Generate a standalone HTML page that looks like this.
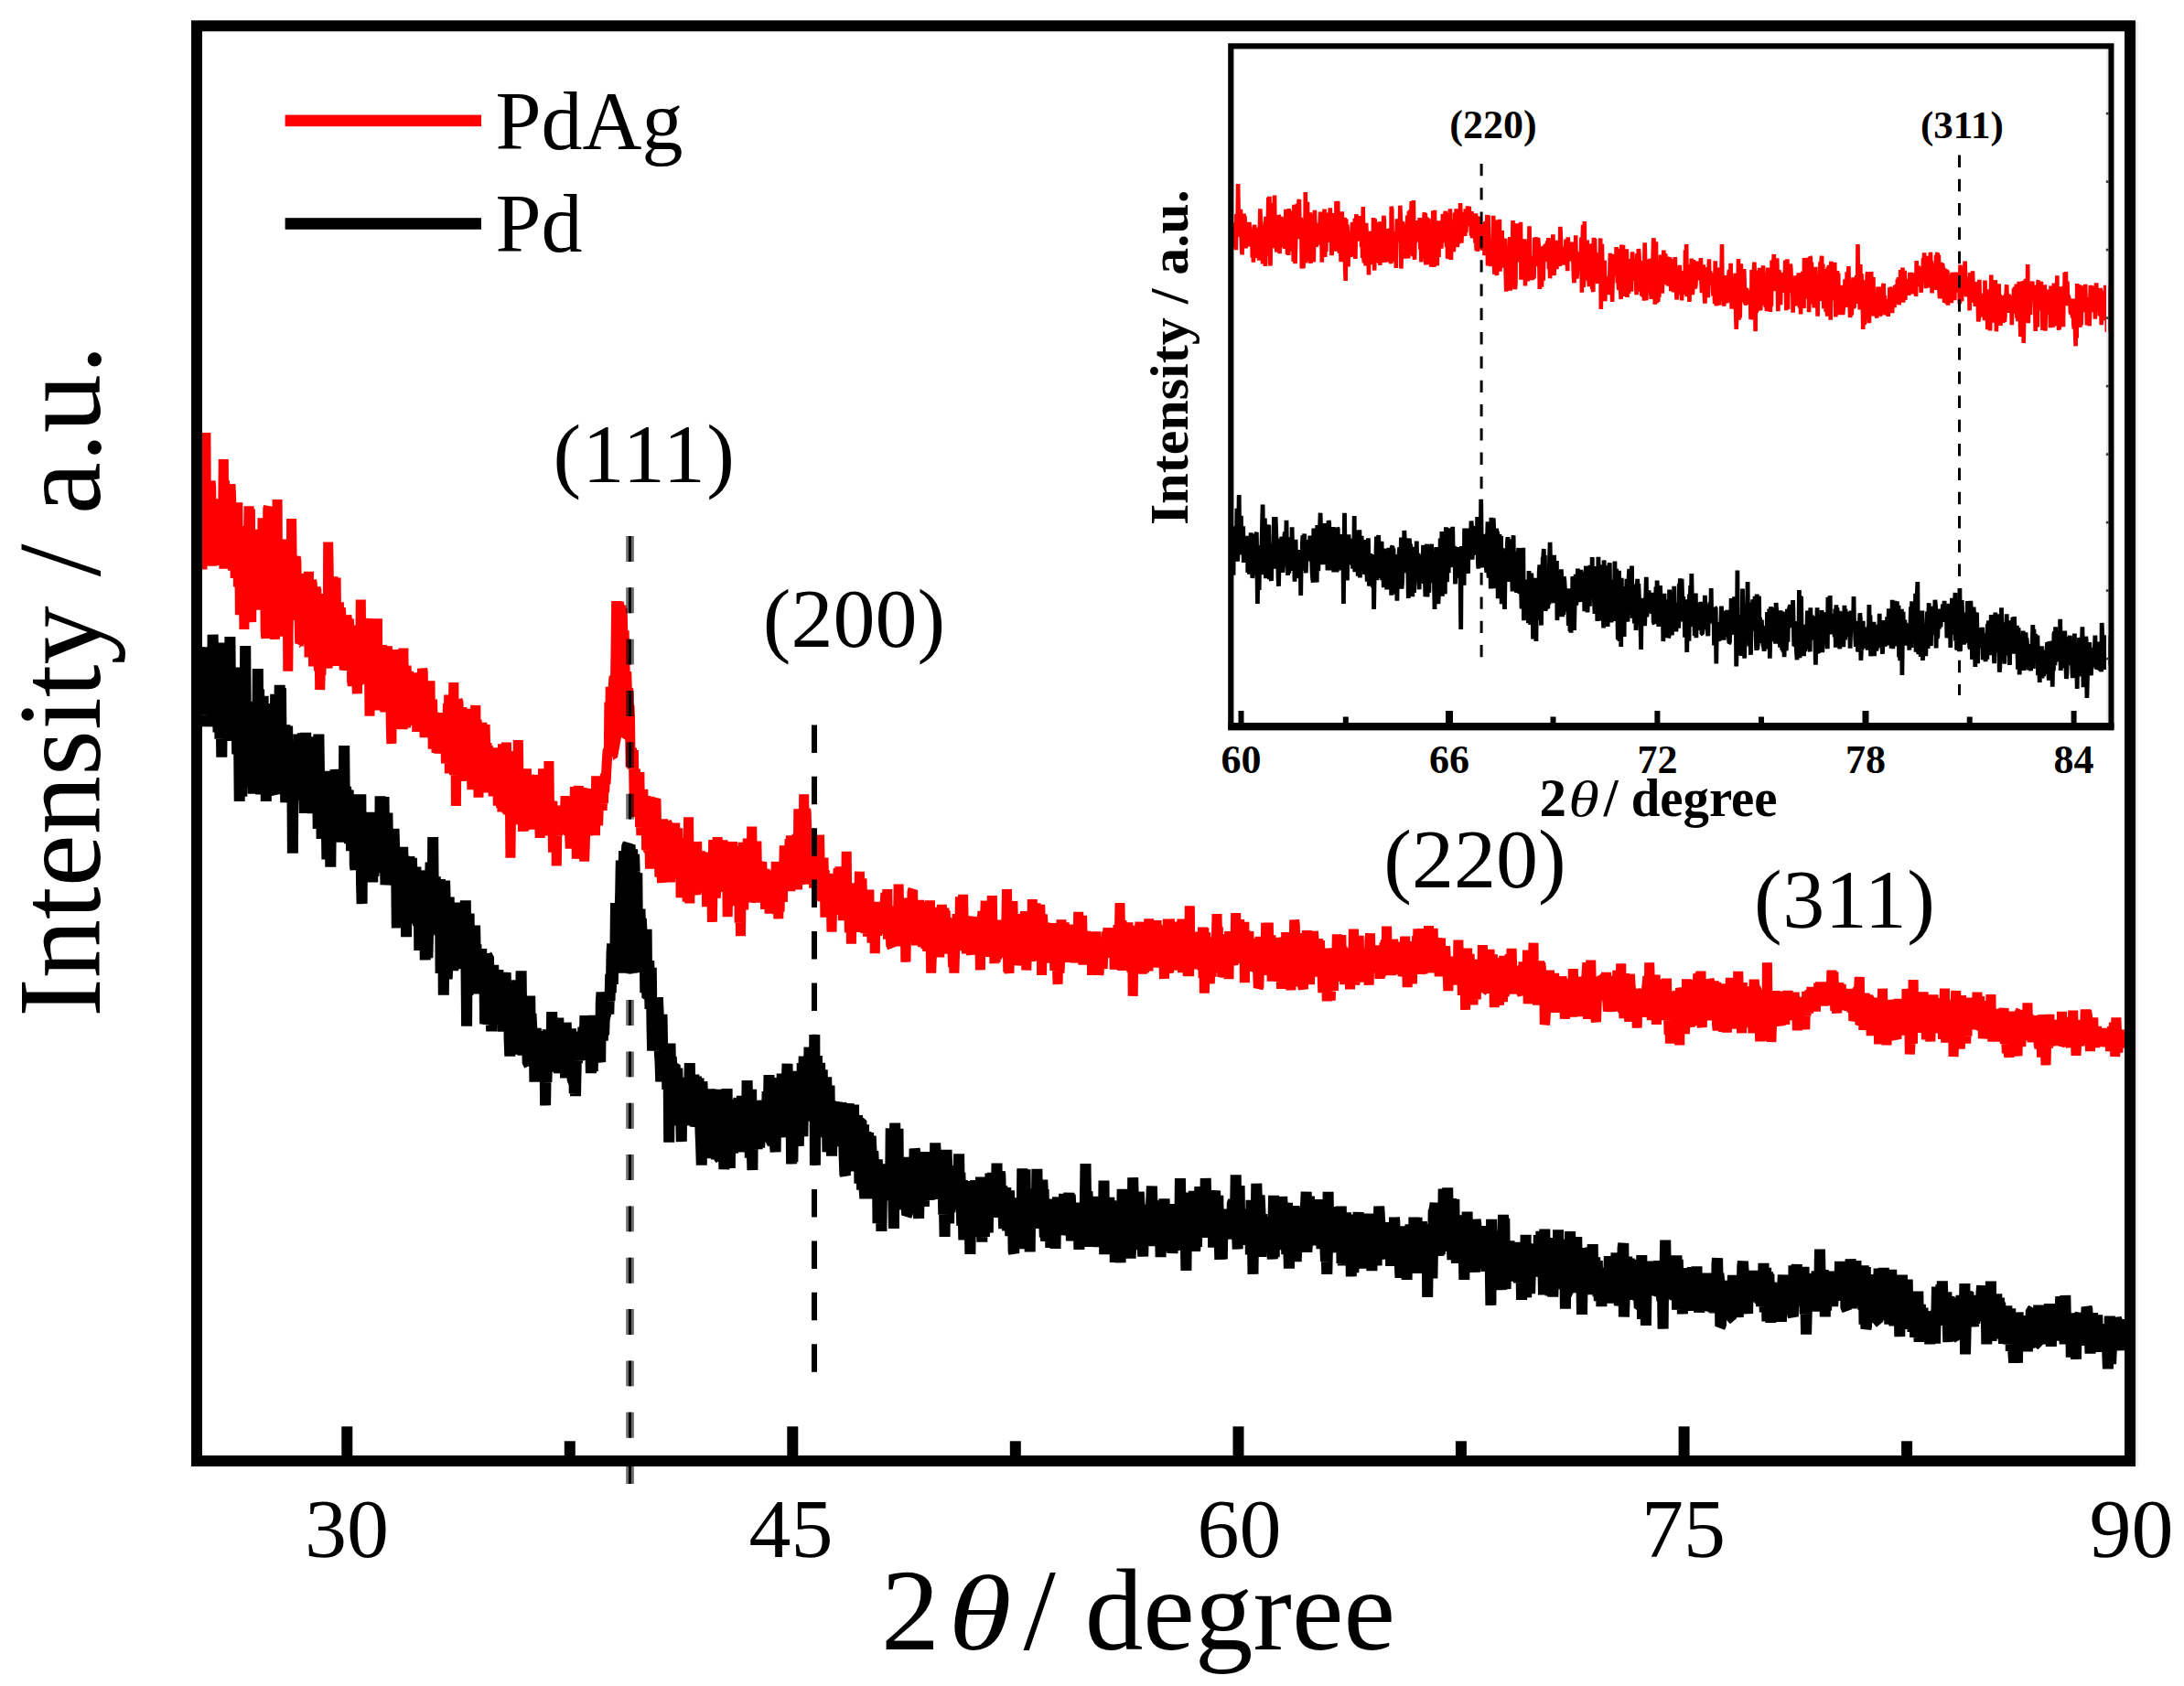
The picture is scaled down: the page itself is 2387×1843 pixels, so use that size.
<!DOCTYPE html>
<html lang="en"><head><meta charset="utf-8"><title>XRD patterns of PdAg and Pd</title>
<style>html,body{margin:0;padding:0;background:#fff}body{width:2387px;height:1843px;overflow:hidden}</style></head>
<body>
<svg width="2387" height="1843" viewBox="0 0 2387 1843" style="display:block">
<rect x="0" y="0" width="2387" height="1843" fill="#fff"/>
<path d="M221.0,622.5 L221.6,557.2 L222.3,551.2 L222.9,490.0 L223.6,566.9 L224.2,557.2 L224.9,473.0 L225.5,577.8 L226.2,581.3 L226.8,533.8 L227.5,539.5 L228.1,552.8 L228.8,590.2 L229.4,586.1 L230.1,525.9 L230.7,531.8 L231.3,591.6 L232.0,618.6 L232.6,566.5 L233.3,545.2 L233.9,602.8 L234.6,557.1 L235.2,590.9 L235.9,617.9 L236.5,588.2 L237.2,570.3 L237.8,592.3 L238.5,547.6 L239.1,563.3 L239.8,550.8 L240.4,563.6 L241.0,554.9 L241.7,565.6 L242.3,560.0 L243.0,576.3 L243.6,576.2 L244.3,502.0 L244.9,621.8 L245.6,525.2 L246.2,619.3 L246.9,569.5 L247.5,537.5 L248.2,573.0 L248.8,582.4 L249.5,615.2 L250.1,546.4 L250.7,589.1 L251.4,586.8 L252.0,529.2 L252.7,546.5 L253.3,605.5 L254.0,609.6 L254.6,623.4 L255.3,606.7 L255.9,603.5 L256.6,596.1 L257.2,631.9 L257.9,568.2 L258.5,591.7 L259.2,609.7 L259.8,549.4 L260.4,641.4 L261.1,576.8 L261.7,600.8 L262.4,672.2 L263.0,579.7 L263.7,590.4 L264.3,657.8 L265.0,575.1 L265.6,596.6 L266.3,627.8 L266.9,688.0 L267.6,631.9 L268.2,625.4 L268.9,657.7 L269.5,647.6 L270.1,634.5 L270.8,593.1 L271.4,592.5 L272.1,553.3 L272.7,639.7 L273.4,556.5 L274.0,647.2 L274.7,680.2 L275.3,582.8 L276.0,595.9 L276.6,603.3 L277.3,648.2 L277.9,590.7 L278.6,616.2 L279.2,603.0 L279.8,612.8 L280.5,666.8 L281.1,588.5 L281.8,625.1 L282.4,632.5 L283.1,653.6 L283.7,578.8 L284.4,663.4 L285.0,639.6 L285.7,655.6 L286.3,627.3 L287.0,566.4 L287.6,602.1 L288.3,654.8 L288.9,627.0 L289.5,624.1 L290.2,690.5 L290.8,697.8 L291.5,625.3 L292.1,696.4 L292.8,555.6 L293.4,554.0 L294.1,659.1 L294.7,619.1 L295.4,649.8 L296.0,648.1 L296.7,627.0 L297.3,655.2 L298.0,636.9 L298.6,577.9 L299.2,640.7 L299.9,640.2 L300.5,698.9 L301.2,595.4 L301.8,636.4 L302.5,621.6 L303.1,546.0 L303.8,695.8 L304.4,651.7 L305.1,622.8 L305.7,644.9 L306.4,666.8 L307.0,605.9 L307.7,631.8 L308.3,695.0 L308.9,671.5 L309.6,640.6 L310.2,626.0 L310.9,637.5 L311.5,589.5 L312.2,676.1 L312.8,655.6 L313.5,648.9 L314.1,599.8 L314.8,733.7 L315.4,662.6 L316.1,654.1 L316.7,628.5 L317.4,662.9 L318.0,677.7 L318.6,567.0 L319.3,628.1 L319.9,616.9 L320.6,607.5 L321.2,673.5 L321.9,664.0 L322.5,658.6 L323.2,608.5 L323.8,613.1 L324.5,646.1 L325.1,635.1 L325.8,653.3 L326.4,626.9 L327.1,672.1 L327.7,703.1 L328.3,702.4 L329.0,702.6 L329.6,656.5 L330.3,685.4 L330.9,644.1 L331.6,687.6 L332.2,646.5 L332.9,644.3 L333.5,640.6 L334.2,685.4 L334.8,673.1 L335.5,671.7 L336.1,630.9 L336.8,673.3 L337.4,624.9 L338.0,718.4 L338.7,669.6 L339.3,681.4 L340.0,673.8 L340.6,634.2 L341.3,638.0 L341.9,680.8 L342.6,728.5 L343.2,650.3 L343.9,663.9 L344.5,684.7 L345.2,643.5 L345.8,644.6 L346.5,675.8 L347.1,687.1 L347.7,677.1 L348.4,733.4 L349.0,684.1 L349.7,754.0 L350.3,734.8 L351.0,737.7 L351.6,649.0 L352.3,678.4 L352.9,721.8 L353.6,650.5 L354.2,663.3 L354.9,653.1 L355.5,651.5 L356.2,657.8 L356.8,693.8 L357.4,723.5 L358.1,730.4 L358.7,592.5 L359.4,634.8 L360.0,686.6 L360.7,678.7 L361.3,697.1 L362.0,683.7 L362.6,638.4 L363.3,697.6 L363.9,630.4 L364.6,667.2 L365.2,694.0 L365.9,694.9 L366.5,727.9 L367.1,631.5 L367.8,695.1 L368.4,704.9 L369.1,678.0 L369.7,704.7 L370.4,658.4 L371.0,706.8 L371.7,704.7 L372.3,664.3 L373.0,673.9 L373.6,687.8 L374.3,675.9 L374.9,723.4 L375.6,700.4 L376.2,732.5 L376.8,729.5 L377.5,699.4 L378.1,693.0 L378.8,672.7 L379.4,677.1 L380.1,677.8 L380.7,710.3 L381.4,676.5 L382.0,703.9 L382.7,707.6 L383.3,689.0 L384.0,698.2 L384.6,744.3 L385.3,749.5 L385.9,683.6 L386.5,700.6 L387.2,696.4 L387.8,699.8 L388.5,750.2 L389.1,727.6 L389.8,743.8 L390.4,758.3 L391.1,699.2 L391.7,706.7 L392.4,713.4 L393.0,740.2 L393.7,711.1 L394.3,655.5 L395.0,745.4 L395.6,745.7 L396.2,727.3 L396.9,695.3 L397.5,675.7 L398.2,746.1 L398.8,729.3 L399.5,693.5 L400.1,705.3 L400.8,707.4 L401.4,676.2 L402.1,726.8 L402.7,700.7 L403.4,714.1 L404.0,782.7 L404.7,720.8 L405.3,738.1 L405.9,735.8 L406.6,726.6 L407.2,727.9 L407.9,775.4 L408.5,724.1 L409.2,771.2 L409.8,707.0 L410.5,750.1 L411.1,736.8 L411.8,714.7 L412.4,676.3 L413.1,776.4 L413.7,706.9 L414.4,713.0 L415.0,742.1 L415.6,741.4 L416.3,748.2 L416.9,735.7 L417.6,705.0 L418.2,766.5 L418.9,722.4 L419.5,752.1 L420.2,762.0 L420.8,778.3 L421.5,744.0 L422.1,742.7 L422.8,745.4 L423.4,706.3 L424.1,734.3 L424.7,729.0 L425.3,726.3 L426.0,759.0 L426.6,748.1 L427.3,794.3 L427.9,813.0 L428.6,714.4 L429.2,760.5 L429.9,734.6 L430.5,771.3 L431.2,762.4 L431.8,780.4 L432.5,766.5 L433.1,777.0 L433.8,753.3 L434.4,710.2 L435.0,734.2 L435.7,741.8 L436.3,750.1 L437.0,738.9 L437.6,796.8 L438.3,757.7 L438.9,789.4 L439.6,754.2 L440.2,797.1 L440.9,708.5 L441.5,774.5 L442.2,733.6 L442.8,771.3 L443.5,795.7 L444.1,727.7 L444.7,743.9 L445.4,767.6 L446.0,758.6 L446.7,733.9 L447.3,787.1 L448.0,764.0 L448.6,790.3 L449.3,769.9 L449.9,739.2 L450.6,753.6 L451.2,792.8 L451.9,735.6 L452.5,754.7 L453.2,777.3 L453.8,786.2 L454.4,782.7 L455.1,735.4 L455.7,800.0 L456.4,763.3 L457.0,767.3 L457.7,767.4 L458.3,763.2 L459.0,748.5 L459.6,762.1 L460.3,796.5 L460.9,741.8 L461.6,731.2 L462.2,734.0 L462.9,778.2 L463.5,786.8 L464.1,806.1 L464.8,757.7 L465.4,777.0 L466.1,784.5 L466.7,800.6 L467.4,797.1 L468.0,758.3 L468.7,747.7 L469.3,772.2 L470.0,744.3 L470.6,804.2 L471.3,772.8 L471.9,774.8 L472.6,764.5 L473.2,818.6 L473.8,793.0 L474.5,779.0 L475.1,802.9 L475.8,788.8 L476.4,805.2 L477.1,822.7 L477.7,788.6 L478.4,807.2 L479.0,807.7 L479.7,823.6 L480.3,812.5 L481.0,800.9 L481.6,786.6 L482.3,808.8 L482.9,779.2 L483.5,818.8 L484.2,806.1 L484.8,818.1 L485.5,794.4 L486.1,788.7 L486.8,786.9 L487.4,834.5 L488.1,804.5 L488.7,805.0 L489.4,769.2 L490.0,810.5 L490.7,759.5 L491.3,845.4 L492.0,807.9 L492.6,814.7 L493.2,780.4 L493.9,788.7 L494.5,830.0 L495.2,810.7 L495.8,746.0 L496.5,847.2 L497.1,832.6 L497.8,770.1 L498.4,881.0 L499.1,789.0 L499.7,794.8 L500.4,766.1 L501.0,767.0 L501.7,799.6 L502.3,803.4 L502.9,831.3 L503.6,810.5 L504.2,854.0 L504.9,773.3 L505.5,784.2 L506.2,825.3 L506.8,812.4 L507.5,794.7 L508.1,838.7 L508.8,846.9 L509.4,852.7 L510.1,810.0 L510.7,820.0 L511.4,826.0 L512.0,821.8 L512.6,846.3 L513.3,808.2 L513.9,830.2 L514.6,774.9 L515.2,840.3 L515.9,863.1 L516.5,820.6 L517.2,848.1 L517.8,778.9 L518.5,813.2 L519.1,782.3 L519.8,771.0 L520.4,835.7 L521.1,787.1 L521.7,800.7 L522.3,807.6 L523.0,871.8 L523.6,821.0 L524.3,826.1 L524.9,832.4 L525.6,831.0 L526.2,817.5 L526.9,789.9 L527.5,807.0 L528.2,866.5 L528.8,831.8 L529.5,816.4 L530.1,792.0 L530.8,825.7 L531.4,828.6 L532.0,812.0 L532.7,852.1 L533.3,815.3 L534.0,826.9 L534.6,853.6 L535.3,838.9 L535.9,862.9 L536.6,829.6 L537.2,825.6 L537.9,849.7 L538.5,844.4 L539.2,870.4 L539.8,851.7 L540.5,841.8 L541.1,855.2 L541.7,861.7 L542.4,817.4 L543.0,843.7 L543.7,840.0 L544.3,880.7 L545.0,838.5 L545.6,879.6 L546.3,820.9 L546.9,853.2 L547.6,883.2 L548.2,850.3 L548.9,887.5 L549.5,813.3 L550.2,860.7 L550.8,865.1 L551.4,858.7 L552.1,824.7 L552.7,880.3 L553.4,811.6 L554.0,888.6 L554.7,872.8 L555.3,890.3 L556.0,860.3 L556.6,839.8 L557.3,854.7 L557.9,937.7 L558.6,881.9 L559.2,860.2 L559.9,877.5 L560.5,879.1 L561.1,901.0 L561.8,821.0 L562.4,858.1 L563.1,883.5 L563.7,883.4 L564.4,854.4 L565.0,861.1 L565.7,865.0 L566.3,809.0 L567.0,854.0 L567.6,852.1 L568.3,841.3 L568.9,858.0 L569.6,898.1 L570.2,845.1 L570.8,888.3 L571.5,908.8 L572.1,871.3 L572.8,908.3 L573.4,863.8 L574.1,904.6 L574.7,866.3 L575.4,840.4 L576.0,875.7 L576.7,906.7 L577.3,855.6 L578.0,879.9 L578.6,847.5 L579.2,850.5 L579.9,880.8 L580.5,867.2 L581.2,884.3 L581.8,900.5 L582.5,847.0 L583.1,858.5 L583.8,875.1 L584.4,903.5 L585.1,868.3 L585.7,865.5 L586.4,885.8 L587.0,906.7 L587.7,865.2 L588.3,871.7 L588.9,879.5 L589.6,894.8 L590.2,915.9 L590.9,854.9 L591.5,847.3 L592.2,884.8 L592.8,893.0 L593.5,840.4 L594.1,871.5 L594.8,903.3 L595.4,874.8 L596.1,895.2 L596.7,890.0 L597.4,899.9 L598.0,896.4 L598.6,893.8 L599.3,913.3 L599.9,832.0 L600.6,893.1 L601.2,912.7 L601.9,881.3 L602.5,885.4 L603.2,878.7 L603.8,875.7 L604.5,931.6 L605.1,902.9 L605.8,929.6 L606.4,908.5 L607.1,896.6 L607.7,890.2 L608.3,946.5 L609.0,895.3 L609.6,913.5 L610.3,880.5 L610.9,900.3 L611.6,906.2 L612.2,893.6 L612.9,893.9 L613.5,908.9 L614.2,909.4 L614.8,897.1 L615.5,899.0 L616.1,889.0 L616.8,910.0 L617.4,897.3 L618.0,870.1 L618.7,893.7 L619.3,911.1 L620.0,904.7 L620.6,882.6 L621.3,912.9 L621.9,910.4 L622.6,910.4 L623.2,927.6 L623.9,892.7 L624.5,910.2 L625.2,894.1 L625.8,917.4 L626.5,920.6 L627.1,908.0 L627.7,912.7 L628.4,860.0 L629.0,910.3 L629.7,876.1 L630.3,938.8 L631.0,920.0 L631.6,869.3 L632.3,859.1 L632.9,922.3 L633.6,881.5 L634.2,907.6 L634.9,872.7 L635.5,898.3 L636.2,884.6 L636.8,907.8 L637.4,890.0 L638.1,924.1 L638.7,941.5 L639.4,919.6 L640.0,894.8 L640.7,904.6 L641.3,864.3 L642.0,862.5 L642.6,913.5 L643.3,869.9 L643.9,886.2 L644.6,886.1 L645.2,874.5 L645.9,894.8 L646.5,863.6 L647.1,867.1 L647.8,906.3 L648.4,872.8 L649.1,901.2 L649.7,898.8 L650.4,913.0 L651.0,892.8 L651.7,848.3 L652.3,869.4 L653.0,872.6 L653.6,902.2 L654.3,883.9 L654.9,866.4 L655.6,882.1 L656.2,865.1 L656.8,880.1 L657.5,870.3 L658.1,885.9 L658.8,868.5 L659.4,878.1 L660.1,855.8 L660.7,866.0 L661.4,845.8 L662.0,856.9 L662.7,844.3 L663.3,832.8 L664.0,822.0 L664.6,818.9 L665.3,826.9 L665.9,767.6 L666.5,827.4 L667.2,750.9 L667.8,783.9 L668.5,772.1 L669.1,783.0 L669.8,763.2 L670.4,747.3 L671.1,738.9 L671.7,744.4 L672.4,760.2 L673.0,712.0 L673.7,657.1 L674.3,678.4 L675.0,686.7 L675.6,719.4 L676.2,658.8 L676.9,661.1 L677.5,680.0 L678.2,677.8 L678.8,661.7 L679.5,699.8 L680.1,664.8 L680.8,691.4 L681.4,730.7 L682.1,689.4 L682.7,717.9 L683.4,766.5 L684.0,739.5 L684.7,734.2 L685.3,752.7 L685.9,789.3 L686.6,752.0 L687.2,778.4 L687.9,770.7 L688.5,784.0 L689.2,838.2 L689.8,818.6 L690.5,818.0 L691.1,840.7 L691.8,824.3 L692.4,820.0 L693.1,870.2 L693.7,869.5 L694.4,840.6 L695.0,874.5 L695.6,892.7 L696.3,877.6 L696.9,881.1 L697.6,850.6 L698.2,874.9 L698.9,844.1 L699.5,904.3 L700.2,881.9 L700.8,913.1 L701.5,874.7 L702.1,908.7 L702.8,863.0 L703.4,887.7 L704.1,907.9 L704.7,905.8 L705.3,899.4 L706.0,870.1 L706.6,929.1 L707.3,917.7 L707.9,928.3 L708.6,929.3 L709.2,901.3 L709.9,917.4 L710.5,949.7 L711.2,895.6 L711.8,920.9 L712.5,903.0 L713.1,949.0 L713.8,919.1 L714.4,896.3 L715.0,905.7 L715.7,890.8 L716.3,874.5 L717.0,873.4 L717.6,906.3 L718.3,899.2 L718.9,924.9 L719.6,906.5 L720.2,927.7 L720.9,958.7 L721.5,901.5 L722.2,901.4 L722.8,945.1 L723.5,965.0 L724.1,909.8 L724.7,895.4 L725.4,922.3 L726.0,920.6 L726.7,943.0 L727.3,908.6 L728.0,924.8 L728.6,924.4 L729.3,899.9 L729.9,900.5 L730.6,940.7 L731.2,943.1 L731.9,917.1 L732.5,964.2 L733.2,952.5 L733.8,943.9 L734.4,947.3 L735.1,942.8 L735.7,950.4 L736.4,953.4 L737.0,938.6 L737.7,899.7 L738.3,934.8 L739.0,922.4 L739.6,916.0 L740.3,949.8 L740.9,905.4 L741.6,954.5 L742.2,927.2 L742.9,916.4 L743.5,923.3 L744.1,981.3 L744.8,967.3 L745.4,934.9 L746.1,960.3 L746.7,973.9 L747.4,925.0 L748.0,936.2 L748.7,958.9 L749.3,949.7 L750.0,935.8 L750.6,973.3 L751.3,985.4 L751.9,958.8 L752.6,893.4 L753.2,954.3 L753.8,987.3 L754.5,951.9 L755.1,943.7 L755.8,949.6 L756.4,964.0 L757.1,960.5 L757.7,955.6 L758.4,921.3 L759.0,929.2 L759.7,945.1 L760.3,964.3 L761.0,978.3 L761.6,920.0 L762.3,949.5 L762.9,944.2 L763.5,951.3 L764.2,958.0 L764.8,938.6 L765.5,930.3 L766.1,975.0 L766.8,970.7 L767.4,949.2 L768.1,955.3 L768.7,944.9 L769.4,931.7 L770.0,971.2 L770.7,946.4 L771.3,937.9 L772.0,948.0 L772.6,991.2 L773.2,968.3 L773.9,964.4 L774.5,961.6 L775.2,976.7 L775.8,974.1 L776.5,933.6 L777.1,954.4 L777.8,946.0 L778.4,1007.9 L779.1,957.4 L779.7,918.0 L780.4,981.9 L781.0,963.7 L781.7,922.7 L782.3,981.9 L782.9,960.9 L783.6,968.1 L784.2,915.0 L784.9,961.9 L785.5,948.1 L786.2,923.9 L786.8,945.9 L787.5,962.7 L788.1,959.9 L788.8,972.9 L789.4,957.2 L790.1,918.4 L790.7,974.9 L791.4,942.0 L792.0,930.5 L792.6,952.5 L793.3,929.9 L793.9,967.3 L794.6,939.5 L795.2,1002.1 L795.9,954.5 L796.5,948.1 L797.2,946.2 L797.8,926.8 L798.5,942.2 L799.1,944.9 L799.8,954.6 L800.4,920.2 L801.1,963.2 L801.7,990.2 L802.3,953.6 L803.0,961.7 L803.6,972.0 L804.3,945.9 L804.9,953.6 L805.6,982.7 L806.2,966.5 L806.9,936.7 L807.5,924.9 L808.2,1008.8 L808.8,970.3 L809.5,1023.3 L810.1,963.3 L810.8,973.3 L811.4,961.4 L812.0,920.8 L812.7,994.3 L813.3,969.5 L814.0,953.2 L814.6,970.3 L815.3,951.9 L815.9,949.4 L816.6,973.3 L817.2,916.6 L817.9,975.1 L818.5,963.2 L819.2,970.2 L819.8,973.2 L820.5,985.8 L821.1,983.5 L821.7,903.5 L822.4,947.8 L823.0,968.9 L823.7,946.1 L824.3,936.9 L825.0,964.7 L825.6,963.0 L826.3,979.5 L826.9,919.5 L827.6,968.5 L828.2,970.2 L828.9,959.8 L829.5,986.7 L830.2,941.6 L830.8,965.5 L831.4,952.3 L832.1,959.8 L832.7,942.2 L833.4,958.7 L834.0,974.7 L834.7,964.9 L835.3,969.8 L836.0,949.8 L836.6,994.0 L837.3,952.6 L837.9,966.3 L838.6,977.2 L839.2,963.8 L839.9,981.2 L840.5,971.3 L841.1,998.6 L841.8,978.2 L842.4,975.5 L843.1,954.2 L843.7,976.6 L844.4,986.1 L845.0,975.5 L845.7,951.4 L846.3,957.9 L847.0,963.2 L847.6,967.2 L848.3,942.0 L848.9,999.1 L849.6,963.7 L850.2,966.9 L850.8,1004.4 L851.5,963.0 L852.1,996.9 L852.8,945.7 L853.4,952.5 L854.1,942.7 L854.7,950.4 L855.4,986.0 L856.0,947.2 L856.7,949.2 L857.3,924.4 L858.0,948.7 L858.6,957.9 L859.3,944.0 L859.9,944.3 L860.5,964.3 L861.2,958.1 L861.8,945.5 L862.5,931.8 L863.1,917.2 L863.8,974.1 L864.4,913.4 L865.1,952.7 L865.7,935.7 L866.4,924.4 L867.0,953.8 L867.7,921.7 L868.3,959.2 L869.0,913.8 L869.6,942.5 L870.2,957.1 L870.9,911.9 L871.5,972.3 L872.2,946.8 L872.8,884.2 L873.5,956.6 L874.1,966.8 L874.8,921.9 L875.4,922.8 L876.1,934.2 L876.7,886.5 L877.4,929.3 L878.0,945.5 L878.7,868.2 L879.3,949.6 L879.9,966.6 L880.6,884.5 L881.2,888.1 L881.9,912.2 L882.5,941.6 L883.2,936.9 L883.8,909.7 L884.5,906.0 L885.1,915.7 L885.8,962.8 L886.4,913.2 L887.1,922.5 L887.7,956.7 L888.4,931.6 L889.0,917.3 L889.6,970.8 L890.3,948.5 L890.9,927.9 L891.6,935.9 L892.2,965.6 L892.9,939.1 L893.5,953.9 L894.2,969.0 L894.8,972.7 L895.5,912.7 L896.1,943.3 L896.8,948.0 L897.4,958.9 L898.1,974.8 L898.7,984.8 L899.3,950.7 L900.0,937.7 L900.6,967.2 L901.3,951.2 L901.9,1002.8 L902.6,974.1 L903.2,968.6 L903.9,989.8 L904.5,955.3 L905.2,963.0 L905.8,967.4 L906.5,985.8 L907.1,1000.2 L907.8,989.9 L908.4,989.7 L909.0,1018.6 L909.7,982.4 L910.3,970.1 L911.0,999.3 L911.6,962.3 L912.3,974.1 L912.9,980.8 L913.6,992.2 L914.2,961.2 L914.9,971.7 L915.5,959.7 L916.2,949.3 L916.8,999.8 L917.5,987.2 L918.1,947.4 L918.7,958.7 L919.4,990.6 L920.0,967.3 L920.7,958.8 L921.3,1006.1 L922.0,971.4 L922.6,974.2 L923.3,993.5 L923.9,968.4 L924.6,983.4 L925.2,930.7 L925.9,998.4 L926.5,969.6 L927.2,1005.5 L927.8,991.3 L928.4,1019.4 L929.1,989.5 L929.7,975.5 L930.4,1031.6 L931.0,965.2 L931.7,986.7 L932.3,986.1 L933.0,1004.3 L933.6,990.0 L934.3,973.7 L934.9,1008.4 L935.6,982.8 L936.2,996.1 L936.9,1018.2 L937.5,1015.5 L938.1,980.8 L938.8,992.5 L939.4,952.7 L940.1,1013.1 L940.7,1006.0 L941.4,1012.5 L942.0,960.4 L942.7,993.0 L943.3,973.9 L944.0,988.0 L944.6,992.8 L945.3,1007.7 L945.9,1020.0 L946.6,1013.8 L947.2,1005.5 L947.8,995.3 L948.5,1023.5 L949.1,1006.7 L949.8,972.5 L950.4,1002.0 L951.1,1012.0 L951.7,987.6 L952.4,1008.1 L953.0,1030.6 L953.7,1000.8 L954.3,1004.5 L955.0,1005.0 L955.6,989.5 L956.3,1042.3 L956.9,989.4 L957.5,1001.6 L958.2,993.1 L958.8,1022.7 L959.5,1004.8 L960.1,1020.8 L960.8,985.8 L961.4,1006.2 L962.1,1016.0 L962.7,1017.8 L963.4,996.2 L964.0,1004.5 L964.7,1007.9 L965.3,1000.4 L966.0,999.1 L966.6,1014.3 L967.2,986.4 L967.9,976.1 L968.5,997.4 L969.2,1009.8 L969.8,972.0 L970.5,1026.6 L971.1,1006.3 L971.8,1014.0 L972.4,991.3 L973.1,1004.0 L973.7,1033.7 L974.4,1034.4 L975.0,1014.9 L975.7,1000.8 L976.3,1003.7 L976.9,1026.6 L977.6,994.8 L978.2,991.7 L978.9,1004.5 L979.5,1021.3 L980.2,990.3 L980.8,1013.1 L981.5,1013.6 L982.1,966.5 L982.8,1005.7 L983.4,1023.0 L984.1,1017.6 L984.7,985.3 L985.4,1034.3 L986.0,1016.0 L986.6,1013.8 L987.3,1003.1 L987.9,1004.2 L988.6,987.3 L989.2,1005.2 L989.9,1051.7 L990.5,1018.9 L991.2,998.0 L991.8,981.8 L992.5,990.6 L993.1,1003.9 L993.8,1029.8 L994.4,982.9 L995.1,1009.5 L995.7,1018.8 L996.3,1019.4 L997.0,974.0 L997.6,973.1 L998.3,1019.1 L998.9,1011.5 L999.6,1018.1 L1000.2,994.3 L1000.9,1001.7 L1001.5,1033.3 L1002.2,1007.9 L1002.8,1009.3 L1003.5,998.2 L1004.1,1029.7 L1004.8,983.9 L1005.4,1002.0 L1006.0,1017.4 L1006.7,1010.3 L1007.3,1025.3 L1008.0,1018.4 L1008.6,1035.0 L1009.3,1009.1 L1009.9,1011.1 L1010.6,1018.1 L1011.2,986.1 L1011.9,1037.1 L1012.5,1000.9 L1013.2,1033.8 L1013.8,1039.3 L1014.5,1033.1 L1015.1,1020.7 L1015.7,1007.9 L1016.4,984.3 L1017.0,1027.9 L1017.7,1063.6 L1018.3,1047.1 L1019.0,1014.9 L1019.6,1030.0 L1020.3,1013.3 L1020.9,1027.0 L1021.6,1014.2 L1022.2,1017.1 L1022.9,992.0 L1023.5,1008.0 L1024.2,1017.3 L1024.8,1041.1 L1025.4,1024.3 L1026.1,999.2 L1026.7,1046.2 L1027.4,1025.5 L1028.0,1038.3 L1028.7,1004.1 L1029.3,989.0 L1030.0,1006.2 L1030.6,1001.8 L1031.3,1023.5 L1031.9,992.8 L1032.6,1003.8 L1033.2,995.6 L1033.9,1021.2 L1034.5,1003.0 L1035.1,1042.3 L1035.8,1032.2 L1036.4,1033.1 L1037.1,1014.9 L1037.7,1022.6 L1038.4,1033.3 L1039.0,1003.8 L1039.7,1039.7 L1040.3,1017.0 L1041.0,1040.0 L1041.6,1057.0 L1042.3,1045.3 L1042.9,1063.6 L1043.6,1039.5 L1044.2,1013.4 L1044.8,1011.8 L1045.5,1015.2 L1046.1,999.3 L1046.8,1023.8 L1047.4,1007.7 L1048.1,1039.1 L1048.7,1025.7 L1049.4,980.3 L1050.0,1004.1 L1050.7,1003.4 L1051.3,1009.0 L1052.0,1009.6 L1052.6,977.9 L1053.3,1018.5 L1053.9,1002.6 L1054.5,1028.9 L1055.2,1037.2 L1055.8,1021.8 L1056.5,1042.2 L1057.1,1029.4 L1057.8,1012.3 L1058.4,1015.3 L1059.1,1022.4 L1059.7,1031.8 L1060.4,1025.6 L1061.0,1040.0 L1061.7,1043.3 L1062.3,1005.0 L1063.0,1002.4 L1063.6,1021.3 L1064.2,1031.5 L1064.9,1039.9 L1065.5,1035.3 L1066.2,1034.9 L1066.8,1006.8 L1067.5,1030.6 L1068.1,1012.0 L1068.8,1031.4 L1069.4,1040.4 L1070.1,1011.4 L1070.7,1019.2 L1071.4,1060.3 L1072.0,1009.5 L1072.7,1014.0 L1073.3,1002.9 L1073.9,996.3 L1074.6,1041.4 L1075.2,1010.0 L1075.9,1010.8 L1076.5,1007.2 L1077.2,984.7 L1077.8,1035.4 L1078.5,1010.9 L1079.1,1019.9 L1079.8,1045.8 L1080.4,1017.5 L1081.1,1022.2 L1081.7,1022.8 L1082.4,1042.6 L1083.0,994.4 L1083.6,1008.5 L1084.3,979.1 L1084.9,1018.7 L1085.6,1029.5 L1086.2,1010.2 L1086.9,1053.1 L1087.5,1034.9 L1088.2,1051.9 L1088.8,1020.2 L1089.5,1048.9 L1090.1,1008.2 L1090.8,1024.4 L1091.4,1019.4 L1092.1,1009.9 L1092.7,1046.2 L1093.3,1040.5 L1094.0,1005.7 L1094.6,1029.9 L1095.3,1019.8 L1095.9,1021.1 L1096.6,1029.2 L1097.2,1010.2 L1097.9,1022.6 L1098.5,1024.9 L1099.2,1009.3 L1099.8,1011.3 L1100.5,972.0 L1101.1,1021.6 L1101.8,1062.6 L1102.4,1060.0 L1103.0,1063.6 L1103.7,1028.1 L1104.3,986.6 L1105.0,1011.4 L1105.6,1007.3 L1106.3,1009.8 L1106.9,985.2 L1107.6,1029.2 L1108.2,1027.3 L1108.9,1010.3 L1109.5,1023.8 L1110.2,1042.4 L1110.8,1055.1 L1111.5,1001.9 L1112.1,1055.3 L1112.7,999.1 L1113.4,1011.8 L1114.0,1019.8 L1114.7,1055.2 L1115.3,1038.2 L1116.0,1037.9 L1116.6,1055.5 L1117.3,1031.4 L1117.9,1019.2 L1118.6,1053.7 L1119.2,1023.4 L1119.9,1004.5 L1120.5,996.3 L1121.2,1030.0 L1121.8,1060.5 L1122.4,1040.3 L1123.1,1027.8 L1123.7,1048.5 L1124.4,1000.3 L1125.0,1034.3 L1125.7,1017.0 L1126.3,1050.8 L1127.0,1011.5 L1127.6,1040.3 L1128.3,983.0 L1128.9,1026.1 L1129.6,1037.7 L1130.2,1023.1 L1130.9,1050.1 L1131.5,1021.3 L1132.1,987.2 L1132.8,1049.3 L1133.4,1047.0 L1134.1,1032.6 L1134.7,1047.4 L1135.4,1035.2 L1136.0,1009.4 L1136.7,988.9 L1137.3,1005.8 L1138.0,1018.4 L1138.6,1066.0 L1139.3,999.7 L1139.9,1008.5 L1140.6,1048.8 L1141.2,1012.3 L1141.8,1012.1 L1142.5,1008.7 L1143.1,1051.6 L1143.8,1038.2 L1144.4,1040.3 L1145.1,1052.3 L1145.7,1042.3 L1146.4,1049.0 L1147.0,1033.3 L1147.7,1042.1 L1148.3,1038.4 L1149.0,1040.0 L1149.6,1009.2 L1150.3,1025.5 L1150.9,1023.3 L1151.5,1018.9 L1152.2,1029.5 L1152.8,1060.9 L1153.5,1046.8 L1154.1,1033.0 L1154.8,1037.4 L1155.4,1055.6 L1156.1,1076.0 L1156.7,1039.4 L1157.4,1060.8 L1158.0,1063.4 L1158.7,1048.9 L1159.3,1043.6 L1160.0,1005.4 L1160.6,1023.6 L1161.2,1034.6 L1161.9,1041.6 L1162.5,1042.2 L1163.2,1008.3 L1163.8,1027.2 L1164.5,1040.0 L1165.1,1023.5 L1165.8,1032.0 L1166.4,1043.3 L1167.1,1039.9 L1167.7,1037.6 L1168.4,1046.0 L1169.0,1051.6 L1169.7,1029.7 L1170.3,1018.0 L1170.9,1023.2 L1171.6,1026.0 L1172.2,1032.5 L1172.9,1010.6 L1173.5,1021.5 L1174.2,1028.8 L1174.8,1052.4 L1175.5,1039.9 L1176.1,1029.8 L1176.8,1044.9 L1177.4,1034.4 L1178.1,1035.1 L1178.7,996.8 L1179.4,1036.5 L1180.0,1033.7 L1180.6,1042.1 L1181.3,1023.5 L1181.9,1032.3 L1182.6,1000.9 L1183.2,1025.7 L1183.9,1054.5 L1184.5,1026.9 L1185.2,1032.3 L1185.8,1026.4 L1186.5,1017.8 L1187.1,1040.2 L1187.8,1033.0 L1188.4,1049.5 L1189.1,1021.0 L1189.7,1034.7 L1190.3,1029.5 L1191.0,1026.1 L1191.6,1050.8 L1192.3,1024.4 L1192.9,1024.8 L1193.6,1066.0 L1194.2,1034.7 L1194.9,1032.9 L1195.5,1043.1 L1196.2,1021.1 L1196.8,1041.7 L1197.5,1018.5 L1198.1,1029.3 L1198.8,1027.8 L1199.4,1057.3 L1200.0,1046.4 L1200.7,1065.2 L1201.3,1062.7 L1202.0,1025.8 L1202.6,1044.7 L1203.3,1029.5 L1203.9,1026.2 L1204.6,1055.2 L1205.2,1058.9 L1205.9,1037.9 L1206.5,1041.0 L1207.2,1040.1 L1207.8,1040.4 L1208.5,1040.7 L1209.1,1018.3 L1209.7,1044.4 L1210.4,1023.0 L1211.0,1014.4 L1211.7,1031.2 L1212.3,1037.6 L1213.0,1046.6 L1213.6,1038.9 L1214.3,1037.2 L1214.9,1021.4 L1215.6,1038.6 L1216.2,1035.5 L1216.9,1036.7 L1217.5,1019.7 L1218.2,1059.7 L1218.8,1044.3 L1219.4,1043.1 L1220.1,1033.7 L1220.7,1027.6 L1221.4,1047.7 L1222.0,1011.1 L1222.7,1025.4 L1223.3,1028.5 L1224.0,987.2 L1224.6,1028.9 L1225.3,1057.6 L1225.9,1006.0 L1226.6,1060.9 L1227.2,1041.0 L1227.9,1051.7 L1228.5,1028.3 L1229.1,1054.3 L1229.8,1032.3 L1230.4,1042.3 L1231.1,1014.0 L1231.7,1047.9 L1232.4,1041.3 L1233.0,1008.3 L1233.7,1038.3 L1234.3,1035.0 L1235.0,1054.2 L1235.6,1029.6 L1236.3,1044.3 L1236.9,1062.7 L1237.6,1026.9 L1238.2,1088.8 L1238.8,1045.7 L1239.5,1037.8 L1240.1,1018.8 L1240.8,1012.0 L1241.4,1057.4 L1242.1,1033.7 L1242.7,1030.9 L1243.4,1058.8 L1244.0,1052.2 L1244.7,1042.8 L1245.3,1016.2 L1246.0,1007.9 L1246.6,1055.6 L1247.3,1038.9 L1247.9,1035.0 L1248.5,1064.7 L1249.2,1031.7 L1249.8,1044.2 L1250.5,1063.1 L1251.1,1047.4 L1251.8,1028.0 L1252.4,1022.9 L1253.1,1056.0 L1253.7,1015.9 L1254.4,1049.1 L1255.0,1061.5 L1255.7,1004.4 L1256.3,1048.2 L1257.0,1036.0 L1257.6,1057.3 L1258.2,1039.0 L1258.9,1023.4 L1259.5,1040.2 L1260.2,1036.9 L1260.8,1024.8 L1261.5,1030.9 L1262.1,1015.7 L1262.8,1021.6 L1263.4,1045.0 L1264.1,1006.0 L1264.7,1039.5 L1265.4,1035.4 L1266.0,1026.1 L1266.7,1057.6 L1267.3,1046.5 L1267.9,1026.5 L1268.6,1039.2 L1269.2,1050.6 L1269.9,1011.4 L1270.5,1039.8 L1271.2,1032.6 L1271.8,1043.0 L1272.5,1070.0 L1273.1,1026.5 L1273.8,1031.6 L1274.4,1017.9 L1275.1,1040.8 L1275.7,1047.4 L1276.3,1004.5 L1277.0,1061.4 L1277.6,1063.5 L1278.3,1004.7 L1278.9,1012.7 L1279.6,1045.4 L1280.2,1039.2 L1280.9,1057.0 L1281.5,1032.9 L1282.2,1059.1 L1282.8,1014.9 L1283.5,1044.5 L1284.1,1030.3 L1284.8,1029.6 L1285.4,1007.6 L1286.0,1030.5 L1286.7,1060.5 L1287.3,1026.2 L1288.0,1033.1 L1288.6,1039.2 L1289.3,1020.3 L1289.9,1041.3 L1290.6,1046.4 L1291.2,1032.6 L1291.9,1004.6 L1292.5,1063.2 L1293.2,1037.6 L1293.8,1036.4 L1294.5,1033.2 L1295.1,1026.7 L1295.7,1008.1 L1296.4,1036.5 L1297.0,1040.2 L1297.7,1055.1 L1298.3,1066.8 L1299.0,1025.5 L1299.6,1067.1 L1300.3,990.4 L1300.9,1049.7 L1301.6,1021.6 L1302.2,1046.1 L1302.9,1023.6 L1303.5,1052.7 L1304.2,1018.7 L1304.8,1042.1 L1305.4,1034.3 L1306.1,1048.5 L1306.7,1047.1 L1307.4,1045.8 L1308.0,1034.2 L1308.7,1059.1 L1309.3,1054.2 L1310.0,1030.2 L1310.6,1058.0 L1311.3,1033.3 L1311.9,1046.7 L1312.6,1043.7 L1313.2,1044.0 L1313.9,1060.2 L1314.5,1013.5 L1315.1,1069.1 L1315.8,1014.2 L1316.4,1085.7 L1317.1,1056.5 L1317.7,1019.3 L1318.4,1052.7 L1319.0,1040.3 L1319.7,1024.5 L1320.3,1067.7 L1321.0,1065.8 L1321.6,1052.1 L1322.3,1075.4 L1322.9,1047.3 L1323.6,1039.1 L1324.2,1067.6 L1324.8,1029.9 L1325.5,1057.4 L1326.1,1062.7 L1326.8,1046.2 L1327.4,1043.7 L1328.1,1050.1 L1328.7,1045.4 L1329.4,1028.1 L1330.0,999.1 L1330.7,1030.7 L1331.3,1013.4 L1332.0,1056.3 L1332.6,1030.7 L1333.3,1042.6 L1333.9,1051.3 L1334.5,1055.7 L1335.2,1021.4 L1335.8,1068.0 L1336.5,1053.0 L1337.1,1048.0 L1337.8,1021.0 L1338.4,1068.8 L1339.1,1047.7 L1339.7,1055.4 L1340.4,1031.1 L1341.0,1068.6 L1341.7,1061.3 L1342.3,1034.3 L1343.0,1070.1 L1343.6,1018.1 L1344.2,1051.0 L1344.9,1047.2 L1345.5,1048.0 L1346.2,1024.4 L1346.8,1030.3 L1347.5,1052.8 L1348.1,1054.7 L1348.8,1036.0 L1349.4,1032.7 L1350.1,1028.6 L1350.7,998.0 L1351.4,1035.3 L1352.0,1028.9 L1352.7,1006.5 L1353.3,1008.7 L1353.9,1020.0 L1354.6,1005.0 L1355.2,1032.4 L1355.9,1034.5 L1356.5,1023.1 L1357.2,1033.0 L1357.8,1038.9 L1358.5,1011.3 L1359.1,1052.9 L1359.8,1007.8 L1360.4,1074.2 L1361.1,1017.5 L1361.7,1042.9 L1362.4,1036.8 L1363.0,1049.3 L1363.6,1030.9 L1364.3,1052.6 L1364.9,1018.0 L1365.6,1056.8 L1366.2,1039.8 L1366.9,1050.9 L1367.5,1061.7 L1368.2,1025.5 L1368.8,1035.5 L1369.5,1033.0 L1370.1,1043.9 L1370.8,1048.3 L1371.4,1057.5 L1372.1,1049.3 L1372.7,1043.2 L1373.3,1054.6 L1374.0,1062.5 L1374.6,1061.4 L1375.3,1079.7 L1375.9,1078.6 L1376.6,1049.4 L1377.2,1023.9 L1377.9,1034.4 L1378.5,1055.4 L1379.2,1065.6 L1379.8,1037.3 L1380.5,1052.7 L1381.1,1046.4 L1381.8,1053.3 L1382.4,1048.6 L1383.0,1037.4 L1383.7,1008.8 L1384.3,1020.8 L1385.0,1051.2 L1385.6,1043.6 L1386.3,1008.6 L1386.9,1045.8 L1387.6,1059.9 L1388.2,1025.9 L1388.9,1022.5 L1389.5,1048.6 L1390.2,1072.7 L1390.8,1052.1 L1391.5,1040.4 L1392.1,1052.3 L1392.7,1055.9 L1393.4,1053.3 L1394.0,1046.4 L1394.7,1028.7 L1395.3,1027.4 L1396.0,1037.7 L1396.6,1044.2 L1397.3,1024.7 L1397.9,1072.9 L1398.6,1056.5 L1399.2,1038.0 L1399.9,1059.4 L1400.5,1080.9 L1401.2,1051.0 L1401.8,1050.6 L1402.4,1064.0 L1403.1,1024.5 L1403.7,1037.6 L1404.4,1034.2 L1405.0,1059.5 L1405.7,1019.1 L1406.3,1052.1 L1407.0,1038.8 L1407.6,1042.0 L1408.3,1037.6 L1408.9,1070.7 L1409.6,1032.5 L1410.2,1027.1 L1410.9,1082.4 L1411.5,1037.0 L1412.1,1054.7 L1412.8,1045.3 L1413.4,1046.8 L1414.1,1047.0 L1414.7,1005.5 L1415.4,1013.3 L1416.0,1078.5 L1416.7,1026.9 L1417.3,1054.3 L1418.0,1027.7 L1418.6,1044.4 L1419.3,1041.6 L1419.9,1069.4 L1420.6,1042.6 L1421.2,1021.0 L1421.8,1022.9 L1422.5,1051.0 L1423.1,1060.3 L1423.8,1079.0 L1424.4,1081.1 L1425.1,1023.3 L1425.7,1044.7 L1426.4,1026.8 L1427.0,1051.5 L1427.7,1060.3 L1428.3,1017.2 L1429.0,1061.6 L1429.6,1059.7 L1430.3,1043.8 L1430.9,1038.3 L1431.5,1076.0 L1432.2,1046.3 L1432.8,1030.9 L1433.5,1051.1 L1434.1,1066.8 L1434.8,1061.3 L1435.4,1018.0 L1436.1,1027.7 L1436.7,1043.8 L1437.4,1053.5 L1438.0,1053.8 L1438.7,1030.6 L1439.3,1067.3 L1440.0,1060.2 L1440.6,1026.3 L1441.2,1036.8 L1441.9,1051.3 L1442.5,1028.1 L1443.2,1054.3 L1443.8,1056.9 L1444.5,1047.1 L1445.1,1064.3 L1445.8,1085.1 L1446.4,1044.3 L1447.1,1063.4 L1447.7,1048.3 L1448.4,1081.5 L1449.0,1077.0 L1449.7,1056.5 L1450.3,1094.3 L1450.9,1069.9 L1451.6,1056.1 L1452.2,1037.0 L1452.9,1040.8 L1453.5,1054.8 L1454.2,1093.5 L1454.8,1075.7 L1455.5,1080.6 L1456.1,1073.4 L1456.8,1080.7 L1457.4,1082.7 L1458.1,1039.5 L1458.7,1067.9 L1459.4,1068.1 L1460.0,1065.8 L1460.6,1064.5 L1461.3,1021.4 L1461.9,1060.3 L1462.6,1034.5 L1463.2,1072.9 L1463.9,1048.2 L1464.5,1052.0 L1465.2,1055.5 L1465.8,1022.0 L1466.5,1053.2 L1467.1,1034.7 L1467.8,1071.9 L1468.4,1046.7 L1469.1,1036.3 L1469.7,1076.2 L1470.3,1050.1 L1471.0,1038.5 L1471.6,1052.9 L1472.3,1051.2 L1472.9,1058.4 L1473.6,1037.2 L1474.2,1072.2 L1474.9,1059.4 L1475.5,1081.4 L1476.2,1063.2 L1476.8,1036.9 L1477.5,1071.5 L1478.1,1049.0 L1478.8,1055.0 L1479.4,1015.6 L1480.0,1031.8 L1480.7,1076.2 L1481.3,1071.6 L1482.0,1023.0 L1482.6,1058.3 L1483.3,1058.5 L1483.9,1073.7 L1484.6,1034.0 L1485.2,1022.9 L1485.9,1057.6 L1486.5,1041.0 L1487.2,1042.2 L1487.8,1036.9 L1488.5,1073.0 L1489.1,1037.3 L1489.7,1068.1 L1490.4,1062.2 L1491.0,1040.5 L1491.7,1068.1 L1492.3,1072.9 L1493.0,1057.4 L1493.6,1047.4 L1494.3,1064.0 L1494.9,1038.5 L1495.6,1059.3 L1496.2,1076.7 L1496.9,1028.1 L1497.5,1020.3 L1498.2,1062.7 L1498.8,1035.6 L1499.4,1042.6 L1500.1,1052.6 L1500.7,1039.7 L1501.4,1051.9 L1502.0,1033.4 L1502.7,1040.8 L1503.3,1048.0 L1504.0,1058.4 L1504.6,1042.3 L1505.3,1054.6 L1505.9,1058.8 L1506.6,1057.1 L1507.2,1046.9 L1507.9,1069.8 L1508.5,1036.1 L1509.1,1065.5 L1509.8,1064.5 L1510.4,1062.8 L1511.1,1040.2 L1511.7,1063.8 L1512.4,1056.0 L1513.0,1030.5 L1513.7,1043.4 L1514.3,1027.5 L1515.0,1054.3 L1515.6,1012.6 L1516.3,1063.0 L1516.9,1032.8 L1517.6,1032.7 L1518.2,1045.6 L1518.8,1046.2 L1519.5,1060.2 L1520.1,1043.7 L1520.8,1066.2 L1521.4,1040.7 L1522.1,1065.0 L1522.7,1026.8 L1523.4,1040.7 L1524.0,1049.8 L1524.7,1061.9 L1525.3,1057.3 L1526.0,1036.3 L1526.6,1029.8 L1527.3,1049.1 L1527.9,1048.2 L1528.5,1043.6 L1529.2,1049.2 L1529.8,1029.8 L1530.5,1057.0 L1531.1,1064.0 L1531.8,1036.3 L1532.4,1036.8 L1533.1,1067.0 L1533.7,1064.5 L1534.4,1037.5 L1535.0,1039.0 L1535.7,1023.7 L1536.3,1055.5 L1537.0,1051.1 L1537.6,1048.5 L1538.2,1079.1 L1538.9,1045.1 L1539.5,1045.8 L1540.2,1050.8 L1540.8,1044.4 L1541.5,1062.0 L1542.1,1044.2 L1542.8,1047.9 L1543.4,1075.3 L1544.1,1037.8 L1544.7,1029.2 L1545.4,1047.2 L1546.0,1036.5 L1546.7,1035.9 L1547.3,1047.0 L1547.9,1055.0 L1548.6,1023.2 L1549.2,1040.5 L1549.9,1015.4 L1550.5,1054.3 L1551.2,1028.7 L1551.8,1050.1 L1552.5,1064.6 L1553.1,1058.4 L1553.8,1046.3 L1554.4,1015.1 L1555.1,1064.7 L1555.7,1035.0 L1556.4,1050.4 L1557.0,1033.6 L1557.6,1036.9 L1558.3,1060.7 L1558.9,1018.6 L1559.6,1024.1 L1560.2,1036.3 L1560.9,1053.8 L1561.5,1012.2 L1562.2,1056.8 L1562.8,1035.3 L1563.5,1050.0 L1564.1,1063.3 L1564.8,1048.3 L1565.4,1056.4 L1566.1,1015.0 L1566.7,1038.8 L1567.3,1045.2 L1568.0,1041.5 L1568.6,1047.2 L1569.3,1040.8 L1569.9,1038.4 L1570.6,1037.9 L1571.2,1057.0 L1571.9,1029.1 L1572.5,1049.3 L1573.2,1067.4 L1573.8,1030.1 L1574.5,1025.6 L1575.1,1060.0 L1575.8,1040.2 L1576.4,1041.8 L1577.0,1061.6 L1577.7,1057.6 L1578.3,1044.4 L1579.0,1049.9 L1579.6,1034.3 L1580.3,1047.5 L1580.9,1055.3 L1581.6,1064.9 L1582.2,1066.0 L1582.9,1083.1 L1583.5,1057.6 L1584.2,1073.5 L1584.8,1063.5 L1585.5,1045.7 L1586.1,1065.1 L1586.7,1066.0 L1587.4,1071.2 L1588.0,1069.0 L1588.7,1064.0 L1589.3,1049.1 L1590.0,1058.2 L1590.6,1067.3 L1591.3,1073.0 L1591.9,1075.7 L1592.6,1069.1 L1593.2,1073.5 L1593.9,1027.7 L1594.5,1067.3 L1595.2,1056.2 L1595.8,1042.7 L1596.4,1065.1 L1597.1,1074.3 L1597.7,1059.0 L1598.4,1087.8 L1599.0,1051.5 L1599.7,1059.2 L1600.3,1064.5 L1601.0,1045.8 L1601.6,1103.9 L1602.3,1053.5 L1602.9,1046.7 L1603.6,1036.6 L1604.2,1079.9 L1604.9,1085.5 L1605.5,1049.5 L1606.1,1043.0 L1606.8,1058.4 L1607.4,1065.4 L1608.1,1057.1 L1608.7,1073.3 L1609.4,1048.9 L1610.0,1098.4 L1610.7,1071.6 L1611.3,1082.0 L1612.0,1059.6 L1612.6,1081.3 L1613.3,1092.4 L1613.9,1054.9 L1614.6,1068.4 L1615.2,1082.1 L1615.8,1073.0 L1616.5,1053.3 L1617.1,1059.3 L1617.8,1075.8 L1618.4,1072.0 L1619.1,1056.8 L1619.7,1072.3 L1620.4,1033.2 L1621.0,1068.7 L1621.7,1082.5 L1622.3,1082.3 L1623.0,1061.8 L1623.6,1072.4 L1624.3,1072.2 L1624.9,1067.2 L1625.5,1056.9 L1626.2,1047.8 L1626.8,1060.0 L1627.5,1050.8 L1628.1,1037.8 L1628.8,1085.9 L1629.4,1047.0 L1630.1,1058.5 L1630.7,1058.4 L1631.4,1043.4 L1632.0,1071.8 L1632.7,1047.0 L1633.3,1101.3 L1634.0,1047.3 L1634.6,1055.4 L1635.2,1064.0 L1635.9,1064.3 L1636.5,1066.1 L1637.2,1081.3 L1637.8,1084.8 L1638.5,1098.9 L1639.1,1052.8 L1639.8,1083.4 L1640.4,1078.4 L1641.1,1065.3 L1641.7,1051.6 L1642.4,1095.0 L1643.0,1085.1 L1643.7,1044.9 L1644.3,1088.9 L1644.9,1074.6 L1645.6,1071.3 L1646.2,1078.6 L1646.9,1059.4 L1647.5,1065.6 L1648.2,1080.3 L1648.8,1051.4 L1649.5,1048.3 L1650.1,1043.8 L1650.8,1077.3 L1651.4,1052.3 L1652.1,1037.0 L1652.7,1059.9 L1653.4,1075.1 L1654.0,1071.9 L1654.6,1055.7 L1655.3,1086.6 L1655.9,1073.2 L1656.6,1072.2 L1657.2,1061.4 L1657.9,1062.8 L1658.5,1064.1 L1659.2,1068.1 L1659.8,1074.0 L1660.5,1074.2 L1661.1,1064.7 L1661.8,1066.7 L1662.4,1078.7 L1663.1,1085.9 L1663.7,1087.0 L1664.3,1069.0 L1665.0,1051.4 L1665.6,1072.1 L1666.3,1072.4 L1666.9,1071.4 L1667.6,1077.9 L1668.2,1063.4 L1668.9,1072.6 L1669.5,1038.6 L1670.2,1097.3 L1670.8,1072.0 L1671.5,1067.1 L1672.1,1079.7 L1672.8,1068.6 L1673.4,1061.8 L1674.0,1085.1 L1674.7,1073.9 L1675.3,1063.2 L1676.0,1030.7 L1676.6,1080.4 L1677.3,1079.8 L1677.9,1070.0 L1678.6,1090.8 L1679.2,1061.7 L1679.9,1088.0 L1680.5,1098.5 L1681.2,1062.6 L1681.8,1080.0 L1682.5,1050.3 L1683.1,1077.9 L1683.7,1052.3 L1684.4,1058.2 L1685.0,1081.5 L1685.7,1095.1 L1686.3,1086.9 L1687.0,1076.6 L1687.6,1068.6 L1688.3,1120.0 L1688.9,1116.9 L1689.6,1102.9 L1690.2,1062.1 L1690.9,1071.8 L1691.5,1061.3 L1692.2,1091.6 L1692.8,1079.1 L1693.4,1060.6 L1694.1,1081.5 L1694.7,1077.0 L1695.4,1068.6 L1696.0,1079.5 L1696.7,1098.3 L1697.3,1071.2 L1698.0,1080.0 L1698.6,1064.0 L1699.3,1079.5 L1699.9,1106.7 L1700.6,1094.3 L1701.2,1075.3 L1701.9,1077.0 L1702.5,1105.2 L1703.1,1084.3 L1703.8,1078.6 L1704.4,1103.6 L1705.1,1080.4 L1705.7,1075.8 L1706.4,1092.8 L1707.0,1067.4 L1707.7,1080.3 L1708.3,1075.2 L1709.0,1088.9 L1709.6,1085.1 L1710.3,1113.7 L1710.9,1096.9 L1711.6,1087.1 L1712.2,1095.1 L1712.8,1083.5 L1713.5,1090.4 L1714.1,1095.1 L1714.8,1093.2 L1715.4,1106.7 L1716.1,1094.4 L1716.7,1076.1 L1717.4,1089.9 L1718.0,1069.9 L1718.7,1111.6 L1719.3,1059.1 L1720.0,1083.7 L1720.6,1092.5 L1721.3,1072.1 L1721.9,1079.0 L1722.5,1099.1 L1723.2,1067.6 L1723.8,1097.2 L1724.5,1081.0 L1725.1,1079.1 L1725.8,1111.1 L1726.4,1094.5 L1727.1,1089.0 L1727.7,1080.1 L1728.4,1085.9 L1729.0,1081.0 L1729.7,1108.0 L1730.3,1085.9 L1731.0,1073.3 L1731.6,1076.4 L1732.2,1088.7 L1732.9,1068.4 L1733.5,1073.1 L1734.2,1061.7 L1734.8,1052.3 L1735.5,1113.9 L1736.1,1080.7 L1736.8,1107.5 L1737.4,1091.4 L1738.1,1087.9 L1738.7,1049.7 L1739.4,1083.7 L1740.0,1086.7 L1740.7,1072.3 L1741.3,1094.4 L1741.9,1101.6 L1742.6,1091.5 L1743.2,1088.2 L1743.9,1114.0 L1744.5,1117.0 L1745.2,1096.3 L1745.8,1069.9 L1746.5,1070.4 L1747.1,1077.2 L1747.8,1072.9 L1748.4,1087.4 L1749.1,1075.1 L1749.7,1089.0 L1750.4,1081.1 L1751.0,1083.8 L1751.6,1071.1 L1752.3,1090.3 L1752.9,1091.6 L1753.6,1076.6 L1754.2,1064.9 L1754.9,1088.9 L1755.5,1063.0 L1756.2,1077.0 L1756.8,1094.5 L1757.5,1105.5 L1758.1,1084.0 L1758.8,1092.6 L1759.4,1105.8 L1760.1,1073.1 L1760.7,1081.7 L1761.3,1091.6 L1762.0,1105.9 L1762.6,1071.1 L1763.3,1070.7 L1763.9,1100.7 L1764.6,1103.9 L1765.2,1078.6 L1765.9,1088.1 L1766.5,1100.5 L1767.2,1084.1 L1767.8,1060.8 L1768.5,1090.0 L1769.1,1100.2 L1769.8,1069.5 L1770.4,1105.2 L1771.0,1082.7 L1771.7,1053.4 L1772.3,1090.2 L1773.0,1066.0 L1773.6,1106.8 L1774.3,1094.5 L1774.9,1113.1 L1775.6,1064.2 L1776.2,1090.2 L1776.9,1109.4 L1777.5,1106.1 L1778.2,1098.4 L1778.8,1094.9 L1779.5,1099.2 L1780.1,1104.9 L1780.7,1116.8 L1781.4,1064.8 L1782.0,1076.0 L1782.7,1082.7 L1783.3,1094.6 L1784.0,1097.7 L1784.6,1086.8 L1785.3,1091.3 L1785.9,1104.2 L1786.6,1111.0 L1787.2,1080.9 L1787.9,1089.2 L1788.5,1094.2 L1789.2,1123.7 L1789.8,1083.3 L1790.4,1098.4 L1791.1,1094.5 L1791.7,1087.1 L1792.4,1108.4 L1793.0,1092.6 L1793.7,1086.2 L1794.3,1095.0 L1795.0,1098.2 L1795.6,1084.0 L1796.3,1082.4 L1796.9,1111.9 L1797.6,1084.8 L1798.2,1108.9 L1798.9,1091.7 L1799.5,1080.8 L1800.1,1076.2 L1800.8,1067.1 L1801.4,1105.3 L1802.1,1104.7 L1802.7,1052.4 L1803.4,1077.1 L1804.0,1085.7 L1804.7,1097.0 L1805.3,1115.1 L1806.0,1084.4 L1806.6,1067.9 L1807.3,1099.0 L1807.9,1089.7 L1808.6,1082.1 L1809.2,1065.5 L1809.8,1105.7 L1810.5,1119.8 L1811.1,1080.1 L1811.8,1072.5 L1812.4,1088.4 L1813.1,1092.8 L1813.7,1106.9 L1814.4,1100.1 L1815.0,1070.5 L1815.7,1103.8 L1816.3,1104.6 L1817.0,1091.1 L1817.6,1105.4 L1818.3,1077.8 L1818.9,1095.2 L1819.5,1078.3 L1820.2,1101.6 L1820.8,1115.0 L1821.5,1069.5 L1822.1,1103.1 L1822.8,1115.3 L1823.4,1107.3 L1824.1,1130.9 L1824.7,1102.6 L1825.4,1140.7 L1826.0,1105.7 L1826.7,1083.6 L1827.3,1101.9 L1828.0,1092.9 L1828.6,1124.8 L1829.2,1132.0 L1829.9,1133.3 L1830.5,1117.6 L1831.2,1102.4 L1831.8,1094.8 L1832.5,1085.5 L1833.1,1115.5 L1833.8,1083.2 L1834.4,1099.5 L1835.1,1107.3 L1835.7,1142.4 L1836.4,1080.1 L1837.0,1082.2 L1837.7,1083.1 L1838.3,1115.8 L1838.9,1083.0 L1839.6,1086.3 L1840.2,1110.4 L1840.9,1115.3 L1841.5,1130.2 L1842.2,1099.3 L1842.8,1114.1 L1843.5,1070.3 L1844.1,1108.4 L1844.8,1111.8 L1845.4,1113.1 L1846.1,1089.8 L1846.7,1119.6 L1847.4,1122.4 L1848.0,1096.5 L1848.6,1096.9 L1849.3,1090.3 L1849.9,1090.5 L1850.6,1094.8 L1851.2,1074.4 L1851.9,1072.6 L1852.5,1089.4 L1853.2,1085.2 L1853.8,1108.1 L1854.5,1089.5 L1855.1,1077.5 L1855.8,1064.5 L1856.4,1086.9 L1857.1,1075.2 L1857.7,1063.8 L1858.3,1121.3 L1859.0,1061.6 L1859.6,1117.3 L1860.3,1123.0 L1860.9,1093.3 L1861.6,1084.7 L1862.2,1102.0 L1862.9,1077.8 L1863.5,1094.6 L1864.2,1103.4 L1864.8,1072.4 L1865.5,1115.3 L1866.1,1093.0 L1866.8,1096.3 L1867.4,1112.0 L1868.0,1070.7 L1868.7,1073.0 L1869.3,1096.5 L1870.0,1097.9 L1870.6,1088.6 L1871.3,1090.6 L1871.9,1088.6 L1872.6,1077.8 L1873.2,1072.6 L1873.9,1081.3 L1874.5,1094.5 L1875.2,1099.4 L1875.8,1073.8 L1876.5,1119.2 L1877.1,1126.3 L1877.7,1096.4 L1878.4,1081.3 L1879.0,1090.9 L1879.7,1105.8 L1880.3,1092.5 L1881.0,1122.7 L1881.6,1089.9 L1882.3,1108.8 L1882.9,1101.7 L1883.6,1127.8 L1884.2,1101.2 L1884.9,1102.3 L1885.5,1082.2 L1886.2,1091.4 L1886.8,1075.2 L1887.4,1128.6 L1888.1,1096.5 L1888.7,1092.6 L1889.4,1096.3 L1890.0,1102.0 L1890.7,1104.6 L1891.3,1068.9 L1892.0,1115.9 L1892.6,1097.5 L1893.3,1095.7 L1893.9,1124.5 L1894.6,1101.0 L1895.2,1084.7 L1895.9,1083.7 L1896.5,1109.4 L1897.1,1098.3 L1897.8,1099.7 L1898.4,1077.3 L1899.1,1100.4 L1899.7,1061.8 L1900.4,1085.2 L1901.0,1118.8 L1901.7,1102.9 L1902.3,1093.8 L1903.0,1114.6 L1903.6,1129.3 L1904.3,1074.1 L1904.9,1114.5 L1905.6,1103.4 L1906.2,1098.1 L1906.8,1122.7 L1907.5,1113.7 L1908.1,1092.3 L1908.8,1121.0 L1909.4,1097.0 L1910.1,1100.1 L1910.7,1078.4 L1911.4,1101.2 L1912.0,1110.6 L1912.7,1095.2 L1913.3,1101.3 L1914.0,1122.2 L1914.6,1098.5 L1915.3,1090.4 L1915.9,1129.4 L1916.5,1089.1 L1917.2,1070.8 L1917.8,1079.4 L1918.5,1096.4 L1919.1,1080.4 L1919.8,1081.4 L1920.4,1092.1 L1921.1,1097.3 L1921.7,1096.0 L1922.4,1099.9 L1923.0,1118.2 L1923.7,1138.2 L1924.3,1119.7 L1925.0,1111.1 L1925.6,1088.8 L1926.2,1101.5 L1926.9,1082.6 L1927.5,1099.5 L1928.2,1082.0 L1928.8,1117.4 L1929.5,1133.8 L1930.1,1115.3 L1930.8,1137.5 L1931.4,1052.4 L1932.1,1113.8 L1932.7,1098.1 L1933.4,1102.7 L1934.0,1083.2 L1934.7,1099.2 L1935.3,1098.5 L1935.9,1139.0 L1936.6,1117.7 L1937.2,1111.8 L1937.9,1118.5 L1938.5,1092.5 L1939.2,1090.6 L1939.8,1083.1 L1940.5,1113.2 L1941.1,1115.3 L1941.8,1100.6 L1942.4,1090.6 L1943.1,1102.6 L1943.7,1108.6 L1944.4,1109.3 L1945.0,1098.0 L1945.6,1118.3 L1946.3,1120.9 L1946.9,1089.2 L1947.6,1106.8 L1948.2,1103.5 L1948.9,1083.7 L1949.5,1094.4 L1950.2,1106.4 L1950.8,1119.9 L1951.5,1092.6 L1952.1,1097.4 L1952.8,1100.0 L1953.4,1097.1 L1954.1,1082.9 L1954.7,1115.1 L1955.3,1100.2 L1956.0,1109.8 L1956.6,1113.1 L1957.3,1097.7 L1957.9,1090.3 L1958.6,1094.2 L1959.2,1096.8 L1959.9,1092.6 L1960.5,1099.6 L1961.2,1084.7 L1961.8,1097.6 L1962.5,1095.6 L1963.1,1106.6 L1963.8,1109.6 L1964.4,1126.2 L1965.0,1118.1 L1965.7,1111.5 L1966.3,1102.8 L1967.0,1103.4 L1967.6,1106.9 L1968.3,1099.4 L1968.9,1102.3 L1969.6,1091.3 L1970.2,1105.8 L1970.9,1090.1 L1971.5,1095.0 L1972.2,1093.8 L1972.8,1125.4 L1973.4,1100.8 L1974.1,1110.3 L1974.7,1084.0 L1975.4,1104.6 L1976.0,1094.1 L1976.7,1107.6 L1977.3,1091.9 L1978.0,1082.6 L1978.6,1103.9 L1979.3,1095.1 L1979.9,1079.0 L1980.6,1092.3 L1981.2,1082.1 L1981.9,1100.2 L1982.5,1092.8 L1983.1,1095.4 L1983.8,1080.2 L1984.4,1105.6 L1985.1,1083.5 L1985.7,1093.0 L1986.4,1086.5 L1987.0,1089.8 L1987.7,1074.8 L1988.3,1089.1 L1989.0,1092.4 L1989.6,1073.4 L1990.3,1099.0 L1990.9,1076.0 L1991.6,1080.7 L1992.2,1079.6 L1992.8,1099.6 L1993.5,1080.6 L1994.1,1081.4 L1994.8,1089.8 L1995.4,1087.7 L1996.1,1098.9 L1996.7,1081.0 L1997.4,1078.9 L1998.0,1076.7 L1998.7,1076.7 L1999.3,1094.2 L2000.0,1091.9 L2000.6,1082.2 L2001.3,1084.7 L2001.9,1060.7 L2002.5,1096.3 L2003.2,1092.1 L2003.8,1062.4 L2004.5,1080.8 L2005.1,1086.5 L2005.8,1104.7 L2006.4,1091.3 L2007.1,1103.0 L2007.7,1107.2 L2008.4,1097.6 L2009.0,1078.5 L2009.7,1074.4 L2010.3,1086.7 L2011.0,1099.3 L2011.6,1095.7 L2012.2,1076.0 L2012.9,1099.7 L2013.5,1081.3 L2014.2,1087.5 L2014.8,1103.9 L2015.5,1094.0 L2016.1,1086.7 L2016.8,1084.2 L2017.4,1094.1 L2018.1,1096.7 L2018.7,1092.0 L2019.4,1085.0 L2020.0,1099.6 L2020.7,1104.2 L2021.3,1081.4 L2021.9,1102.2 L2022.6,1087.7 L2023.2,1092.0 L2023.9,1106.5 L2024.5,1080.9 L2025.2,1094.1 L2025.8,1115.9 L2026.5,1113.4 L2027.1,1089.7 L2027.8,1083.8 L2028.4,1112.2 L2029.1,1100.3 L2029.7,1101.0 L2030.4,1079.4 L2031.0,1099.7 L2031.6,1080.2 L2032.3,1068.0 L2032.9,1120.2 L2033.6,1115.6 L2034.2,1120.2 L2034.9,1101.8 L2035.5,1106.3 L2036.2,1097.2 L2036.8,1126.0 L2037.5,1096.5 L2038.1,1085.7 L2038.8,1098.0 L2039.4,1117.4 L2040.1,1098.1 L2040.7,1107.5 L2041.3,1087.7 L2042.0,1097.8 L2042.6,1090.0 L2043.3,1092.7 L2043.9,1104.0 L2044.6,1114.8 L2045.2,1132.0 L2045.9,1115.6 L2046.5,1095.4 L2047.2,1095.6 L2047.8,1090.7 L2048.5,1108.6 L2049.1,1098.2 L2049.8,1107.8 L2050.4,1096.7 L2051.0,1131.1 L2051.7,1107.7 L2052.3,1121.3 L2053.0,1108.3 L2053.6,1141.4 L2054.3,1093.8 L2054.9,1119.6 L2055.6,1131.0 L2056.2,1112.7 L2056.9,1126.1 L2057.5,1080.7 L2058.2,1128.9 L2058.8,1113.5 L2059.5,1137.8 L2060.1,1092.9 L2060.7,1125.0 L2061.4,1107.5 L2062.0,1142.4 L2062.7,1122.4 L2063.3,1105.5 L2064.0,1104.8 L2064.6,1122.5 L2065.3,1098.2 L2065.9,1110.5 L2066.6,1129.0 L2067.2,1102.1 L2067.9,1131.7 L2068.5,1098.2 L2069.2,1117.5 L2069.8,1115.1 L2070.4,1093.2 L2071.1,1125.2 L2071.7,1092.6 L2072.4,1134.2 L2073.0,1135.6 L2073.7,1104.0 L2074.3,1114.5 L2075.0,1110.6 L2075.6,1091.9 L2076.3,1100.7 L2076.9,1112.2 L2077.6,1113.0 L2078.2,1131.6 L2078.9,1106.0 L2079.5,1104.7 L2080.1,1122.9 L2080.8,1124.3 L2081.4,1109.2 L2082.1,1115.9 L2082.7,1104.1 L2083.4,1110.3 L2084.0,1081.2 L2084.7,1086.5 L2085.3,1125.4 L2086.0,1103.2 L2086.6,1096.5 L2087.3,1152.5 L2087.9,1143.6 L2088.6,1128.5 L2089.2,1119.7 L2089.8,1113.7 L2090.5,1141.0 L2091.1,1071.0 L2091.8,1118.0 L2092.4,1109.6 L2093.1,1116.4 L2093.7,1122.9 L2094.4,1112.7 L2095.0,1107.3 L2095.7,1105.8 L2096.3,1092.7 L2097.0,1110.6 L2097.6,1118.8 L2098.3,1094.2 L2098.9,1100.9 L2099.5,1128.9 L2100.2,1101.3 L2100.8,1119.6 L2101.5,1096.4 L2102.1,1084.4 L2102.8,1119.1 L2103.4,1123.0 L2104.1,1116.9 L2104.7,1112.5 L2105.4,1136.4 L2106.0,1108.5 L2106.7,1100.5 L2107.3,1117.3 L2108.0,1130.3 L2108.6,1118.8 L2109.2,1130.1 L2109.9,1138.4 L2110.5,1100.7 L2111.2,1111.3 L2111.8,1109.2 L2112.5,1123.0 L2113.1,1087.3 L2113.8,1129.0 L2114.4,1091.0 L2115.1,1119.5 L2115.7,1108.1 L2116.4,1106.1 L2117.0,1122.3 L2117.7,1093.7 L2118.3,1122.9 L2118.9,1108.4 L2119.6,1092.2 L2120.2,1129.5 L2120.9,1094.9 L2121.5,1123.7 L2122.2,1108.1 L2122.8,1108.8 L2123.5,1135.8 L2124.1,1119.5 L2124.8,1111.7 L2125.4,1080.7 L2126.1,1108.5 L2126.7,1139.6 L2127.4,1106.6 L2128.0,1124.0 L2128.6,1107.7 L2129.3,1126.8 L2129.9,1103.4 L2130.6,1115.2 L2131.2,1127.2 L2131.9,1097.5 L2132.5,1113.9 L2133.2,1122.8 L2133.8,1109.6 L2134.5,1111.7 L2135.1,1155.0 L2135.8,1129.7 L2136.4,1093.7 L2137.1,1103.8 L2137.7,1083.0 L2138.3,1115.9 L2139.0,1125.6 L2139.6,1103.5 L2140.3,1098.4 L2140.9,1122.7 L2141.6,1108.3 L2142.2,1146.4 L2142.9,1137.7 L2143.5,1088.2 L2144.2,1125.7 L2144.8,1125.2 L2145.5,1125.9 L2146.1,1114.7 L2146.8,1093.4 L2147.4,1116.4 L2148.0,1106.7 L2148.7,1140.6 L2149.3,1122.8 L2150.0,1132.6 L2150.6,1098.6 L2151.3,1113.7 L2151.9,1110.2 L2152.6,1100.5 L2153.2,1106.4 L2153.9,1090.7 L2154.5,1114.2 L2155.2,1099.5 L2155.8,1113.8 L2156.5,1117.2 L2157.1,1108.0 L2157.7,1101.6 L2158.4,1122.7 L2159.0,1122.2 L2159.7,1104.5 L2160.3,1125.4 L2161.0,1084.5 L2161.6,1113.3 L2162.3,1117.6 L2162.9,1110.9 L2163.6,1089.2 L2164.2,1111.3 L2164.9,1124.0 L2165.5,1115.6 L2166.2,1094.7 L2166.8,1113.0 L2167.4,1135.1 L2168.1,1129.3 L2168.7,1132.6 L2169.4,1113.0 L2170.0,1123.9 L2170.7,1114.4 L2171.3,1114.0 L2172.0,1102.0 L2172.6,1116.2 L2173.3,1129.3 L2173.9,1118.4 L2174.6,1094.1 L2175.2,1124.9 L2175.9,1087.0 L2176.5,1124.9 L2177.1,1108.8 L2177.8,1138.5 L2178.4,1117.1 L2179.1,1132.9 L2179.7,1102.9 L2180.4,1118.5 L2181.0,1122.8 L2181.7,1104.3 L2182.3,1114.9 L2183.0,1115.7 L2183.6,1123.9 L2184.3,1123.9 L2184.9,1103.3 L2185.6,1138.3 L2186.2,1132.0 L2186.8,1117.4 L2187.5,1137.0 L2188.1,1122.7 L2188.8,1118.9 L2189.4,1110.0 L2190.1,1102.1 L2190.7,1130.5 L2191.4,1140.9 L2192.0,1135.0 L2192.7,1135.1 L2193.3,1151.4 L2194.0,1109.9 L2194.6,1136.6 L2195.3,1152.4 L2195.9,1155.0 L2196.5,1151.8 L2197.2,1124.7 L2197.8,1121.7 L2198.5,1105.5 L2199.1,1135.6 L2199.8,1138.7 L2200.4,1135.7 L2201.1,1131.3 L2201.7,1137.5 L2202.4,1126.3 L2203.0,1107.9 L2203.7,1131.7 L2204.3,1134.7 L2205.0,1154.5 L2205.6,1122.4 L2206.2,1129.1 L2206.9,1106.4 L2207.5,1105.9 L2208.2,1113.1 L2208.8,1144.0 L2209.5,1128.0 L2210.1,1127.1 L2210.8,1119.9 L2211.4,1128.8 L2212.1,1136.3 L2212.7,1132.9 L2213.4,1124.9 L2214.0,1128.0 L2214.7,1130.5 L2215.3,1134.2 L2215.9,1096.3 L2216.6,1122.6 L2217.2,1109.3 L2217.9,1127.6 L2218.5,1126.4 L2219.2,1125.1 L2219.8,1121.4 L2220.5,1112.9 L2221.1,1139.4 L2221.8,1119.1 L2222.4,1126.4 L2223.1,1121.9 L2223.7,1112.6 L2224.4,1136.2 L2225.0,1110.2 L2225.6,1128.6 L2226.3,1124.2 L2226.9,1129.7 L2227.6,1118.1 L2228.2,1142.1 L2228.9,1145.8 L2229.5,1139.2 L2230.2,1125.6 L2230.8,1116.0 L2231.5,1155.6 L2232.1,1109.2 L2232.8,1118.2 L2233.4,1136.5 L2234.1,1138.6 L2234.7,1119.0 L2235.3,1138.3 L2236.0,1164.4 L2236.6,1141.2 L2237.3,1137.6 L2237.9,1132.7 L2238.6,1145.4 L2239.2,1136.6 L2239.9,1108.9 L2240.5,1141.7 L2241.2,1135.4 L2241.8,1143.3 L2242.5,1129.0 L2243.1,1140.4 L2243.8,1127.1 L2244.4,1135.9 L2245.0,1141.1 L2245.7,1123.6 L2246.3,1122.2 L2247.0,1129.9 L2247.6,1138.3 L2248.3,1132.9 L2248.9,1130.0 L2249.6,1135.7 L2250.2,1131.7 L2250.9,1114.9 L2251.5,1142.3 L2252.2,1141.2 L2252.8,1138.4 L2253.5,1105.9 L2254.1,1139.8 L2254.7,1112.6 L2255.4,1125.0 L2256.0,1122.7 L2256.7,1143.5 L2257.3,1135.7 L2258.0,1124.4 L2258.6,1129.8 L2259.3,1117.5 L2259.9,1112.2 L2260.6,1131.6 L2261.2,1132.9 L2261.9,1124.8 L2262.5,1141.8 L2263.2,1144.4 L2263.8,1119.9 L2264.4,1127.8 L2265.1,1130.6 L2265.7,1104.7 L2266.4,1138.0 L2267.0,1136.4 L2267.7,1130.2 L2268.3,1126.0 L2269.0,1153.8 L2269.6,1141.3 L2270.3,1120.4 L2270.9,1131.4 L2271.6,1126.5 L2272.2,1141.1 L2272.9,1143.1 L2273.5,1129.3 L2274.1,1128.2 L2274.8,1115.6 L2275.4,1117.5 L2276.1,1132.1 L2276.7,1133.1 L2277.4,1129.0 L2278.0,1116.4 L2278.7,1119.1 L2279.3,1103.5 L2280.0,1127.2 L2280.6,1104.7 L2281.3,1108.7 L2281.9,1118.4 L2282.6,1138.7 L2283.2,1116.3 L2283.8,1135.2 L2284.5,1148.9 L2285.1,1136.4 L2285.8,1135.2 L2286.4,1116.9 L2287.1,1126.0 L2287.7,1112.3 L2288.4,1136.3 L2289.0,1135.8 L2289.7,1145.0 L2290.3,1131.1 L2291.0,1134.2 L2291.6,1122.1 L2292.3,1135.5 L2292.9,1143.8 L2293.5,1136.7 L2294.2,1140.1 L2294.8,1133.1 L2295.5,1137.2 L2296.1,1133.8 L2296.8,1124.1 L2297.4,1132.1 L2298.1,1140.5 L2298.7,1136.6 L2299.4,1132.1 L2300.0,1124.8 L2300.7,1138.5 L2301.3,1128.3 L2302.0,1131.5 L2302.6,1139.6 L2303.2,1143.7 L2303.9,1128.0 L2304.5,1129.5 L2305.2,1140.3 L2305.8,1130.4 L2306.5,1149.0 L2307.1,1141.9 L2307.8,1133.4 L2308.4,1122.2 L2309.1,1139.9 L2309.7,1133.8 L2310.4,1117.8 L2311.0,1123.2 L2311.7,1155.0 L2312.3,1137.2 L2312.9,1112.4 L2313.6,1129.3 L2314.2,1131.4 L2314.9,1150.5 L2315.5,1132.1 L2316.2,1131.4 L2316.8,1128.9 L2317.5,1132.1 L2318.1,1134.4 L2318.8,1126.6 L2319.4,1132.9 L2320.1,1145.7 L2320.7,1125.8 L2321.4,1133.7 L2322.0,1145.6" fill="none" stroke="#fe0000" stroke-width="11" stroke-linejoin="bevel"/>
<path d="M221.0,772.5 L221.6,751.5 L222.3,725.2 L222.9,781.6 L223.6,773.6 L224.2,716.3 L224.9,738.8 L225.5,713.7 L226.2,707.8 L226.8,794.3 L227.5,740.2 L228.1,773.8 L228.8,762.7 L229.4,754.4 L230.1,718.6 L230.7,720.0 L231.3,767.9 L232.0,790.7 L232.6,693.7 L233.3,723.5 L233.9,748.1 L234.6,789.5 L235.2,773.3 L235.9,782.8 L236.5,764.5 L237.2,725.6 L237.8,753.2 L238.5,800.4 L239.1,764.9 L239.8,719.4 L240.4,807.8 L241.0,776.9 L241.7,786.7 L242.3,827.6 L243.0,746.0 L243.6,742.6 L244.3,702.5 L244.9,771.7 L245.6,787.7 L246.2,768.0 L246.9,770.2 L247.5,801.4 L248.2,785.6 L248.8,786.4 L249.5,771.7 L250.1,773.7 L250.7,810.0 L251.4,696.0 L252.0,764.4 L252.7,760.9 L253.3,775.6 L254.0,786.5 L254.6,797.6 L255.3,785.9 L255.9,771.4 L256.6,729.5 L257.2,803.5 L257.9,751.4 L258.5,779.2 L259.2,824.3 L259.8,794.2 L260.4,760.0 L261.1,810.6 L261.7,876.0 L262.4,773.5 L263.0,831.1 L263.7,813.4 L264.3,870.6 L265.0,757.8 L265.6,794.1 L266.3,808.7 L266.9,838.3 L267.6,787.6 L268.2,706.0 L268.9,802.2 L269.5,774.1 L270.1,793.0 L270.8,797.0 L271.4,794.5 L272.1,779.8 L272.7,792.3 L273.4,830.7 L274.0,828.0 L274.7,860.7 L275.3,773.6 L276.0,767.1 L276.6,867.7 L277.3,814.3 L277.9,815.4 L278.6,776.0 L279.2,816.9 L279.8,807.1 L280.5,806.9 L281.1,844.8 L281.8,731.0 L282.4,813.7 L283.1,753.5 L283.7,823.8 L284.4,775.3 L285.0,868.5 L285.7,768.5 L286.3,863.6 L287.0,785.5 L287.6,760.9 L288.3,819.6 L288.9,820.1 L289.5,782.4 L290.2,772.5 L290.8,876.0 L291.5,802.9 L292.1,824.9 L292.8,769.1 L293.4,818.6 L294.1,865.9 L294.7,771.9 L295.4,833.2 L296.0,832.8 L296.7,796.2 L297.3,826.0 L298.0,781.3 L298.6,830.3 L299.2,866.1 L299.9,806.0 L300.5,797.5 L301.2,758.9 L301.8,866.0 L302.5,867.4 L303.1,802.3 L303.8,820.7 L304.4,815.3 L305.1,859.8 L305.7,748.8 L306.4,839.8 L307.0,752.3 L307.7,840.3 L308.3,799.4 L308.9,861.3 L309.6,839.9 L310.2,806.7 L310.9,804.3 L311.5,792.2 L312.2,877.3 L312.8,860.4 L313.5,813.3 L314.1,793.6 L314.8,847.6 L315.4,834.9 L316.1,821.9 L316.7,840.3 L317.4,857.3 L318.0,838.7 L318.6,858.5 L319.3,841.8 L319.9,932.7 L320.6,828.5 L321.2,867.7 L321.9,850.2 L322.5,837.6 L323.2,852.4 L323.8,840.9 L324.5,842.7 L325.1,863.9 L325.8,874.5 L326.4,802.6 L327.1,844.9 L327.7,853.3 L328.3,818.8 L329.0,864.6 L329.6,845.3 L330.3,837.0 L330.9,801.3 L331.6,810.9 L332.2,855.9 L332.9,888.9 L333.5,840.9 L334.2,800.8 L334.8,883.8 L335.5,858.0 L336.1,887.2 L336.8,834.7 L337.4,878.3 L338.0,863.5 L338.7,817.2 L339.3,843.5 L340.0,857.6 L340.6,829.1 L341.3,889.2 L341.9,843.8 L342.6,881.2 L343.2,849.6 L343.9,875.6 L344.5,874.0 L345.2,805.3 L345.8,853.1 L346.5,881.7 L347.1,853.1 L347.7,905.9 L348.4,802.5 L349.0,845.1 L349.7,872.7 L350.3,884.4 L351.0,852.3 L351.6,916.9 L352.3,894.2 L352.9,875.9 L353.6,853.3 L354.2,852.1 L354.9,855.9 L355.5,897.3 L356.2,854.0 L356.8,901.1 L357.4,939.4 L358.1,842.9 L358.7,861.7 L359.4,908.2 L360.0,886.6 L360.7,856.6 L361.3,947.8 L362.0,878.8 L362.6,899.4 L363.3,857.2 L363.9,873.2 L364.6,876.8 L365.2,890.1 L365.9,874.8 L366.5,841.4 L367.1,845.8 L367.8,914.4 L368.4,868.7 L369.1,885.1 L369.7,883.4 L370.4,893.3 L371.0,920.6 L371.7,885.2 L372.3,906.3 L373.0,899.2 L373.6,893.0 L374.3,856.7 L374.9,875.2 L375.6,913.1 L376.2,815.0 L376.8,880.6 L377.5,883.6 L378.1,860.1 L378.8,871.4 L379.4,899.7 L380.1,872.4 L380.7,863.5 L381.4,917.3 L382.0,921.3 L382.7,899.5 L383.3,876.4 L384.0,930.1 L384.6,916.8 L385.3,868.8 L385.9,883.5 L386.5,871.6 L387.2,869.3 L387.8,945.5 L388.5,950.8 L389.1,868.2 L389.8,929.1 L390.4,910.9 L391.1,922.8 L391.7,938.0 L392.4,939.2 L393.0,916.9 L393.7,901.9 L394.3,868.4 L395.0,965.3 L395.6,988.0 L396.2,897.2 L396.9,912.7 L397.5,894.2 L398.2,906.8 L398.8,942.6 L399.5,928.5 L400.1,913.4 L400.8,917.6 L401.4,897.5 L402.1,939.6 L402.7,904.2 L403.4,887.9 L404.0,903.5 L404.7,918.7 L405.3,954.8 L405.9,918.1 L406.6,907.4 L407.2,964.3 L407.9,919.2 L408.5,957.7 L409.2,934.2 L409.8,939.9 L410.5,889.2 L411.1,932.2 L411.8,908.3 L412.4,890.3 L413.1,933.9 L413.7,918.6 L414.4,927.4 L415.0,954.0 L415.6,870.3 L416.3,934.8 L416.9,881.3 L417.6,878.1 L418.2,927.8 L418.9,914.9 L419.5,871.2 L420.2,927.0 L420.8,935.7 L421.5,967.1 L422.1,961.6 L422.8,931.2 L423.4,888.7 L424.1,928.1 L424.7,946.9 L425.3,954.5 L426.0,962.8 L426.6,941.1 L427.3,948.8 L427.9,923.1 L428.6,928.8 L429.2,954.6 L429.9,965.8 L430.5,906.0 L431.2,927.6 L431.8,935.0 L432.5,960.6 L433.1,943.4 L433.8,1014.5 L434.4,950.2 L435.0,926.2 L435.7,942.2 L436.3,934.0 L437.0,946.3 L437.6,960.5 L438.3,995.6 L438.9,994.6 L439.6,971.8 L440.2,925.8 L440.9,971.7 L441.5,935.6 L442.2,957.0 L442.8,975.1 L443.5,961.5 L444.1,1024.2 L444.7,966.0 L445.4,956.4 L446.0,960.6 L446.7,996.8 L447.3,936.2 L448.0,957.4 L448.6,939.3 L449.3,964.8 L449.9,938.0 L450.6,966.4 L451.2,1002.5 L451.9,955.0 L452.5,1009.7 L453.2,959.0 L453.8,975.3 L454.4,947.6 L455.1,998.5 L455.7,997.8 L456.4,989.0 L457.0,1012.1 L457.7,972.2 L458.3,1039.0 L459.0,991.6 L459.6,963.4 L460.3,978.3 L460.9,985.0 L461.6,952.0 L462.2,955.6 L462.9,1032.4 L463.5,1000.3 L464.1,1014.1 L464.8,1049.4 L465.4,1006.1 L466.1,965.0 L466.7,1010.9 L467.4,1047.4 L468.0,1020.3 L468.7,1006.4 L469.3,1020.8 L470.0,966.8 L470.6,942.6 L471.3,999.7 L471.9,1011.9 L472.6,993.8 L473.2,915.0 L473.8,984.0 L474.5,983.0 L475.1,1010.4 L475.8,958.3 L476.4,988.8 L477.1,1013.5 L477.7,997.5 L478.4,985.1 L479.0,988.0 L479.7,1011.8 L480.3,1022.2 L481.0,961.1 L481.6,1063.9 L482.3,1015.9 L482.9,1006.1 L483.5,978.1 L484.2,989.1 L484.8,1087.7 L485.5,1024.3 L486.1,962.6 L486.8,990.0 L487.4,1011.7 L488.1,991.0 L488.7,1070.2 L489.4,1052.3 L490.0,1009.8 L490.7,980.5 L491.3,1027.8 L492.0,1015.0 L492.6,1014.0 L493.2,995.6 L493.9,1046.6 L494.5,1028.1 L495.2,1060.8 L495.8,1052.8 L496.5,1020.5 L497.1,1036.2 L497.8,1015.7 L498.4,1037.4 L499.1,1009.1 L499.7,1053.7 L500.4,986.5 L501.0,1047.0 L501.7,1038.2 L502.3,1059.2 L502.9,1016.4 L503.6,1046.1 L504.2,1058.8 L504.9,1041.0 L505.5,1047.6 L506.2,1043.5 L506.8,1034.1 L507.5,1032.9 L508.1,1008.7 L508.8,984.4 L509.4,1047.4 L510.1,1121.7 L510.7,1027.9 L511.4,1087.7 L512.0,1077.1 L512.6,998.5 L513.3,1049.4 L513.9,1084.0 L514.6,1051.6 L515.2,1070.5 L515.9,1077.1 L516.5,1036.6 L517.2,1065.5 L517.8,1052.9 L518.5,1086.3 L519.1,1011.5 L519.8,1049.4 L520.4,1032.5 L521.1,1055.7 L521.7,1069.3 L522.3,1066.5 L523.0,1059.5 L523.6,1082.1 L524.3,1045.0 L524.9,1084.2 L525.6,1066.6 L526.2,1037.1 L526.9,1072.0 L527.5,1075.8 L528.2,1071.2 L528.8,1042.1 L529.5,1070.8 L530.1,1119.3 L530.8,1116.8 L531.4,1054.0 L532.0,1071.5 L532.7,1065.1 L533.3,1045.6 L534.0,1046.1 L534.6,1077.4 L535.3,1108.7 L535.9,1102.9 L536.6,1111.1 L537.2,1127.3 L537.9,1071.4 L538.5,1081.9 L539.2,1055.0 L539.8,1081.4 L540.5,1097.5 L541.1,1114.8 L541.7,1066.9 L542.4,1077.8 L543.0,1088.3 L543.7,1088.2 L544.3,1060.1 L545.0,1107.0 L545.6,1087.6 L546.3,1088.4 L546.9,1082.7 L547.6,1094.8 L548.2,1085.9 L548.9,1096.6 L549.5,1127.6 L550.2,1100.0 L550.8,1111.2 L551.4,1103.3 L552.1,1071.7 L552.7,1063.0 L553.4,1116.0 L554.0,1088.2 L554.7,1100.2 L555.3,1089.9 L556.0,1077.2 L556.6,1136.2 L557.3,1154.6 L557.9,1137.6 L558.6,1080.3 L559.2,1098.2 L559.9,1116.2 L560.5,1084.2 L561.1,1105.7 L561.8,1117.6 L562.4,1152.6 L563.1,1077.7 L563.7,1115.6 L564.4,1089.1 L565.0,1071.4 L565.7,1130.4 L566.3,1075.2 L567.0,1110.5 L567.6,1135.9 L568.3,1123.7 L568.9,1114.3 L569.6,1061.3 L570.2,1112.5 L570.8,1108.7 L571.5,1153.7 L572.1,1127.9 L572.8,1108.7 L573.4,1100.4 L574.1,1115.7 L574.7,1151.7 L575.4,1116.9 L576.0,1132.5 L576.7,1162.4 L577.3,1162.9 L578.0,1102.5 L578.6,1160.7 L579.2,1088.5 L579.9,1149.1 L580.5,1108.0 L581.2,1123.3 L581.8,1128.0 L582.5,1126.5 L583.1,1141.6 L583.8,1133.6 L584.4,1182.7 L585.1,1139.5 L585.7,1123.9 L586.4,1149.9 L587.0,1132.2 L587.7,1147.5 L588.3,1138.0 L588.9,1149.4 L589.6,1156.4 L590.2,1167.8 L590.9,1177.8 L591.5,1164.6 L592.2,1147.8 L592.8,1138.3 L593.5,1127.2 L594.1,1180.6 L594.8,1141.2 L595.4,1143.0 L596.1,1208.4 L596.7,1167.2 L597.4,1182.9 L598.0,1162.0 L598.6,1125.3 L599.3,1161.9 L599.9,1146.3 L600.6,1138.5 L601.2,1171.6 L601.9,1147.2 L602.5,1149.8 L603.2,1106.0 L603.8,1159.9 L604.5,1161.6 L605.1,1155.3 L605.8,1138.5 L606.4,1138.8 L607.1,1146.9 L607.7,1149.5 L608.3,1168.2 L609.0,1121.6 L609.6,1151.2 L610.3,1112.5 L610.9,1173.1 L611.6,1164.1 L612.2,1135.9 L612.9,1138.6 L613.5,1146.0 L614.2,1130.6 L614.8,1152.0 L615.5,1165.7 L616.1,1126.4 L616.8,1149.6 L617.4,1130.9 L618.0,1178.3 L618.7,1117.7 L619.3,1139.8 L620.0,1155.3 L620.6,1152.8 L621.3,1138.2 L621.9,1159.6 L622.6,1142.8 L623.2,1164.3 L623.9,1124.4 L624.5,1140.4 L625.2,1174.3 L625.8,1181.3 L626.5,1182.2 L627.1,1131.8 L627.7,1195.3 L628.4,1154.2 L629.0,1198.2 L629.7,1164.1 L630.3,1127.7 L631.0,1162.1 L631.6,1146.4 L632.3,1159.3 L632.9,1139.0 L633.6,1155.1 L634.2,1154.3 L634.9,1132.1 L635.5,1158.8 L636.2,1134.7 L636.8,1134.6 L637.4,1122.9 L638.1,1157.5 L638.7,1141.3 L639.4,1110.2 L640.0,1124.9 L640.7,1150.6 L641.3,1145.0 L642.0,1145.9 L642.6,1129.8 L643.3,1144.0 L643.9,1142.8 L644.6,1158.7 L645.2,1138.9 L645.9,1173.1 L646.5,1134.6 L647.1,1150.8 L647.8,1171.1 L648.4,1109.8 L649.1,1128.9 L649.7,1160.0 L650.4,1129.1 L651.0,1124.1 L651.7,1157.3 L652.3,1158.2 L653.0,1136.4 L653.6,1117.9 L654.3,1142.0 L654.9,1113.5 L655.6,1157.9 L656.2,1161.0 L656.8,1095.9 L657.5,1084.7 L658.1,1111.3 L658.8,1137.6 L659.4,1108.5 L660.1,1131.3 L660.7,1114.2 L661.4,1111.1 L662.0,1109.3 L662.7,1098.8 L663.3,1084.4 L664.0,1107.3 L664.6,1103.0 L665.3,1108.5 L665.9,1086.8 L666.5,1094.1 L667.2,1064.9 L667.8,1085.1 L668.5,1042.9 L669.1,1031.6 L669.8,1075.8 L670.4,1047.7 L671.1,1053.4 L671.7,1043.9 L672.4,1041.7 L673.0,987.1 L673.7,1017.8 L674.3,1022.3 L675.0,1000.9 L675.6,1010.9 L676.2,990.0 L676.9,997.6 L677.5,999.2 L678.2,976.1 L678.8,940.6 L679.5,983.4 L680.1,974.5 L680.8,958.1 L681.4,955.6 L682.1,930.2 L682.7,956.1 L683.4,950.5 L684.0,955.2 L684.7,935.4 L685.3,924.1 L685.9,923.4 L686.6,928.7 L687.2,971.5 L687.9,925.5 L688.5,923.7 L689.2,933.7 L689.8,945.9 L690.5,944.9 L691.1,928.4 L691.8,948.5 L692.4,979.1 L693.1,934.0 L693.7,952.7 L694.4,967.2 L695.0,968.4 L695.6,980.3 L696.3,954.4 L696.9,1026.1 L697.6,1003.8 L698.2,1012.1 L698.9,1024.4 L699.5,993.6 L700.2,1025.1 L700.8,1004.1 L701.5,1018.3 L702.1,1040.9 L702.8,1055.3 L703.4,1037.9 L704.1,1032.5 L704.7,1042.4 L705.3,1085.1 L706.0,1059.7 L706.6,1015.9 L707.3,1090.8 L707.9,1090.5 L708.6,1053.4 L709.2,1050.1 L709.9,1072.3 L710.5,1102.9 L711.2,1079.2 L711.8,1057.8 L712.5,1122.6 L713.1,1148.5 L713.8,1091.5 L714.4,1116.1 L715.0,1110.1 L715.7,1115.1 L716.3,1105.6 L717.0,1125.0 L717.6,1148.5 L718.3,1138.9 L718.9,1090.2 L719.6,1106.4 L720.2,1126.7 L720.9,1151.3 L721.5,1160.4 L722.2,1182.2 L722.8,1174.7 L723.5,1108.8 L724.1,1140.6 L724.7,1174.1 L725.4,1173.8 L726.0,1142.0 L726.7,1176.1 L727.3,1177.9 L728.0,1158.5 L728.6,1150.0 L729.3,1191.0 L729.9,1147.4 L730.6,1168.3 L731.2,1248.7 L731.9,1170.8 L732.5,1140.5 L733.2,1177.0 L733.8,1155.3 L734.4,1169.9 L735.1,1173.7 L735.7,1197.2 L736.4,1211.9 L737.0,1164.5 L737.7,1164.1 L738.3,1182.5 L739.0,1230.2 L739.6,1211.5 L740.3,1167.6 L740.9,1190.5 L741.6,1184.9 L742.2,1198.7 L742.9,1201.3 L743.5,1204.1 L744.1,1214.8 L744.8,1248.0 L745.4,1182.6 L746.1,1178.0 L746.7,1217.2 L747.4,1192.8 L748.0,1222.2 L748.7,1178.8 L749.3,1180.6 L750.0,1190.5 L750.6,1183.4 L751.3,1195.9 L751.9,1228.5 L752.6,1184.4 L753.2,1194.2 L753.8,1162.0 L754.5,1203.3 L755.1,1213.3 L755.8,1226.6 L756.4,1229.2 L757.1,1212.3 L757.7,1202.6 L758.4,1174.5 L759.0,1218.4 L759.7,1231.1 L760.3,1229.3 L761.0,1176.5 L761.6,1217.9 L762.3,1224.6 L762.9,1214.9 L763.5,1178.7 L764.2,1193.6 L764.8,1182.3 L765.5,1236.6 L766.1,1251.0 L766.8,1273.6 L767.4,1182.3 L768.1,1201.4 L768.7,1236.6 L769.4,1219.7 L770.0,1242.8 L770.7,1190.3 L771.3,1233.5 L772.0,1209.8 L772.6,1226.0 L773.2,1242.5 L773.9,1228.2 L774.5,1266.2 L775.2,1224.7 L775.8,1225.3 L776.5,1190.3 L777.1,1229.8 L777.8,1193.1 L778.4,1238.9 L779.1,1212.6 L779.7,1237.9 L780.4,1223.9 L781.0,1215.7 L781.7,1207.1 L782.3,1220.4 L782.9,1267.4 L783.6,1229.5 L784.2,1241.3 L784.9,1265.4 L785.5,1265.7 L786.2,1230.1 L786.8,1204.2 L787.5,1190.9 L788.1,1257.0 L788.8,1213.1 L789.4,1250.9 L790.1,1259.5 L790.7,1246.8 L791.4,1278.2 L792.0,1257.8 L792.6,1217.5 L793.3,1224.8 L793.9,1222.0 L794.6,1190.1 L795.2,1250.0 L795.9,1234.2 L796.5,1247.4 L797.2,1219.7 L797.8,1277.0 L798.5,1211.7 L799.1,1236.1 L799.8,1209.5 L800.4,1242.6 L801.1,1260.5 L801.7,1243.5 L802.3,1220.3 L803.0,1233.1 L803.6,1221.8 L804.3,1229.1 L804.9,1257.5 L805.6,1225.1 L806.2,1204.2 L806.9,1203.3 L807.5,1250.7 L808.2,1226.9 L808.8,1234.4 L809.5,1206.9 L810.1,1216.8 L810.8,1197.9 L811.4,1247.8 L812.0,1212.4 L812.7,1259.3 L813.3,1221.2 L814.0,1246.4 L814.6,1223.3 L815.3,1211.8 L815.9,1240.1 L816.6,1181.0 L817.2,1214.8 L817.9,1242.6 L818.5,1241.7 L819.2,1211.3 L819.8,1265.7 L820.5,1235.1 L821.1,1190.9 L821.7,1251.9 L822.4,1279.0 L823.0,1211.1 L823.7,1212.8 L824.3,1244.7 L825.0,1250.0 L825.6,1203.3 L826.3,1225.9 L826.9,1207.6 L827.6,1256.3 L828.2,1203.4 L828.9,1206.9 L829.5,1232.3 L830.2,1254.5 L830.8,1232.9 L831.4,1242.8 L832.1,1225.5 L832.7,1222.0 L833.4,1238.4 L834.0,1224.1 L834.7,1234.0 L835.3,1206.1 L836.0,1234.4 L836.6,1235.4 L837.3,1236.0 L837.9,1226.1 L838.6,1193.2 L839.2,1221.6 L839.9,1209.5 L840.5,1175.0 L841.1,1227.0 L841.8,1218.8 L842.4,1247.9 L843.1,1248.4 L843.7,1217.3 L844.4,1222.3 L845.0,1178.1 L845.7,1230.2 L846.3,1209.2 L847.0,1252.1 L847.6,1259.2 L848.3,1201.5 L848.9,1214.2 L849.6,1199.4 L850.2,1199.6 L850.8,1243.3 L851.5,1215.0 L852.1,1207.9 L852.8,1220.2 L853.4,1241.7 L854.1,1239.5 L854.7,1173.5 L855.4,1225.6 L856.0,1208.0 L856.7,1236.9 L857.3,1214.1 L858.0,1225.8 L858.6,1203.6 L859.3,1236.8 L859.9,1180.9 L860.5,1162.8 L861.2,1191.3 L861.8,1196.2 L862.5,1232.5 L863.1,1181.1 L863.8,1195.2 L864.4,1196.8 L865.1,1272.4 L865.7,1236.1 L866.4,1270.4 L867.0,1214.1 L867.7,1249.0 L868.3,1176.2 L869.0,1205.8 L869.6,1179.1 L870.2,1170.9 L870.9,1193.4 L871.5,1184.1 L872.2,1232.9 L872.8,1252.9 L873.5,1210.1 L874.1,1231.7 L874.8,1200.9 L875.4,1205.2 L876.1,1232.3 L876.7,1162.0 L877.4,1242.4 L878.0,1201.9 L878.7,1154.7 L879.3,1204.4 L879.9,1185.2 L880.6,1183.2 L881.2,1178.6 L881.9,1190.4 L882.5,1180.9 L883.2,1186.6 L883.8,1180.3 L884.5,1144.7 L885.1,1207.7 L885.8,1209.1 L886.4,1184.0 L887.1,1171.3 L887.7,1164.3 L888.4,1221.4 L889.0,1185.1 L889.6,1225.7 L890.3,1131.0 L890.9,1273.6 L891.6,1189.2 L892.2,1179.9 L892.9,1154.1 L893.5,1201.8 L894.2,1178.6 L894.8,1199.0 L895.5,1204.1 L896.1,1161.9 L896.8,1243.1 L897.4,1200.7 L898.1,1213.2 L898.7,1169.4 L899.3,1212.6 L900.0,1202.2 L900.6,1192.9 L901.3,1206.0 L901.9,1224.4 L902.6,1242.4 L903.2,1177.4 L903.9,1224.3 L904.5,1259.1 L905.2,1251.4 L905.8,1227.0 L906.5,1186.6 L907.1,1234.7 L907.8,1218.4 L908.4,1203.5 L909.0,1263.6 L909.7,1232.2 L910.3,1227.7 L911.0,1253.1 L911.6,1204.4 L912.3,1212.5 L912.9,1227.3 L913.6,1247.8 L914.2,1242.3 L914.9,1204.6 L915.5,1228.6 L916.2,1240.7 L916.8,1205.5 L917.5,1226.3 L918.1,1241.1 L918.7,1243.6 L919.4,1205.7 L920.0,1209.1 L920.7,1240.7 L921.3,1225.0 L922.0,1234.4 L922.6,1262.5 L923.3,1283.1 L923.9,1285.0 L924.6,1229.7 L925.2,1225.6 L925.9,1235.4 L926.5,1275.4 L927.2,1212.4 L927.8,1206.3 L928.4,1233.1 L929.1,1239.7 L929.7,1230.5 L930.4,1242.0 L931.0,1275.1 L931.7,1264.1 L932.3,1237.4 L933.0,1207.5 L933.6,1260.2 L934.3,1244.7 L934.9,1280.2 L935.6,1269.9 L936.2,1249.8 L936.9,1219.1 L937.5,1260.8 L938.1,1269.3 L938.8,1233.2 L939.4,1293.6 L940.1,1250.1 L940.7,1225.2 L941.4,1225.1 L942.0,1300.8 L942.7,1238.4 L943.3,1283.5 L944.0,1229.2 L944.6,1300.2 L945.3,1310.1 L945.9,1239.7 L946.6,1237.3 L947.2,1287.4 L947.8,1261.7 L948.5,1269.4 L949.1,1238.2 L949.8,1272.5 L950.4,1248.0 L951.1,1299.5 L951.7,1241.7 L952.4,1256.8 L953.0,1310.3 L953.7,1273.1 L954.3,1258.1 L955.0,1276.9 L955.6,1275.7 L956.3,1275.7 L956.9,1304.4 L957.5,1298.4 L958.2,1281.5 L958.8,1267.4 L959.5,1337.3 L960.1,1304.0 L960.8,1292.4 L961.4,1286.7 L962.1,1295.6 L962.7,1295.1 L963.4,1346.0 L964.0,1297.3 L964.7,1293.0 L965.3,1302.2 L966.0,1284.7 L966.6,1286.6 L967.2,1303.6 L967.9,1293.0 L968.5,1272.4 L969.2,1312.0 L969.8,1303.8 L970.5,1273.9 L971.1,1295.0 L971.8,1299.1 L972.4,1282.3 L973.1,1304.5 L973.7,1233.3 L974.4,1278.8 L975.0,1255.5 L975.7,1251.1 L976.3,1305.8 L976.9,1343.0 L977.6,1257.5 L978.2,1227.5 L978.9,1309.3 L979.5,1240.6 L980.2,1294.8 L980.8,1310.2 L981.5,1233.9 L982.1,1307.1 L982.8,1310.0 L983.4,1292.7 L984.1,1322.3 L984.7,1280.2 L985.4,1292.0 L986.0,1303.8 L986.6,1296.3 L987.3,1307.5 L987.9,1275.6 L988.6,1274.5 L989.2,1266.2 L989.9,1298.6 L990.5,1314.2 L991.2,1328.1 L991.8,1327.3 L992.5,1264.8 L993.1,1300.3 L993.8,1324.9 L994.4,1268.0 L995.1,1313.3 L995.7,1266.2 L996.3,1297.5 L997.0,1309.4 L997.6,1326.3 L998.3,1298.9 L998.9,1282.8 L999.6,1255.6 L1000.2,1260.0 L1000.9,1319.4 L1001.5,1297.9 L1002.2,1293.0 L1002.8,1308.0 L1003.5,1314.3 L1004.1,1332.0 L1004.8,1296.6 L1005.4,1317.1 L1006.0,1303.3 L1006.7,1296.6 L1007.3,1269.7 L1008.0,1301.0 L1008.6,1270.3 L1009.3,1266.9 L1009.9,1318.8 L1010.6,1270.9 L1011.2,1259.3 L1011.9,1275.2 L1012.5,1286.1 L1013.2,1267.7 L1013.8,1309.9 L1014.5,1303.7 L1015.1,1305.2 L1015.7,1311.7 L1016.4,1277.9 L1017.0,1311.1 L1017.7,1286.1 L1018.3,1278.3 L1019.0,1266.5 L1019.6,1288.9 L1020.3,1272.6 L1020.9,1310.0 L1021.6,1306.7 L1022.2,1249.4 L1022.9,1268.2 L1023.5,1305.3 L1024.2,1282.9 L1024.8,1302.2 L1025.4,1303.5 L1026.1,1305.4 L1026.7,1298.6 L1027.4,1296.3 L1028.0,1294.4 L1028.7,1289.3 L1029.3,1291.9 L1030.0,1284.7 L1030.6,1298.0 L1031.3,1327.6 L1031.9,1315.4 L1032.6,1352.0 L1033.2,1293.3 L1033.9,1298.7 L1034.5,1256.9 L1035.1,1274.1 L1035.8,1316.6 L1036.4,1298.8 L1037.1,1337.5 L1037.7,1286.8 L1038.4,1325.1 L1039.0,1296.8 L1039.7,1274.0 L1040.3,1303.7 L1041.0,1322.3 L1041.6,1306.3 L1042.3,1299.9 L1042.9,1316.1 L1043.6,1278.6 L1044.2,1294.4 L1044.8,1289.1 L1045.5,1319.7 L1046.1,1275.7 L1046.8,1310.8 L1047.4,1287.6 L1048.1,1261.3 L1048.7,1306.3 L1049.4,1281.9 L1050.0,1306.9 L1050.7,1320.6 L1051.3,1339.7 L1052.0,1290.2 L1052.6,1311.2 L1053.3,1355.3 L1053.9,1332.3 L1054.5,1307.7 L1055.2,1337.2 L1055.8,1348.4 L1056.5,1334.8 L1057.1,1301.6 L1057.8,1333.7 L1058.4,1318.7 L1059.1,1315.6 L1059.7,1330.3 L1060.4,1371.0 L1061.0,1320.3 L1061.7,1331.0 L1062.3,1338.7 L1063.0,1291.2 L1063.6,1298.0 L1064.2,1347.5 L1064.9,1347.5 L1065.5,1328.3 L1066.2,1290.1 L1066.8,1340.7 L1067.5,1322.6 L1068.1,1335.4 L1068.8,1323.9 L1069.4,1311.3 L1070.1,1352.2 L1070.7,1320.0 L1071.4,1336.3 L1072.0,1286.6 L1072.7,1322.8 L1073.3,1357.6 L1073.9,1325.9 L1074.6,1336.0 L1075.2,1342.6 L1075.9,1351.8 L1076.5,1319.4 L1077.2,1298.9 L1077.8,1336.6 L1078.5,1293.8 L1079.1,1296.8 L1079.8,1347.7 L1080.4,1295.8 L1081.1,1301.9 L1081.7,1321.5 L1082.4,1282.5 L1083.0,1296.3 L1083.6,1321.4 L1084.3,1289.0 L1084.9,1282.2 L1085.6,1290.5 L1086.2,1330.8 L1086.9,1308.3 L1087.5,1320.2 L1088.2,1318.5 L1088.8,1313.8 L1089.5,1271.6 L1090.1,1312.5 L1090.8,1291.5 L1091.4,1329.1 L1092.1,1324.9 L1092.7,1281.2 L1093.3,1284.0 L1094.0,1312.0 L1094.6,1319.6 L1095.3,1296.4 L1095.9,1310.3 L1096.6,1328.4 L1097.2,1343.1 L1097.9,1300.6 L1098.5,1317.8 L1099.2,1298.3 L1099.8,1314.9 L1100.5,1306.7 L1101.1,1345.4 L1101.8,1305.5 L1102.4,1308.6 L1103.0,1301.3 L1103.7,1326.5 L1104.3,1351.0 L1105.0,1317.4 L1105.6,1309.3 L1106.3,1344.8 L1106.9,1318.5 L1107.6,1368.1 L1108.2,1370.0 L1108.9,1327.6 L1109.5,1323.2 L1110.2,1312.2 L1110.8,1320.4 L1111.5,1317.8 L1112.1,1318.6 L1112.7,1329.3 L1113.4,1329.4 L1114.0,1312.4 L1114.7,1327.1 L1115.3,1336.8 L1116.0,1365.2 L1116.6,1342.5 L1117.3,1277.3 L1117.9,1345.3 L1118.6,1323.5 L1119.2,1319.2 L1119.9,1298.9 L1120.5,1278.4 L1121.2,1340.3 L1121.8,1330.9 L1122.4,1342.7 L1123.1,1311.4 L1123.7,1323.8 L1124.4,1313.5 L1125.0,1311.1 L1125.7,1368.5 L1126.3,1310.5 L1127.0,1333.1 L1127.6,1328.4 L1128.3,1299.4 L1128.9,1312.7 L1129.6,1334.9 L1130.2,1311.4 L1130.9,1329.9 L1131.5,1333.8 L1132.1,1329.9 L1132.8,1327.9 L1133.4,1277.9 L1134.1,1317.3 L1134.7,1300.1 L1135.4,1333.2 L1136.0,1342.7 L1136.7,1323.7 L1137.3,1323.3 L1138.0,1329.4 L1138.6,1319.8 L1139.3,1289.7 L1139.9,1306.5 L1140.6,1300.2 L1141.2,1333.6 L1141.8,1352.5 L1142.5,1325.8 L1143.1,1357.0 L1143.8,1328.2 L1144.4,1329.9 L1145.1,1324.7 L1145.7,1310.7 L1146.4,1331.4 L1147.0,1338.6 L1147.7,1326.5 L1148.3,1363.8 L1149.0,1315.3 L1149.6,1331.7 L1150.3,1318.2 L1150.9,1324.1 L1151.5,1316.7 L1152.2,1311.1 L1152.8,1320.5 L1153.5,1364.8 L1154.1,1324.7 L1154.8,1327.5 L1155.4,1334.5 L1156.1,1308.5 L1156.7,1349.6 L1157.4,1328.3 L1158.0,1310.8 L1158.7,1316.4 L1159.3,1314.5 L1160.0,1349.6 L1160.6,1346.7 L1161.2,1327.0 L1161.9,1313.1 L1162.5,1317.4 L1163.2,1305.2 L1163.8,1318.3 L1164.5,1346.2 L1165.1,1347.9 L1165.8,1319.8 L1166.4,1336.8 L1167.1,1329.0 L1167.7,1326.3 L1168.4,1303.8 L1169.0,1328.0 L1169.7,1305.8 L1170.3,1318.5 L1170.9,1356.5 L1171.6,1325.4 L1172.2,1341.2 L1172.9,1346.8 L1173.5,1315.8 L1174.2,1326.0 L1174.8,1326.1 L1175.5,1347.2 L1176.1,1335.1 L1176.8,1328.5 L1177.4,1343.4 L1178.1,1321.3 L1178.7,1332.0 L1179.4,1366.0 L1180.0,1314.6 L1180.6,1326.3 L1181.3,1341.5 L1181.9,1346.8 L1182.6,1340.1 L1183.2,1350.3 L1183.9,1333.9 L1184.5,1333.9 L1185.2,1333.0 L1185.8,1317.9 L1186.5,1272.0 L1187.1,1315.6 L1187.8,1333.6 L1188.4,1302.2 L1189.1,1316.4 L1189.7,1362.9 L1190.3,1341.3 L1191.0,1331.4 L1191.6,1353.0 L1192.3,1356.8 L1192.9,1315.7 L1193.6,1350.9 L1194.2,1308.2 L1194.9,1320.8 L1195.5,1354.0 L1196.2,1322.0 L1196.8,1323.0 L1197.5,1357.3 L1198.1,1341.9 L1198.8,1310.3 L1199.4,1351.2 L1200.0,1346.3 L1200.7,1363.0 L1201.3,1314.0 L1202.0,1343.4 L1202.6,1328.3 L1203.3,1348.1 L1203.9,1320.3 L1204.6,1328.2 L1205.2,1338.3 L1205.9,1345.2 L1206.5,1290.5 L1207.2,1371.2 L1207.8,1327.2 L1208.5,1339.1 L1209.1,1355.0 L1209.7,1340.1 L1210.4,1336.8 L1211.0,1309.6 L1211.7,1362.7 L1212.3,1308.9 L1213.0,1345.6 L1213.6,1324.0 L1214.3,1312.3 L1214.9,1336.3 L1215.6,1330.5 L1216.2,1328.0 L1216.9,1341.2 L1217.5,1322.8 L1218.2,1330.5 L1218.8,1380.0 L1219.4,1362.7 L1220.1,1323.7 L1220.7,1347.3 L1221.4,1346.2 L1222.0,1329.0 L1222.7,1351.2 L1223.3,1359.4 L1224.0,1366.7 L1224.6,1380.2 L1225.3,1329.1 L1225.9,1351.9 L1226.6,1299.8 L1227.2,1364.5 L1227.9,1333.0 L1228.5,1318.6 L1229.1,1335.8 L1229.8,1342.8 L1230.4,1329.5 L1231.1,1355.6 L1231.7,1312.8 L1232.4,1308.7 L1233.0,1304.5 L1233.7,1341.0 L1234.3,1342.8 L1235.0,1353.1 L1235.6,1375.5 L1236.3,1359.6 L1236.9,1339.3 L1237.6,1345.3 L1238.2,1287.2 L1238.8,1312.8 L1239.5,1343.5 L1240.1,1337.2 L1240.8,1335.2 L1241.4,1343.8 L1242.1,1323.0 L1242.7,1340.3 L1243.4,1348.1 L1244.0,1328.6 L1244.7,1302.9 L1245.3,1313.5 L1246.0,1327.8 L1246.6,1365.9 L1247.3,1355.2 L1247.9,1330.1 L1248.5,1344.1 L1249.2,1373.7 L1249.8,1351.1 L1250.5,1336.3 L1251.1,1322.8 L1251.8,1345.8 L1252.4,1325.8 L1253.1,1354.3 L1253.7,1358.6 L1254.4,1361.7 L1255.0,1325.4 L1255.7,1317.5 L1256.3,1329.3 L1257.0,1316.6 L1257.6,1362.2 L1258.2,1313.3 L1258.9,1296.6 L1259.5,1318.6 L1260.2,1312.2 L1260.8,1332.6 L1261.5,1339.6 L1262.1,1333.6 L1262.8,1328.1 L1263.4,1352.2 L1264.1,1331.6 L1264.7,1358.7 L1265.4,1335.2 L1266.0,1316.5 L1266.7,1361.2 L1267.3,1319.3 L1267.9,1334.9 L1268.6,1374.1 L1269.2,1332.5 L1269.9,1322.9 L1270.5,1326.1 L1271.2,1333.3 L1271.8,1323.1 L1272.5,1310.5 L1273.1,1324.6 L1273.8,1348.2 L1274.4,1336.2 L1275.1,1338.5 L1275.7,1368.5 L1276.3,1316.9 L1277.0,1345.6 L1277.6,1351.5 L1278.3,1337.2 L1278.9,1328.9 L1279.6,1349.2 L1280.2,1353.7 L1280.9,1316.0 L1281.5,1370.0 L1282.2,1347.7 L1282.8,1366.6 L1283.5,1351.6 L1284.1,1345.9 L1284.8,1331.4 L1285.4,1340.7 L1286.0,1343.7 L1286.7,1317.7 L1287.3,1359.8 L1288.0,1328.9 L1288.6,1337.2 L1289.3,1344.3 L1289.9,1288.0 L1290.6,1328.3 L1291.2,1366.8 L1291.9,1350.9 L1292.5,1315.9 L1293.2,1322.2 L1293.8,1340.4 L1294.5,1303.6 L1295.1,1346.2 L1295.7,1348.7 L1296.4,1389.0 L1297.0,1340.1 L1297.7,1323.2 L1298.3,1327.8 L1299.0,1351.0 L1299.6,1329.8 L1300.3,1321.5 L1300.9,1346.0 L1301.6,1356.2 L1302.2,1330.8 L1302.9,1339.6 L1303.5,1359.2 L1304.2,1357.5 L1304.8,1301.9 L1305.4,1350.2 L1306.1,1367.7 L1306.7,1358.6 L1307.4,1334.8 L1308.0,1362.9 L1308.7,1308.5 L1309.3,1340.9 L1310.0,1336.4 L1310.6,1348.9 L1311.3,1297.0 L1311.9,1325.1 L1312.6,1323.2 L1313.2,1347.1 L1313.9,1330.0 L1314.5,1333.5 L1315.1,1325.8 L1315.8,1335.2 L1316.4,1352.9 L1317.1,1329.1 L1317.7,1288.0 L1318.4,1320.6 L1319.0,1342.9 L1319.7,1350.3 L1320.3,1323.5 L1321.0,1336.1 L1321.6,1309.9 L1322.3,1344.6 L1322.9,1340.0 L1323.6,1305.2 L1324.2,1326.9 L1324.8,1337.5 L1325.5,1308.9 L1326.1,1363.6 L1326.8,1339.4 L1327.4,1307.3 L1328.1,1301.6 L1328.7,1335.5 L1329.4,1328.4 L1330.0,1337.9 L1330.7,1329.0 L1331.3,1306.9 L1332.0,1351.4 L1332.6,1353.1 L1333.3,1376.8 L1333.9,1347.7 L1334.5,1359.3 L1335.2,1361.9 L1335.8,1376.5 L1336.5,1335.4 L1337.1,1331.1 L1337.8,1348.7 L1338.4,1333.4 L1339.1,1350.7 L1339.7,1350.9 L1340.4,1340.7 L1341.0,1347.8 L1341.7,1321.7 L1342.3,1346.8 L1343.0,1329.2 L1343.6,1340.0 L1344.2,1322.8 L1344.9,1351.8 L1345.5,1333.8 L1346.2,1354.6 L1346.8,1314.8 L1347.5,1313.9 L1348.1,1326.8 L1348.8,1316.5 L1349.4,1343.9 L1350.1,1323.9 L1350.7,1284.4 L1351.4,1340.7 L1352.0,1347.3 L1352.7,1365.5 L1353.3,1325.3 L1353.9,1323.4 L1354.6,1296.2 L1355.2,1339.5 L1355.9,1323.5 L1356.5,1351.1 L1357.2,1351.3 L1357.8,1349.1 L1358.5,1321.4 L1359.1,1331.6 L1359.8,1333.0 L1360.4,1349.3 L1361.1,1334.9 L1361.7,1335.5 L1362.4,1344.9 L1363.0,1336.8 L1363.6,1333.4 L1364.3,1360.8 L1364.9,1332.3 L1365.6,1337.8 L1366.2,1337.2 L1366.9,1371.5 L1367.5,1311.9 L1368.2,1347.4 L1368.8,1346.1 L1369.5,1392.8 L1370.1,1339.4 L1370.8,1338.2 L1371.4,1354.3 L1372.1,1317.2 L1372.7,1335.5 L1373.3,1293.8 L1374.0,1315.5 L1374.6,1358.1 L1375.3,1366.2 L1375.9,1320.5 L1376.6,1306.6 L1377.2,1318.5 L1377.9,1337.6 L1378.5,1373.8 L1379.2,1327.3 L1379.8,1338.2 L1380.5,1348.5 L1381.1,1346.5 L1381.8,1334.8 L1382.4,1339.8 L1383.0,1368.2 L1383.7,1340.9 L1384.3,1340.0 L1385.0,1330.4 L1385.6,1336.9 L1386.3,1330.1 L1386.9,1339.4 L1387.6,1346.5 L1388.2,1362.9 L1388.9,1329.9 L1389.5,1365.1 L1390.2,1351.9 L1390.8,1376.5 L1391.5,1335.2 L1392.1,1306.9 L1392.7,1374.3 L1393.4,1311.1 L1394.0,1340.7 L1394.7,1353.6 L1395.3,1357.6 L1396.0,1355.4 L1396.6,1348.6 L1397.3,1312.7 L1397.9,1350.4 L1398.6,1365.6 L1399.2,1359.9 L1399.9,1362.6 L1400.5,1327.0 L1401.2,1308.1 L1401.8,1322.4 L1402.4,1322.0 L1403.1,1314.6 L1403.7,1338.5 L1404.4,1354.1 L1405.0,1356.9 L1405.7,1355.3 L1406.3,1371.1 L1407.0,1314.8 L1407.6,1364.8 L1408.3,1364.2 L1408.9,1386.5 L1409.6,1357.1 L1410.2,1348.4 L1410.9,1327.2 L1411.5,1361.9 L1412.1,1354.8 L1412.8,1367.7 L1413.4,1340.8 L1414.1,1364.2 L1414.7,1318.0 L1415.4,1368.6 L1416.0,1339.0 L1416.7,1378.9 L1417.3,1363.1 L1418.0,1331.4 L1418.6,1367.7 L1419.3,1345.4 L1419.9,1328.1 L1420.6,1332.5 L1421.2,1349.6 L1421.8,1320.5 L1422.5,1324.8 L1423.1,1331.2 L1423.8,1332.3 L1424.4,1341.0 L1425.1,1335.2 L1425.7,1367.8 L1426.4,1342.6 L1427.0,1317.6 L1427.7,1302.8 L1428.3,1368.6 L1429.0,1358.3 L1429.6,1338.7 L1430.3,1343.3 L1430.9,1307.7 L1431.5,1328.8 L1432.2,1321.6 L1432.8,1325.8 L1433.5,1360.7 L1434.1,1357.4 L1434.8,1319.6 L1435.4,1329.3 L1436.1,1344.1 L1436.7,1340.9 L1437.4,1325.0 L1438.0,1356.1 L1438.7,1356.7 L1439.3,1342.1 L1440.0,1324.8 L1440.6,1339.3 L1441.2,1349.0 L1441.9,1311.2 L1442.5,1354.0 L1443.2,1351.2 L1443.8,1335.3 L1444.5,1365.0 L1445.1,1331.5 L1445.8,1334.4 L1446.4,1335.1 L1447.1,1331.4 L1447.7,1362.8 L1448.4,1363.9 L1449.0,1379.1 L1449.7,1368.5 L1450.3,1392.8 L1450.9,1365.8 L1451.6,1302.8 L1452.2,1338.9 L1452.9,1341.5 L1453.5,1334.4 L1454.2,1352.7 L1454.8,1366.4 L1455.5,1368.9 L1456.1,1336.4 L1456.8,1354.4 L1457.4,1347.5 L1458.1,1332.9 L1458.7,1323.4 L1459.4,1347.9 L1460.0,1319.1 L1460.6,1328.4 L1461.3,1354.2 L1461.9,1359.9 L1462.6,1347.2 L1463.2,1361.4 L1463.9,1350.0 L1464.5,1363.5 L1465.2,1337.8 L1465.8,1318.6 L1466.5,1381.0 L1467.1,1365.0 L1467.8,1383.2 L1468.4,1355.2 L1469.1,1366.8 L1469.7,1355.6 L1470.3,1361.0 L1471.0,1325.4 L1471.6,1356.9 L1472.3,1380.9 L1472.9,1338.5 L1473.6,1366.5 L1474.2,1336.0 L1474.9,1365.0 L1475.5,1346.6 L1476.2,1327.5 L1476.8,1395.4 L1477.5,1341.4 L1478.1,1353.7 L1478.8,1337.1 L1479.4,1391.1 L1480.0,1359.8 L1480.7,1355.5 L1481.3,1356.2 L1482.0,1363.2 L1482.6,1369.3 L1483.3,1355.6 L1483.9,1358.1 L1484.6,1325.0 L1485.2,1366.3 L1485.9,1338.2 L1486.5,1345.2 L1487.2,1345.3 L1487.8,1362.3 L1488.5,1362.2 L1489.1,1328.6 L1489.7,1386.6 L1490.4,1333.1 L1491.0,1357.1 L1491.7,1353.4 L1492.3,1328.4 L1493.0,1372.4 L1493.6,1352.5 L1494.3,1338.0 L1494.9,1360.6 L1495.6,1326.5 L1496.2,1349.4 L1496.9,1356.4 L1497.5,1358.2 L1498.2,1371.1 L1498.8,1364.4 L1499.4,1389.0 L1500.1,1360.3 L1500.7,1341.1 L1501.4,1343.4 L1502.0,1371.5 L1502.7,1371.2 L1503.3,1381.5 L1504.0,1359.5 L1504.6,1383.4 L1505.3,1349.9 L1505.9,1362.5 L1506.6,1358.4 L1507.2,1318.5 L1507.9,1330.4 L1508.5,1339.7 L1509.1,1376.6 L1509.8,1357.9 L1510.4,1376.0 L1511.1,1344.1 L1511.7,1347.7 L1512.4,1355.4 L1513.0,1357.9 L1513.7,1356.9 L1514.3,1370.8 L1515.0,1336.1 L1515.6,1373.6 L1516.3,1354.8 L1516.9,1364.7 L1517.6,1338.6 L1518.2,1359.5 L1518.8,1368.8 L1519.5,1340.4 L1520.1,1384.0 L1520.8,1347.1 L1521.4,1364.7 L1522.1,1349.2 L1522.7,1367.0 L1523.4,1380.7 L1524.0,1330.6 L1524.7,1345.3 L1525.3,1372.0 L1526.0,1358.0 L1526.6,1359.6 L1527.3,1375.6 L1527.9,1378.7 L1528.5,1368.0 L1529.2,1351.0 L1529.8,1381.5 L1530.5,1396.6 L1531.1,1355.6 L1531.8,1357.8 L1532.4,1381.2 L1533.1,1352.7 L1533.7,1354.0 L1534.4,1340.5 L1535.0,1349.8 L1535.7,1369.5 L1536.3,1365.5 L1537.0,1359.2 L1537.6,1399.0 L1538.2,1361.6 L1538.9,1349.0 L1539.5,1378.4 L1540.2,1349.4 L1540.8,1368.9 L1541.5,1338.3 L1542.1,1344.5 L1542.8,1352.1 L1543.4,1350.7 L1544.1,1384.8 L1544.7,1389.5 L1545.4,1330.5 L1546.0,1363.4 L1546.7,1388.1 L1547.3,1342.7 L1547.9,1344.0 L1548.6,1330.9 L1549.2,1392.0 L1549.9,1352.2 L1550.5,1358.4 L1551.2,1337.6 L1551.8,1350.4 L1552.5,1340.5 L1553.1,1353.6 L1553.8,1335.4 L1554.4,1344.1 L1555.1,1358.9 L1555.7,1355.0 L1556.4,1349.2 L1557.0,1367.2 L1557.6,1338.2 L1558.3,1353.3 L1558.9,1379.9 L1559.6,1345.9 L1560.2,1418.0 L1560.9,1367.0 L1561.5,1357.4 L1562.2,1363.0 L1562.8,1351.6 L1563.5,1338.9 L1564.1,1349.9 L1564.8,1347.9 L1565.4,1397.3 L1566.1,1357.1 L1566.7,1323.0 L1567.3,1322.5 L1568.0,1319.9 L1568.6,1315.0 L1569.3,1339.0 L1569.9,1347.6 L1570.6,1322.4 L1571.2,1315.5 L1571.9,1339.5 L1572.5,1372.9 L1573.2,1338.6 L1573.8,1371.0 L1574.5,1341.8 L1575.1,1342.7 L1575.8,1335.4 L1576.4,1327.7 L1577.0,1346.0 L1577.7,1299.6 L1578.3,1309.7 L1579.0,1344.6 L1579.6,1302.5 L1580.3,1303.6 L1580.9,1368.0 L1581.6,1323.4 L1582.2,1298.3 L1582.9,1335.1 L1583.5,1310.8 L1584.2,1335.7 L1584.8,1335.6 L1585.5,1314.1 L1586.1,1310.0 L1586.7,1357.9 L1587.4,1377.1 L1588.0,1333.0 L1588.7,1312.7 L1589.3,1311.0 L1590.0,1365.7 L1590.6,1347.5 L1591.3,1362.9 L1591.9,1380.7 L1592.6,1354.4 L1593.2,1356.9 L1593.9,1345.6 L1594.5,1351.4 L1595.2,1341.3 L1595.8,1360.4 L1596.4,1380.5 L1597.1,1328.4 L1597.7,1367.0 L1598.4,1342.7 L1599.0,1332.7 L1599.7,1357.1 L1600.3,1399.0 L1601.0,1351.7 L1601.6,1368.7 L1602.3,1341.6 L1602.9,1366.5 L1603.6,1324.6 L1604.2,1374.3 L1604.9,1346.5 L1605.5,1390.2 L1606.1,1380.2 L1606.8,1349.4 L1607.4,1371.2 L1608.1,1365.4 L1608.7,1351.8 L1609.4,1386.7 L1610.0,1359.7 L1610.7,1348.6 L1611.3,1355.7 L1612.0,1390.8 L1612.6,1333.0 L1613.3,1338.0 L1613.9,1371.3 L1614.6,1364.8 L1615.2,1377.8 L1615.8,1344.2 L1616.5,1378.0 L1617.1,1361.0 L1617.8,1351.0 L1618.4,1383.1 L1619.1,1348.6 L1619.7,1386.4 L1620.4,1364.4 L1621.0,1378.7 L1621.7,1340.2 L1622.3,1383.5 L1623.0,1371.0 L1623.6,1356.1 L1624.3,1389.9 L1624.9,1345.9 L1625.5,1346.9 L1626.2,1366.6 L1626.8,1364.9 L1627.5,1356.8 L1628.1,1378.6 L1628.8,1385.9 L1629.4,1426.9 L1630.1,1332.7 L1630.7,1392.6 L1631.4,1373.1 L1632.0,1359.3 L1632.7,1381.7 L1633.3,1345.4 L1634.0,1375.0 L1634.6,1388.1 L1635.2,1369.3 L1635.9,1382.1 L1636.5,1354.1 L1637.2,1370.3 L1637.8,1388.7 L1638.5,1372.3 L1639.1,1366.1 L1639.8,1375.5 L1640.4,1384.4 L1641.1,1410.2 L1641.7,1382.2 L1642.4,1347.6 L1643.0,1328.0 L1643.7,1356.2 L1644.3,1331.9 L1644.9,1390.2 L1645.6,1409.2 L1646.2,1362.7 L1646.9,1376.1 L1647.5,1366.8 L1648.2,1399.1 L1648.8,1371.4 L1649.5,1356.5 L1650.1,1374.6 L1650.8,1393.6 L1651.4,1373.3 L1652.1,1366.4 L1652.7,1369.6 L1653.4,1400.7 L1654.0,1374.5 L1654.6,1394.3 L1655.3,1387.1 L1655.9,1397.3 L1656.6,1393.7 L1657.2,1373.9 L1657.9,1394.3 L1658.5,1366.3 L1659.2,1389.2 L1659.8,1402.1 L1660.5,1394.3 L1661.1,1357.8 L1661.8,1383.4 L1662.4,1384.6 L1663.1,1421.0 L1663.7,1379.2 L1664.3,1403.9 L1665.0,1383.1 L1665.6,1404.2 L1666.3,1370.2 L1666.9,1398.4 L1667.6,1349.9 L1668.2,1418.4 L1668.9,1360.8 L1669.5,1380.7 L1670.2,1390.3 L1670.8,1373.0 L1671.5,1359.4 L1672.1,1414.2 L1672.8,1390.0 L1673.4,1378.7 L1674.0,1388.8 L1674.7,1383.4 L1675.3,1374.1 L1676.0,1376.8 L1676.6,1382.4 L1677.3,1384.4 L1677.9,1375.2 L1678.6,1392.9 L1679.2,1394.5 L1679.9,1385.0 L1680.5,1381.9 L1681.2,1392.8 L1681.8,1350.0 L1682.5,1371.2 L1683.1,1361.0 L1683.7,1366.5 L1684.4,1345.9 L1685.0,1374.9 L1685.7,1369.7 L1686.3,1378.2 L1687.0,1415.4 L1687.6,1383.5 L1688.3,1343.7 L1688.9,1381.1 L1689.6,1378.3 L1690.2,1394.7 L1690.9,1386.5 L1691.5,1384.3 L1692.2,1377.2 L1692.8,1403.4 L1693.4,1359.7 L1694.1,1389.1 L1694.7,1416.4 L1695.4,1392.2 L1696.0,1353.0 L1696.7,1392.5 L1697.3,1417.6 L1698.0,1395.4 L1698.6,1372.3 L1699.3,1409.1 L1699.9,1353.4 L1700.6,1384.1 L1701.2,1375.1 L1701.9,1407.6 L1702.5,1389.6 L1703.1,1344.3 L1703.8,1398.7 L1704.4,1400.0 L1705.1,1401.2 L1705.7,1354.8 L1706.4,1406.5 L1707.0,1388.7 L1707.7,1358.0 L1708.3,1387.2 L1709.0,1391.7 L1709.6,1395.7 L1710.3,1380.1 L1710.9,1430.7 L1711.6,1380.9 L1712.2,1390.2 L1712.8,1413.8 L1713.5,1413.2 L1714.1,1365.4 L1714.8,1360.9 L1715.4,1398.0 L1716.1,1346.0 L1716.7,1381.5 L1717.4,1388.1 L1718.0,1384.7 L1718.7,1409.7 L1719.3,1369.1 L1720.0,1411.5 L1720.6,1385.8 L1721.3,1378.5 L1721.9,1385.4 L1722.5,1391.7 L1723.2,1352.2 L1723.8,1379.4 L1724.5,1409.7 L1725.1,1411.8 L1725.8,1396.7 L1726.4,1392.0 L1727.1,1366.1 L1727.7,1372.4 L1728.4,1401.2 L1729.0,1437.0 L1729.7,1394.1 L1730.3,1387.3 L1731.0,1364.1 L1731.6,1375.0 L1732.2,1407.8 L1732.9,1386.1 L1733.5,1411.6 L1734.2,1385.5 L1734.8,1410.1 L1735.5,1393.7 L1736.1,1391.6 L1736.8,1389.0 L1737.4,1415.0 L1738.1,1363.5 L1738.7,1385.5 L1739.4,1392.9 L1740.0,1380.7 L1740.7,1360.1 L1741.3,1407.3 L1741.9,1376.1 L1742.6,1382.7 L1743.2,1374.4 L1743.9,1398.8 L1744.5,1380.1 L1745.2,1385.2 L1745.8,1378.1 L1746.5,1417.1 L1747.1,1395.6 L1747.8,1422.2 L1748.4,1414.5 L1749.1,1411.6 L1749.7,1394.0 L1750.4,1428.1 L1751.0,1401.5 L1751.6,1413.1 L1752.3,1386.7 L1752.9,1388.0 L1753.6,1398.5 L1754.2,1388.4 L1754.9,1413.6 L1755.5,1415.0 L1756.2,1408.7 L1756.8,1398.1 L1757.5,1398.2 L1758.1,1402.0 L1758.8,1373.1 L1759.4,1424.4 L1760.1,1413.2 L1760.7,1395.6 L1761.3,1408.9 L1762.0,1407.7 L1762.6,1387.7 L1763.3,1390.7 L1763.9,1422.0 L1764.6,1406.5 L1765.2,1402.3 L1765.9,1395.8 L1766.5,1369.5 L1767.2,1417.8 L1767.8,1398.6 L1768.5,1395.2 L1769.1,1409.8 L1769.8,1427.1 L1770.4,1424.4 L1771.0,1401.7 L1771.7,1376.5 L1772.3,1376.2 L1773.0,1390.7 L1773.6,1364.0 L1774.3,1359.0 L1774.9,1439.5 L1775.6,1420.1 L1776.2,1402.1 L1776.9,1378.8 L1777.5,1415.4 L1778.2,1373.6 L1778.8,1401.6 L1779.5,1404.2 L1780.1,1385.1 L1780.7,1375.5 L1781.4,1420.7 L1782.0,1403.8 L1782.7,1407.2 L1783.3,1397.0 L1784.0,1416.4 L1784.6,1417.2 L1785.3,1411.4 L1785.9,1390.3 L1786.6,1377.0 L1787.2,1398.3 L1787.9,1420.7 L1788.5,1405.4 L1789.2,1410.7 L1789.8,1384.2 L1790.4,1421.7 L1791.1,1418.8 L1791.7,1429.4 L1792.4,1429.2 L1793.0,1407.5 L1793.7,1406.1 L1794.3,1372.0 L1795.0,1441.9 L1795.6,1414.0 L1796.3,1426.7 L1796.9,1423.1 L1797.6,1426.4 L1798.2,1400.6 L1798.9,1449.0 L1799.5,1409.6 L1800.1,1389.5 L1800.8,1410.4 L1801.4,1403.9 L1802.1,1393.7 L1802.7,1392.7 L1803.4,1378.7 L1804.0,1414.4 L1804.7,1408.2 L1805.3,1411.4 L1806.0,1389.7 L1806.6,1415.8 L1807.3,1393.2 L1807.9,1414.8 L1808.6,1413.9 L1809.2,1406.7 L1809.8,1387.3 L1810.5,1386.9 L1811.1,1411.3 L1811.8,1411.7 L1812.4,1403.7 L1813.1,1378.2 L1813.7,1396.5 L1814.4,1395.9 L1815.0,1400.6 L1815.7,1409.7 L1816.3,1422.2 L1817.0,1410.7 L1817.6,1452.7 L1818.3,1383.7 L1818.9,1397.5 L1819.5,1390.7 L1820.2,1355.6 L1820.8,1392.0 L1821.5,1419.7 L1822.1,1403.1 L1822.8,1395.4 L1823.4,1407.7 L1824.1,1403.7 L1824.7,1418.7 L1825.4,1386.1 L1826.0,1375.6 L1826.7,1382.4 L1827.3,1418.2 L1828.0,1408.7 L1828.6,1389.8 L1829.2,1413.8 L1829.9,1400.7 L1830.5,1421.1 L1831.2,1376.1 L1831.8,1408.0 L1832.5,1372.4 L1833.1,1431.8 L1833.8,1376.8 L1834.4,1407.0 L1835.1,1404.2 L1835.7,1396.3 L1836.4,1400.8 L1837.0,1408.3 L1837.7,1427.5 L1838.3,1404.2 L1838.9,1436.4 L1839.6,1412.6 L1840.2,1390.4 L1840.9,1397.8 L1841.5,1402.5 L1842.2,1409.2 L1842.8,1386.5 L1843.5,1392.6 L1844.1,1398.0 L1844.8,1421.2 L1845.4,1432.7 L1846.1,1393.9 L1846.7,1418.6 L1847.4,1399.0 L1848.0,1416.4 L1848.6,1393.3 L1849.3,1419.1 L1849.9,1385.2 L1850.6,1406.8 L1851.2,1414.2 L1851.9,1411.5 L1852.5,1427.8 L1853.2,1386.9 L1853.8,1426.7 L1854.5,1384.3 L1855.1,1421.1 L1855.8,1398.8 L1856.4,1404.1 L1857.1,1434.7 L1857.7,1422.7 L1858.3,1418.3 L1859.0,1420.0 L1859.6,1395.3 L1860.3,1414.6 L1860.9,1409.5 L1861.6,1433.2 L1862.2,1418.4 L1862.9,1404.4 L1863.5,1406.1 L1864.2,1411.9 L1864.8,1391.7 L1865.5,1401.8 L1866.1,1406.1 L1866.8,1397.1 L1867.4,1407.5 L1868.0,1427.2 L1868.7,1409.8 L1869.3,1407.0 L1870.0,1396.3 L1870.6,1412.7 L1871.3,1414.0 L1871.9,1411.1 L1872.6,1434.4 L1873.2,1424.0 L1873.9,1435.1 L1874.5,1426.0 L1875.2,1394.6 L1875.8,1432.0 L1876.5,1380.6 L1877.1,1375.3 L1877.7,1403.8 L1878.4,1392.2 L1879.0,1398.3 L1879.7,1401.6 L1880.3,1449.8 L1881.0,1449.0 L1881.6,1408.5 L1882.3,1414.2 L1882.9,1412.0 L1883.6,1429.5 L1884.2,1408.9 L1884.9,1428.5 L1885.5,1399.9 L1886.2,1416.2 L1886.8,1417.5 L1887.4,1409.4 L1888.1,1403.8 L1888.7,1416.1 L1889.4,1422.2 L1890.0,1437.1 L1890.7,1409.3 L1891.3,1440.9 L1892.0,1441.0 L1892.6,1424.1 L1893.3,1417.0 L1893.9,1394.0 L1894.6,1405.1 L1895.2,1403.0 L1895.9,1404.6 L1896.5,1417.9 L1897.1,1408.1 L1897.8,1411.5 L1898.4,1406.1 L1899.1,1431.6 L1899.7,1439.8 L1900.4,1425.1 L1901.0,1409.0 L1901.7,1420.4 L1902.3,1397.5 L1903.0,1408.8 L1903.6,1419.0 L1904.3,1383.8 L1904.9,1378.8 L1905.6,1389.7 L1906.2,1428.2 L1906.8,1426.2 L1907.5,1393.7 L1908.1,1395.4 L1908.8,1407.2 L1909.4,1430.2 L1910.1,1435.8 L1910.7,1398.5 L1911.4,1411.9 L1912.0,1402.9 L1912.7,1410.7 L1913.3,1403.5 L1914.0,1423.2 L1914.6,1404.1 L1915.3,1404.1 L1915.9,1413.2 L1916.5,1422.0 L1917.2,1388.9 L1917.8,1404.5 L1918.5,1405.4 L1919.1,1402.2 L1919.8,1415.2 L1920.4,1415.6 L1921.1,1419.1 L1921.7,1414.9 L1922.4,1412.3 L1923.0,1417.3 L1923.7,1424.3 L1924.3,1395.4 L1925.0,1428.1 L1925.6,1417.2 L1926.2,1399.7 L1926.9,1401.4 L1927.5,1380.8 L1928.2,1417.2 L1928.8,1434.3 L1929.5,1401.6 L1930.1,1385.8 L1930.8,1413.1 L1931.4,1444.4 L1932.1,1390.3 L1932.7,1419.5 L1933.4,1392.6 L1934.0,1414.6 L1934.7,1407.1 L1935.3,1446.0 L1935.9,1402.6 L1936.6,1406.2 L1937.2,1419.1 L1937.9,1414.8 L1938.5,1410.6 L1939.2,1421.6 L1939.8,1407.1 L1940.5,1422.4 L1941.1,1414.9 L1941.8,1430.6 L1942.4,1402.8 L1943.1,1412.8 L1943.7,1434.7 L1944.4,1420.6 L1945.0,1404.9 L1945.6,1408.2 L1946.3,1406.5 L1946.9,1445.0 L1947.6,1404.6 L1948.2,1403.7 L1948.9,1393.7 L1949.5,1415.8 L1950.2,1427.7 L1950.8,1416.1 L1951.5,1395.0 L1952.1,1420.5 L1952.8,1393.6 L1953.4,1425.1 L1954.1,1396.8 L1954.7,1397.3 L1955.3,1418.9 L1956.0,1414.3 L1956.6,1426.8 L1957.3,1418.3 L1957.9,1434.9 L1958.6,1424.0 L1959.2,1437.4 L1959.9,1439.2 L1960.5,1383.4 L1961.2,1388.3 L1961.8,1405.9 L1962.5,1417.9 L1963.1,1414.3 L1963.8,1382.0 L1964.4,1421.4 L1965.0,1404.0 L1965.7,1408.1 L1966.3,1422.6 L1967.0,1427.2 L1967.6,1424.4 L1968.3,1422.3 L1968.9,1399.3 L1969.6,1401.4 L1970.2,1422.0 L1970.9,1410.5 L1971.5,1384.8 L1972.2,1423.3 L1972.8,1436.6 L1973.4,1427.1 L1974.1,1458.5 L1974.7,1434.8 L1975.4,1395.8 L1976.0,1429.3 L1976.7,1409.5 L1977.3,1399.6 L1978.0,1392.4 L1978.6,1431.5 L1979.3,1400.2 L1979.9,1423.0 L1980.6,1405.5 L1981.2,1397.9 L1981.9,1419.7 L1982.5,1396.5 L1983.1,1417.1 L1983.8,1421.5 L1984.4,1411.8 L1985.1,1393.9 L1985.7,1390.2 L1986.4,1433.5 L1987.0,1416.4 L1987.7,1414.7 L1988.3,1408.1 L1989.0,1365.7 L1989.6,1397.4 L1990.3,1406.6 L1990.9,1404.2 L1991.6,1398.2 L1992.2,1403.1 L1992.8,1388.4 L1993.5,1399.6 L1994.1,1405.7 L1994.8,1439.3 L1995.4,1394.1 L1996.1,1432.5 L1996.7,1411.3 L1997.4,1427.8 L1998.0,1399.3 L1998.7,1404.8 L1999.3,1419.3 L2000.0,1389.7 L2000.6,1421.5 L2001.3,1414.5 L2001.9,1413.5 L2002.5,1391.5 L2003.2,1427.9 L2003.8,1417.0 L2004.5,1389.9 L2005.1,1418.4 L2005.8,1419.5 L2006.4,1395.6 L2007.1,1418.8 L2007.7,1391.7 L2008.4,1418.6 L2009.0,1420.9 L2009.7,1414.6 L2010.3,1420.2 L2011.0,1378.9 L2011.6,1397.8 L2012.2,1382.5 L2012.9,1397.9 L2013.5,1394.8 L2014.2,1389.7 L2014.8,1410.7 L2015.5,1415.9 L2016.1,1413.5 L2016.8,1396.4 L2017.4,1430.0 L2018.1,1430.7 L2018.7,1422.6 L2019.4,1381.7 L2020.0,1415.8 L2020.7,1409.8 L2021.3,1407.6 L2021.9,1412.1 L2022.6,1376.4 L2023.2,1388.2 L2023.9,1430.5 L2024.5,1390.5 L2025.2,1419.0 L2025.8,1399.8 L2026.5,1387.7 L2027.1,1424.1 L2027.8,1399.4 L2028.4,1378.3 L2029.1,1401.2 L2029.7,1387.6 L2030.4,1419.8 L2031.0,1401.2 L2031.6,1414.8 L2032.3,1409.4 L2032.9,1419.9 L2033.6,1406.8 L2034.2,1418.7 L2034.9,1426.1 L2035.5,1400.1 L2036.2,1431.5 L2036.8,1383.2 L2037.5,1447.7 L2038.1,1419.7 L2038.8,1385.0 L2039.4,1452.7 L2040.1,1449.7 L2040.7,1405.1 L2041.3,1445.0 L2042.0,1404.0 L2042.6,1439.9 L2043.3,1435.3 L2043.9,1421.1 L2044.6,1401.7 L2045.2,1393.2 L2045.9,1429.2 L2046.5,1427.0 L2047.2,1411.2 L2047.8,1445.8 L2048.5,1422.1 L2049.1,1396.7 L2049.8,1415.6 L2050.4,1417.5 L2051.0,1400.7 L2051.7,1444.5 L2052.3,1444.6 L2053.0,1416.2 L2053.6,1386.6 L2054.3,1411.1 L2054.9,1419.7 L2055.6,1418.1 L2056.2,1397.9 L2056.9,1406.6 L2057.5,1423.7 L2058.2,1414.2 L2058.8,1385.9 L2059.5,1408.3 L2060.1,1394.5 L2060.7,1438.6 L2061.4,1409.7 L2062.0,1442.9 L2062.7,1424.6 L2063.3,1428.3 L2064.0,1416.5 L2064.6,1422.2 L2065.3,1447.5 L2065.9,1406.2 L2066.6,1430.8 L2067.2,1387.9 L2067.9,1432.0 L2068.5,1404.2 L2069.2,1420.1 L2069.8,1429.7 L2070.4,1449.2 L2071.1,1395.4 L2071.7,1434.4 L2072.4,1418.3 L2073.0,1417.3 L2073.7,1428.3 L2074.3,1414.8 L2075.0,1434.8 L2075.6,1426.7 L2076.3,1461.2 L2076.9,1413.6 L2077.6,1450.4 L2078.2,1437.4 L2078.9,1393.6 L2079.5,1434.9 L2080.1,1402.9 L2080.8,1425.8 L2081.4,1441.0 L2082.1,1431.0 L2082.7,1427.6 L2083.4,1417.5 L2084.0,1445.9 L2084.7,1398.5 L2085.3,1431.3 L2086.0,1452.7 L2086.6,1438.9 L2087.3,1425.1 L2087.9,1424.1 L2088.6,1444.9 L2089.2,1450.4 L2089.8,1430.0 L2090.5,1455.9 L2091.1,1423.9 L2091.8,1433.1 L2092.4,1432.0 L2093.1,1461.9 L2093.7,1453.7 L2094.4,1440.4 L2095.0,1442.5 L2095.7,1425.3 L2096.3,1411.6 L2097.0,1448.2 L2097.6,1466.7 L2098.3,1434.0 L2098.9,1425.9 L2099.5,1461.2 L2100.2,1456.1 L2100.8,1452.5 L2101.5,1429.6 L2102.1,1459.2 L2102.8,1455.8 L2103.4,1457.1 L2104.1,1448.0 L2104.7,1433.2 L2105.4,1456.8 L2106.0,1433.9 L2106.7,1442.7 L2107.3,1439.0 L2108.0,1436.4 L2108.6,1437.0 L2109.2,1469.3 L2109.9,1438.8 L2110.5,1447.5 L2111.2,1437.3 L2111.8,1446.7 L2112.5,1461.4 L2113.1,1452.4 L2113.8,1443.7 L2114.4,1437.3 L2115.1,1468.6 L2115.7,1432.7 L2116.4,1436.2 L2117.0,1406.7 L2117.7,1418.7 L2118.3,1448.8 L2118.9,1426.4 L2119.6,1425.9 L2120.2,1434.8 L2120.9,1436.8 L2121.5,1404.0 L2122.2,1423.5 L2122.8,1400.5 L2123.5,1421.6 L2124.1,1435.4 L2124.8,1433.8 L2125.4,1419.2 L2126.1,1440.0 L2126.7,1439.4 L2127.4,1412.4 L2128.0,1432.0 L2128.6,1441.1 L2129.3,1467.0 L2129.9,1431.7 L2130.6,1417.0 L2131.2,1451.8 L2131.9,1434.5 L2132.5,1444.9 L2133.2,1432.0 L2133.8,1443.0 L2134.5,1446.8 L2135.1,1448.8 L2135.8,1418.7 L2136.4,1437.9 L2137.1,1455.3 L2137.7,1451.0 L2138.3,1455.0 L2139.0,1461.9 L2139.6,1462.2 L2140.3,1442.4 L2140.9,1429.4 L2141.6,1443.3 L2142.2,1419.9 L2142.9,1464.8 L2143.5,1415.8 L2144.2,1436.0 L2144.8,1435.2 L2145.5,1444.1 L2146.1,1420.4 L2146.8,1442.7 L2147.4,1403.0 L2148.0,1480.4 L2148.7,1449.4 L2149.3,1436.0 L2150.0,1411.3 L2150.6,1437.9 L2151.3,1412.5 L2151.9,1421.8 L2152.6,1435.6 L2153.2,1421.3 L2153.9,1417.7 L2154.5,1427.9 L2155.2,1424.4 L2155.8,1430.4 L2156.5,1432.3 L2157.1,1450.4 L2157.7,1415.9 L2158.4,1447.2 L2159.0,1417.9 L2159.7,1421.6 L2160.3,1440.9 L2161.0,1417.0 L2161.6,1439.3 L2162.3,1444.2 L2162.9,1416.7 L2163.6,1422.8 L2164.2,1423.6 L2164.9,1432.4 L2165.5,1412.3 L2166.2,1405.3 L2166.8,1439.8 L2167.4,1420.7 L2168.1,1440.1 L2168.7,1436.3 L2169.4,1434.4 L2170.0,1432.0 L2170.7,1425.5 L2171.3,1469.4 L2172.0,1436.9 L2172.6,1431.2 L2173.3,1448.0 L2173.9,1441.5 L2174.6,1450.6 L2175.2,1449.5 L2175.9,1400.5 L2176.5,1466.0 L2177.1,1432.6 L2177.8,1435.9 L2178.4,1416.4 L2179.1,1420.4 L2179.7,1458.0 L2180.4,1434.0 L2181.0,1463.3 L2181.7,1445.7 L2182.3,1414.3 L2183.0,1461.1 L2183.6,1432.4 L2184.3,1439.2 L2184.9,1418.8 L2185.6,1430.3 L2186.2,1423.7 L2186.8,1447.6 L2187.5,1456.4 L2188.1,1452.9 L2188.8,1461.0 L2189.4,1460.6 L2190.1,1468.6 L2190.7,1462.8 L2191.4,1463.7 L2192.0,1446.4 L2192.7,1450.6 L2193.3,1427.5 L2194.0,1444.3 L2194.6,1440.6 L2195.3,1469.5 L2195.9,1460.9 L2196.5,1456.3 L2197.2,1430.3 L2197.8,1477.0 L2198.5,1469.1 L2199.1,1457.5 L2199.8,1460.5 L2200.4,1478.7 L2201.1,1489.7 L2201.7,1451.7 L2202.4,1457.8 L2203.0,1459.9 L2203.7,1448.7 L2204.3,1463.7 L2205.0,1489.9 L2205.6,1434.5 L2206.2,1452.4 L2206.9,1457.8 L2207.5,1458.0 L2208.2,1459.4 L2208.8,1464.2 L2209.5,1442.1 L2210.1,1453.7 L2210.8,1456.9 L2211.4,1441.2 L2212.1,1462.0 L2212.7,1456.0 L2213.4,1474.3 L2214.0,1443.5 L2214.7,1444.5 L2215.3,1438.3 L2215.9,1477.3 L2216.6,1443.0 L2217.2,1447.6 L2217.9,1455.8 L2218.5,1473.6 L2219.2,1453.3 L2219.8,1432.5 L2220.5,1432.1 L2221.1,1466.8 L2221.8,1466.8 L2222.4,1449.9 L2223.1,1443.3 L2223.7,1472.1 L2224.4,1460.8 L2225.0,1459.2 L2225.6,1448.6 L2226.3,1434.2 L2226.9,1468.9 L2227.6,1468.9 L2228.2,1426.5 L2228.9,1459.6 L2229.5,1449.0 L2230.2,1440.8 L2230.8,1456.4 L2231.5,1455.5 L2232.1,1442.8 L2232.8,1436.5 L2233.4,1448.7 L2234.1,1432.8 L2234.7,1463.5 L2235.3,1454.8 L2236.0,1453.2 L2236.6,1459.7 L2237.3,1468.5 L2237.9,1467.0 L2238.6,1463.8 L2239.2,1457.0 L2239.9,1425.2 L2240.5,1446.3 L2241.2,1452.1 L2241.8,1471.7 L2242.5,1452.7 L2243.1,1457.8 L2243.8,1460.0 L2244.4,1432.4 L2245.0,1434.4 L2245.7,1464.8 L2246.3,1445.6 L2247.0,1444.8 L2247.6,1436.1 L2248.3,1453.6 L2248.9,1426.3 L2249.6,1441.2 L2250.2,1442.7 L2250.9,1465.6 L2251.5,1437.7 L2252.2,1417.1 L2252.8,1450.1 L2253.5,1434.7 L2254.1,1444.0 L2254.7,1461.9 L2255.4,1431.2 L2256.0,1458.2 L2256.7,1469.1 L2257.3,1416.0 L2258.0,1448.1 L2258.6,1464.1 L2259.3,1446.5 L2259.9,1442.7 L2260.6,1453.2 L2261.2,1460.7 L2261.9,1464.5 L2262.5,1460.3 L2263.2,1443.5 L2263.8,1483.7 L2264.4,1460.0 L2265.1,1453.3 L2265.7,1449.8 L2266.4,1448.4 L2267.0,1440.4 L2267.7,1477.6 L2268.3,1435.4 L2269.0,1485.9 L2269.6,1441.1 L2270.3,1449.4 L2270.9,1449.1 L2271.6,1438.8 L2272.2,1438.3 L2272.9,1439.6 L2273.5,1468.4 L2274.1,1465.3 L2274.8,1453.1 L2275.4,1468.5 L2276.1,1448.4 L2276.7,1470.9 L2277.4,1445.4 L2278.0,1444.2 L2278.7,1469.1 L2279.3,1439.3 L2280.0,1441.0 L2280.6,1428.7 L2281.3,1430.9 L2281.9,1451.7 L2282.6,1438.5 L2283.2,1463.0 L2283.8,1451.7 L2284.5,1479.6 L2285.1,1466.3 L2285.8,1457.4 L2286.4,1460.2 L2287.1,1435.2 L2287.7,1464.8 L2288.4,1443.9 L2289.0,1444.7 L2289.7,1453.6 L2290.3,1439.9 L2291.0,1469.5 L2291.6,1477.3 L2292.3,1437.3 L2292.9,1465.0 L2293.5,1451.9 L2294.2,1464.9 L2294.8,1465.5 L2295.5,1477.7 L2296.1,1466.2 L2296.8,1451.1 L2297.4,1453.2 L2298.1,1460.5 L2298.7,1475.4 L2299.4,1472.9 L2300.0,1459.2 L2300.7,1465.2 L2301.3,1462.7 L2302.0,1450.5 L2302.6,1448.4 L2303.2,1476.5 L2303.9,1496.3 L2304.5,1461.2 L2305.2,1479.3 L2305.8,1438.6 L2306.5,1460.0 L2307.1,1491.1 L2307.8,1475.6 L2308.4,1464.8 L2309.1,1459.3 L2309.7,1452.9 L2310.4,1466.5 L2311.0,1465.5 L2311.7,1450.0 L2312.3,1460.2 L2312.9,1440.4 L2313.6,1443.2 L2314.2,1465.1 L2314.9,1450.1 L2315.5,1465.8 L2316.2,1457.1 L2316.8,1463.3 L2317.5,1476.1 L2318.1,1457.8 L2318.8,1446.8 L2319.4,1451.6 L2320.1,1442.2 L2320.7,1472.3 L2321.4,1473.6 L2322.0,1458.4" fill="none" stroke="#000" stroke-width="12" stroke-linejoin="bevel"/>
<path d="M668,722 L671,668 L676.4,662 L682,678 L687,700 L690.5,782 L689,812 L679,806 L675,828 L670,831 L666.5,800Z" fill="#fe0000"/>
<path d="M668,1030 L672,1000 L678,945 L688,931 L697,955 L703,1000 L704,1062 L695.5,1063.7 L677.7,1063.7 L670,1064Z" fill="#000"/>
<line x1="688.55" y1="586" x2="688.55" y2="1622" stroke="#000" stroke-opacity="0.58" stroke-width="8.7" stroke-dasharray="27.9 28.44"/>
<line x1="688.5" y1="586" x2="688.5" y2="1622" stroke="#000" stroke-width="3" stroke-dasharray="27.9 28.44"/>
<line x1="890" y1="792.4" x2="890" y2="1500" stroke="#000" stroke-width="6" stroke-dasharray="30.5 25.9"/>
<rect x="215" y="28.3" width="2113" height="1568.7" fill="none" stroke="#000" stroke-width="12"/>
<rect x="373.3" y="1559.3" width="12" height="33" fill="#000"/>
<rect x="860.3" y="1559.3" width="12" height="33" fill="#000"/>
<rect x="1347.5" y="1559.3" width="12" height="33" fill="#000"/>
<rect x="1834.6" y="1559.3" width="12" height="33" fill="#000"/>
<rect x="616.8" y="1575.3" width="12" height="17" fill="#000"/>
<rect x="1103.8" y="1575.3" width="12" height="17" fill="#000"/>
<rect x="1590.9" y="1575.3" width="12" height="17" fill="#000"/>
<rect x="2078.1" y="1575.3" width="12" height="17" fill="#000"/>
<text x="379" y="1702" font-family="Liberation Serif, Times New Roman, serif" font-size="92" text-anchor="middle" fill="#000">30</text>
<text x="864.5" y="1702" font-family="Liberation Serif, Times New Roman, serif" font-size="92" text-anchor="middle" fill="#000">45</text>
<text x="1354.5" y="1702" font-family="Liberation Serif, Times New Roman, serif" font-size="92" text-anchor="middle" fill="#000">60</text>
<text x="1840" y="1702" font-family="Liberation Serif, Times New Roman, serif" font-size="92" text-anchor="middle" fill="#000">75</text>
<text x="2329.5" y="1702" font-family="Liberation Serif, Times New Roman, serif" font-size="92" text-anchor="middle" fill="#000">90</text>
<text x="963" y="1802.6" font-family="Liberation Serif, Times New Roman, serif" font-size="128" fill="#000">2</text>
<text transform="translate(1036.5,1802.6) scale(1.1,0.905)" x="0" y="0" font-family="Liberation Serif, Times New Roman, serif" font-size="128" font-style="italic" fill="#000">θ</text>
<text x="1118.5" y="1802.6" font-family="Liberation Serif, Times New Roman, serif" font-size="127.3" fill="#000" xml:space="preserve">/ degree</text>
<text transform="translate(109,1112) rotate(-90)" font-family="Liberation Serif, Times New Roman, serif" font-size="128.5" fill="#000" xml:space="preserve">Intensity / a.u.</text>
<rect x="311.6" y="125.6" width="214.4" height="12.6" fill="#fe0000"/>
<rect x="311.6" y="238.2" width="214.4" height="12.6" fill="#000"/>
<text x="541.5" y="163" font-family="Liberation Serif, Times New Roman, serif" font-size="90" fill="#000">PdAg</text>
<text x="541.5" y="275" font-family="Liberation Serif, Times New Roman, serif" font-size="90" fill="#000">Pd</text>
<text x="704.4" y="526.5" font-family="Liberation Serif, Times New Roman, serif" font-size="92" text-anchor="middle" letter-spacing="1.5" fill="#000">(111)</text>
<text x="933.5" y="707" font-family="Liberation Serif, Times New Roman, serif" font-size="92" text-anchor="middle" letter-spacing="0" fill="#000">(200)</text>
<text x="1612" y="970.4" font-family="Liberation Serif, Times New Roman, serif" font-size="92" text-anchor="middle" letter-spacing="0" fill="#000">(220)</text>
<text x="2016.3" y="1014" font-family="Liberation Serif, Times New Roman, serif" font-size="92" text-anchor="middle" letter-spacing="0.5" fill="#000">(311)</text>
<rect x="1348" y="54" width="956" height="736" fill="#fff"/>
<path d="M1348.0,255.3 L1348.6,243.3 L1349.1,270.7 L1349.7,244.3 L1350.3,250.0 L1350.8,273.3 L1351.4,234.0 L1351.9,239.0 L1352.5,251.5 L1353.1,201.0 L1353.6,229.3 L1354.2,245.4 L1354.8,242.9 L1355.3,258.9 L1355.9,228.9 L1356.4,237.4 L1357.0,268.8 L1357.6,278.4 L1358.1,234.3 L1358.7,261.5 L1359.3,233.8 L1359.8,236.4 L1360.4,236.7 L1360.9,245.2 L1361.5,271.1 L1362.1,266.6 L1362.6,255.1 L1363.2,247.6 L1363.8,254.4 L1364.3,252.5 L1364.9,269.5 L1365.4,242.8 L1366.0,254.7 L1366.6,253.0 L1367.1,254.0 L1367.7,260.0 L1368.3,259.1 L1368.8,281.7 L1369.4,253.6 L1369.9,286.7 L1370.5,249.3 L1371.1,245.8 L1371.6,257.6 L1372.2,262.8 L1372.8,261.1 L1373.3,282.0 L1373.9,278.9 L1374.4,265.8 L1375.0,248.8 L1375.6,253.6 L1376.1,284.7 L1376.7,260.2 L1377.3,228.3 L1377.8,241.1 L1378.4,243.4 L1378.9,279.6 L1379.5,253.0 L1380.1,288.4 L1380.6,269.0 L1381.2,257.6 L1381.8,245.6 L1382.3,275.5 L1382.9,291.0 L1383.4,236.8 L1384.0,266.5 L1384.6,254.4 L1385.1,279.6 L1385.7,252.2 L1386.3,215.7 L1386.8,270.5 L1387.4,214.7 L1388.0,286.4 L1388.5,290.5 L1389.1,243.4 L1389.6,227.3 L1390.2,222.1 L1390.8,271.2 L1391.3,247.8 L1391.9,239.1 L1392.5,246.7 L1393.0,213.5 L1393.6,259.4 L1394.1,268.0 L1394.7,268.7 L1395.3,274.0 L1395.8,274.9 L1396.4,236.3 L1397.0,247.1 L1397.5,235.3 L1398.1,236.4 L1398.6,277.1 L1399.2,241.3 L1399.8,250.7 L1400.3,237.4 L1400.9,239.8 L1401.5,270.4 L1402.0,243.5 L1402.6,242.9 L1403.1,264.7 L1403.7,265.1 L1404.3,271.9 L1404.8,258.3 L1405.4,228.8 L1406.0,269.0 L1406.5,266.3 L1407.1,278.1 L1407.6,236.5 L1408.2,278.9 L1408.8,228.1 L1409.3,272.3 L1409.9,257.1 L1410.5,245.2 L1411.0,274.6 L1411.6,250.0 L1412.1,234.2 L1412.7,230.4 L1413.3,266.6 L1413.8,285.9 L1414.4,223.7 L1415.0,255.9 L1415.5,288.1 L1416.1,269.4 L1416.6,247.8 L1417.2,224.8 L1417.8,224.0 L1418.3,239.2 L1418.9,247.3 L1419.5,219.9 L1420.0,218.1 L1420.6,261.2 L1421.1,245.5 L1421.7,237.9 L1422.3,245.3 L1422.8,293.6 L1423.4,274.2 L1424.0,289.7 L1424.5,293.3 L1425.1,269.9 L1425.7,270.9 L1426.2,286.8 L1426.8,210.0 L1427.3,287.3 L1427.9,282.0 L1428.5,241.9 L1429.0,220.9 L1429.6,275.3 L1430.2,254.2 L1430.7,255.2 L1431.3,237.1 L1431.8,232.2 L1432.4,287.9 L1433.0,267.4 L1433.5,233.8 L1434.1,266.2 L1434.7,264.5 L1435.2,269.4 L1435.8,286.4 L1436.3,257.2 L1436.9,229.7 L1437.5,258.7 L1438.0,243.6 L1438.6,269.8 L1439.2,262.1 L1439.7,264.9 L1440.3,244.5 L1440.8,265.8 L1441.4,245.4 L1442.0,267.7 L1442.5,249.6 L1443.1,231.6 L1443.7,266.7 L1444.2,240.4 L1444.8,286.7 L1445.3,265.0 L1445.9,265.3 L1446.5,257.4 L1447.0,253.8 L1447.6,228.5 L1448.2,280.9 L1448.7,237.7 L1449.3,275.1 L1449.8,241.3 L1450.4,251.7 L1451.0,250.0 L1451.5,232.6 L1452.1,251.0 L1452.7,264.8 L1453.2,245.7 L1453.8,227.3 L1454.3,242.1 L1454.9,259.9 L1455.5,279.2 L1456.0,272.5 L1456.6,260.7 L1457.2,233.1 L1457.7,274.2 L1458.3,255.2 L1458.8,249.7 L1459.4,274.5 L1460.0,268.3 L1460.5,220.0 L1461.1,230.8 L1461.7,242.7 L1462.2,219.7 L1462.8,260.5 L1463.4,257.4 L1463.9,277.0 L1464.5,262.3 L1465.0,250.5 L1465.6,286.1 L1466.2,237.5 L1466.7,231.4 L1467.3,247.2 L1467.9,271.5 L1468.4,253.4 L1469.0,251.8 L1469.5,237.7 L1470.1,292.7 L1470.7,307.0 L1471.2,239.3 L1471.8,259.8 L1472.4,245.6 L1472.9,258.0 L1473.5,291.4 L1474.0,253.8 L1474.6,262.3 L1475.2,255.6 L1475.7,259.4 L1476.3,280.9 L1476.9,274.6 L1477.4,255.9 L1478.0,243.1 L1478.5,259.8 L1479.1,280.2 L1479.7,261.8 L1480.2,259.3 L1480.8,238.7 L1481.4,283.0 L1481.9,241.3 L1482.5,234.3 L1483.0,253.5 L1483.6,262.2 L1484.2,262.4 L1484.7,245.2 L1485.3,254.7 L1485.9,248.5 L1486.4,236.1 L1487.0,255.9 L1487.5,246.7 L1488.1,270.3 L1488.7,258.5 L1489.2,281.9 L1489.8,226.0 L1490.4,280.7 L1490.9,287.3 L1491.5,276.7 L1492.0,259.0 L1492.6,290.5 L1493.2,243.7 L1493.7,262.3 L1494.3,280.8 L1494.9,257.5 L1495.4,278.2 L1496.0,300.5 L1496.5,252.8 L1497.1,275.4 L1497.7,279.0 L1498.2,289.2 L1498.8,263.2 L1499.4,271.0 L1499.9,278.0 L1500.5,274.8 L1501.1,238.0 L1501.6,253.3 L1502.2,295.6 L1502.7,239.3 L1503.3,278.7 L1503.9,256.5 L1504.4,286.6 L1505.0,248.9 L1505.6,266.3 L1506.1,243.4 L1506.7,264.2 L1507.2,287.8 L1507.8,242.2 L1508.4,289.9 L1508.9,249.3 L1509.5,263.2 L1510.1,243.9 L1510.6,286.9 L1511.2,244.9 L1511.7,251.9 L1512.3,235.8 L1512.9,241.6 L1513.4,286.9 L1514.0,251.3 L1514.6,281.0 L1515.1,257.8 L1515.7,268.6 L1516.2,250.1 L1516.8,269.8 L1517.4,286.5 L1517.9,274.0 L1518.5,270.6 L1519.1,249.5 L1519.6,281.0 L1520.2,288.2 L1520.7,225.7 L1521.3,229.4 L1521.9,286.4 L1522.4,267.7 L1523.0,261.2 L1523.6,270.4 L1524.1,281.8 L1524.7,275.4 L1525.2,253.4 L1525.8,293.0 L1526.4,258.4 L1526.9,239.2 L1527.5,246.0 L1528.1,255.1 L1528.6,249.7 L1529.2,253.8 L1529.7,264.6 L1530.3,224.7 L1530.9,240.7 L1531.4,293.6 L1532.0,269.7 L1532.6,242.6 L1533.1,243.7 L1533.7,281.9 L1534.2,251.6 L1534.8,245.3 L1535.4,282.7 L1535.9,248.5 L1536.5,271.2 L1537.1,255.2 L1537.6,257.1 L1538.2,235.5 L1538.7,237.9 L1539.3,282.5 L1539.9,231.0 L1540.4,261.1 L1541.0,229.6 L1541.6,249.8 L1542.1,254.0 L1542.7,220.1 L1543.3,278.6 L1543.8,250.6 L1544.4,280.1 L1544.9,219.0 L1545.5,273.6 L1546.1,283.8 L1546.6,259.0 L1547.2,241.0 L1547.8,264.6 L1548.3,257.7 L1548.9,250.5 L1549.4,252.5 L1550.0,243.1 L1550.6,264.1 L1551.1,247.5 L1551.7,238.1 L1552.3,272.8 L1552.8,252.9 L1553.4,286.5 L1553.9,251.7 L1554.5,242.3 L1555.1,246.0 L1555.6,265.1 L1556.2,243.5 L1556.8,232.2 L1557.3,282.4 L1557.9,233.2 L1558.4,289.4 L1559.0,261.7 L1559.6,237.4 L1560.1,289.0 L1560.7,255.1 L1561.3,238.9 L1561.8,260.8 L1562.4,285.6 L1562.9,273.5 L1563.5,276.4 L1564.1,291.6 L1564.6,264.1 L1565.2,267.3 L1565.8,255.2 L1566.3,230.5 L1566.9,256.8 L1567.4,291.9 L1568.0,229.8 L1568.6,286.3 L1569.1,264.6 L1569.7,241.3 L1570.3,260.6 L1570.8,290.4 L1571.4,247.8 L1571.9,274.7 L1572.5,281.3 L1573.1,241.2 L1573.6,271.2 L1574.2,269.2 L1574.8,249.3 L1575.3,271.7 L1575.9,251.2 L1576.4,246.8 L1577.0,234.0 L1577.6,265.1 L1578.1,249.2 L1578.7,246.5 L1579.3,235.1 L1579.8,230.8 L1580.4,241.6 L1581.0,270.0 L1581.5,240.8 L1582.1,282.7 L1582.6,263.0 L1583.2,258.1 L1583.8,232.9 L1584.3,283.2 L1584.9,228.2 L1585.5,263.5 L1586.0,283.9 L1586.6,249.7 L1587.1,240.8 L1587.7,252.1 L1588.3,268.0 L1588.8,275.2 L1589.4,261.7 L1590.0,232.5 L1590.5,239.0 L1591.1,253.5 L1591.6,228.2 L1592.2,245.2 L1592.8,270.3 L1593.3,230.9 L1593.9,266.9 L1594.5,232.2 L1595.0,241.5 L1595.6,245.4 L1596.1,222.0 L1596.7,243.9 L1597.3,265.7 L1597.8,256.1 L1598.4,255.3 L1599.0,231.7 L1599.5,241.6 L1600.1,246.8 L1600.6,253.9 L1601.2,257.9 L1601.8,228.2 L1602.3,254.1 L1602.9,239.0 L1603.5,239.6 L1604.0,225.4 L1604.6,242.7 L1605.1,240.6 L1605.7,225.8 L1606.3,240.2 L1606.8,246.8 L1607.4,239.2 L1608.0,257.6 L1608.5,231.0 L1609.1,260.4 L1609.6,244.8 L1610.2,253.9 L1610.8,233.6 L1611.3,251.6 L1611.9,249.4 L1612.5,265.6 L1613.0,233.3 L1613.6,273.8 L1614.1,236.0 L1614.7,274.8 L1615.3,263.8 L1615.8,243.0 L1616.4,272.0 L1617.0,236.9 L1617.5,254.3 L1618.1,261.3 L1618.7,267.3 L1619.2,263.0 L1619.8,273.5 L1620.3,268.4 L1620.9,261.6 L1621.5,245.2 L1622.0,256.1 L1622.6,279.2 L1623.2,242.2 L1623.7,266.2 L1624.3,242.1 L1624.8,252.2 L1625.4,234.9 L1626.0,290.4 L1626.5,235.2 L1627.1,262.8 L1627.7,282.4 L1628.2,280.7 L1628.8,284.6 L1629.3,291.1 L1629.9,279.6 L1630.5,287.6 L1631.0,269.6 L1631.6,270.6 L1632.2,235.7 L1632.7,275.5 L1633.3,299.6 L1633.8,256.3 L1634.4,247.3 L1635.0,275.2 L1635.5,298.7 L1636.1,300.8 L1636.7,240.4 L1637.2,284.5 L1637.8,259.7 L1638.3,281.2 L1638.9,239.8 L1639.5,296.7 L1640.0,266.4 L1640.6,280.6 L1641.2,271.9 L1641.7,252.1 L1642.3,288.9 L1642.8,265.3 L1643.4,260.6 L1644.0,292.7 L1644.5,275.2 L1645.1,260.7 L1645.7,299.8 L1646.2,318.8 L1646.8,276.9 L1647.3,295.3 L1647.9,300.4 L1648.5,306.6 L1649.0,317.6 L1649.6,279.1 L1650.2,259.0 L1650.7,317.4 L1651.3,311.3 L1651.8,271.0 L1652.4,294.8 L1653.0,269.1 L1653.5,241.1 L1654.1,302.6 L1654.7,286.2 L1655.2,280.9 L1655.8,316.3 L1656.4,311.5 L1656.9,262.9 L1657.5,252.0 L1658.0,244.2 L1658.6,278.0 L1659.2,269.0 L1659.7,286.3 L1660.3,278.2 L1660.9,263.0 L1661.4,268.8 L1662.0,242.8 L1662.5,305.8 L1663.1,266.3 L1663.7,292.0 L1664.2,263.8 L1664.8,280.1 L1665.4,292.5 L1665.9,272.8 L1666.5,261.3 L1667.0,312.5 L1667.6,275.1 L1668.2,291.6 L1668.7,278.1 L1669.3,263.9 L1669.9,307.5 L1670.4,288.6 L1671.0,287.8 L1671.5,247.2 L1672.1,287.2 L1672.7,298.5 L1673.2,287.7 L1673.8,279.5 L1674.4,306.1 L1674.9,287.9 L1675.5,294.6 L1676.0,303.6 L1676.6,303.2 L1677.2,259.8 L1677.7,291.2 L1678.3,271.1 L1678.9,259.2 L1679.4,291.0 L1680.0,262.3 L1680.5,277.9 L1681.1,259.8 L1681.7,268.5 L1682.2,278.6 L1682.8,316.0 L1683.4,277.6 L1683.9,271.0 L1684.5,271.4 L1685.0,313.7 L1685.6,278.9 L1686.2,285.2 L1686.7,306.7 L1687.3,270.4 L1687.9,269.8 L1688.4,268.8 L1689.0,279.1 L1689.5,266.3 L1690.1,284.2 L1690.7,283.1 L1691.2,263.2 L1691.8,286.3 L1692.4,260.1 L1692.9,293.9 L1693.5,285.8 L1694.1,304.3 L1694.6,294.2 L1695.2,277.5 L1695.7,285.5 L1696.3,282.0 L1696.9,267.8 L1697.4,256.4 L1698.0,295.1 L1698.6,300.9 L1699.1,270.4 L1699.7,273.1 L1700.2,269.4 L1700.8,291.4 L1701.4,294.1 L1701.9,262.8 L1702.5,270.5 L1703.1,267.4 L1703.6,278.4 L1704.2,286.5 L1704.7,290.9 L1705.3,247.8 L1705.9,260.2 L1706.4,283.1 L1707.0,284.0 L1707.6,269.9 L1708.1,277.9 L1708.7,281.1 L1709.2,289.5 L1709.8,277.2 L1710.4,284.1 L1710.9,279.7 L1711.5,261.7 L1712.1,289.1 L1712.6,279.8 L1713.2,296.1 L1713.7,259.4 L1714.3,267.8 L1714.9,285.6 L1715.4,266.0 L1716.0,278.7 L1716.6,273.7 L1717.1,274.6 L1717.7,277.7 L1718.2,264.5 L1718.8,283.5 L1719.4,284.4 L1719.9,302.0 L1720.5,309.3 L1721.1,290.0 L1721.6,300.5 L1722.2,257.4 L1722.7,294.0 L1723.3,304.3 L1723.9,300.1 L1724.4,288.3 L1725.0,277.2 L1725.6,276.9 L1726.1,284.1 L1726.7,291.8 L1727.2,294.6 L1727.8,282.0 L1728.4,259.6 L1728.9,319.8 L1729.5,267.5 L1730.1,245.7 L1730.6,313.7 L1731.2,306.0 L1731.8,242.0 L1732.3,306.3 L1732.9,296.0 L1733.4,270.2 L1734.0,290.3 L1734.6,262.5 L1735.1,275.2 L1735.7,271.0 L1736.3,293.3 L1736.8,313.3 L1737.4,277.2 L1737.9,301.7 L1738.5,266.5 L1739.1,269.5 L1739.6,305.4 L1740.2,315.4 L1740.8,315.7 L1741.3,319.1 L1741.9,259.7 L1742.4,284.4 L1743.0,260.9 L1743.6,293.1 L1744.1,302.1 L1744.7,289.4 L1745.3,276.4 L1745.8,307.2 L1746.4,309.7 L1746.9,300.9 L1747.5,284.5 L1748.1,299.2 L1748.6,300.3 L1749.2,260.4 L1749.8,338.0 L1750.3,298.3 L1750.9,266.9 L1751.4,293.1 L1752.0,307.6 L1752.6,289.8 L1753.1,304.4 L1753.7,284.7 L1754.3,329.2 L1754.8,308.7 L1755.4,303.0 L1755.9,316.5 L1756.5,316.8 L1757.1,302.2 L1757.6,322.0 L1758.2,314.6 L1758.8,305.1 L1759.3,300.6 L1759.9,276.7 L1760.4,304.8 L1761.0,304.5 L1761.6,282.9 L1762.1,329.9 L1762.7,300.7 L1763.3,277.9 L1763.8,291.9 L1764.4,299.9 L1764.9,300.0 L1765.5,284.3 L1766.1,301.4 L1766.6,270.1 L1767.2,291.6 L1767.8,309.5 L1768.3,286.5 L1768.9,313.7 L1769.5,316.7 L1770.0,288.0 L1770.6,271.7 L1771.1,317.8 L1771.7,327.0 L1772.3,267.6 L1772.8,303.7 L1773.4,305.9 L1774.0,268.1 L1774.5,288.4 L1775.1,323.9 L1775.6,303.4 L1776.2,299.2 L1776.8,321.7 L1777.3,287.1 L1777.9,272.2 L1778.5,325.0 L1779.0,283.0 L1779.6,298.1 L1780.1,321.0 L1780.7,303.5 L1781.3,301.2 L1781.8,285.9 L1782.4,309.1 L1783.0,318.6 L1783.5,286.2 L1784.1,275.4 L1784.6,303.3 L1785.2,282.8 L1785.8,299.6 L1786.3,297.5 L1786.9,306.8 L1787.5,300.9 L1788.0,303.1 L1788.6,322.2 L1789.1,277.3 L1789.7,297.6 L1790.3,303.1 L1790.8,272.1 L1791.4,277.5 L1792.0,289.8 L1792.5,285.7 L1793.1,319.0 L1793.6,299.1 L1794.2,323.4 L1794.8,288.8 L1795.3,290.1 L1795.9,325.0 L1796.5,285.1 L1797.0,328.8 L1797.6,265.3 L1798.1,283.2 L1798.7,324.3 L1799.3,328.1 L1799.8,305.5 L1800.4,283.7 L1801.0,293.7 L1801.5,311.7 L1802.1,302.7 L1802.6,315.1 L1803.2,282.8 L1803.8,312.8 L1804.3,321.5 L1804.9,326.8 L1805.5,310.9 L1806.0,310.6 L1806.6,281.5 L1807.2,260.4 L1807.7,263.9 L1808.3,306.2 L1808.8,332.6 L1809.4,295.9 L1810.0,264.2 L1810.5,331.4 L1811.1,294.1 L1811.7,291.1 L1812.2,329.9 L1812.8,320.4 L1813.3,324.9 L1813.9,283.9 L1814.5,304.6 L1815.0,278.6 L1815.6,318.5 L1816.2,278.6 L1816.7,320.6 L1817.3,302.9 L1817.8,302.6 L1818.4,273.6 L1819.0,311.0 L1819.5,277.6 L1820.1,277.5 L1820.7,283.0 L1821.2,311.2 L1821.8,301.2 L1822.3,288.0 L1822.9,308.6 L1823.5,312.4 L1824.0,297.5 L1824.6,282.5 L1825.2,281.9 L1825.7,299.9 L1826.3,318.3 L1826.8,299.1 L1827.4,297.7 L1828.0,285.6 L1828.5,283.5 L1829.1,319.4 L1829.7,308.3 L1830.2,309.6 L1830.8,281.0 L1831.3,312.2 L1831.9,308.5 L1832.5,327.5 L1833.0,320.3 L1833.6,299.9 L1834.2,308.8 L1834.7,308.6 L1835.3,301.9 L1835.8,289.8 L1836.4,317.2 L1837.0,321.9 L1837.5,301.5 L1838.1,328.5 L1838.7,297.8 L1839.2,297.4 L1839.8,302.4 L1840.3,298.2 L1840.9,318.4 L1841.5,321.6 L1842.0,273.3 L1842.6,316.5 L1843.2,267.0 L1843.7,324.3 L1844.3,289.3 L1844.8,306.1 L1845.4,324.1 L1846.0,319.1 L1846.5,329.9 L1847.1,291.8 L1847.7,293.8 L1848.2,315.2 L1848.8,282.6 L1849.4,313.5 L1849.9,322.1 L1850.5,312.6 L1851.0,284.1 L1851.6,297.6 L1852.2,302.3 L1852.7,315.3 L1853.3,312.6 L1853.9,301.0 L1854.4,287.9 L1855.0,285.8 L1855.5,291.1 L1856.1,290.6 L1856.7,297.7 L1857.2,289.8 L1857.8,306.3 L1858.4,298.2 L1858.9,282.0 L1859.5,309.2 L1860.0,320.1 L1860.6,292.0 L1861.2,293.4 L1861.7,289.3 L1862.3,311.5 L1862.9,323.5 L1863.4,331.6 L1864.0,313.4 L1864.5,307.9 L1865.1,324.5 L1865.7,309.9 L1866.2,292.1 L1866.8,325.1 L1867.4,303.3 L1867.9,283.4 L1868.5,308.0 L1869.0,296.0 L1869.6,311.1 L1870.2,298.2 L1870.7,305.9 L1871.3,300.5 L1871.9,309.9 L1872.4,323.3 L1873.0,316.9 L1873.5,312.1 L1874.1,331.9 L1874.7,285.4 L1875.2,314.9 L1875.8,334.3 L1876.4,322.2 L1876.9,333.2 L1877.5,292.5 L1878.0,333.6 L1878.6,296.7 L1879.2,333.5 L1879.7,315.9 L1880.3,328.2 L1880.9,294.9 L1881.4,306.5 L1882.0,267.0 L1882.5,318.4 L1883.1,326.4 L1883.7,318.9 L1884.2,334.7 L1884.8,324.2 L1885.4,314.6 L1885.9,323.5 L1886.5,301.0 L1887.1,331.5 L1887.6,318.5 L1888.2,320.0 L1888.7,310.8 L1889.3,302.1 L1889.9,295.0 L1890.4,309.5 L1891.0,330.5 L1891.6,287.7 L1892.1,319.3 L1892.7,337.7 L1893.2,322.3 L1893.8,315.1 L1894.4,326.5 L1894.9,315.9 L1895.5,321.1 L1896.1,322.4 L1896.6,298.8 L1897.2,344.0 L1897.7,360.0 L1898.3,342.5 L1898.9,323.0 L1899.4,341.7 L1900.0,283.0 L1900.6,349.5 L1901.1,343.8 L1901.7,347.5 L1902.2,318.8 L1902.8,288.3 L1903.4,313.5 L1903.9,330.4 L1904.5,322.5 L1905.1,308.0 L1905.6,304.1 L1906.2,294.1 L1906.7,309.6 L1907.3,331.5 L1907.9,332.1 L1908.4,331.7 L1909.0,314.9 L1909.6,322.8 L1910.1,318.9 L1910.7,328.1 L1911.2,325.6 L1911.8,332.5 L1912.4,317.7 L1912.9,319.0 L1913.5,349.0 L1914.1,347.0 L1914.6,294.9 L1915.2,328.1 L1915.7,328.0 L1916.3,337.7 L1916.9,294.4 L1917.4,286.6 L1918.0,311.4 L1918.6,362.3 L1919.1,296.9 L1919.7,341.4 L1920.2,339.2 L1920.8,331.6 L1921.4,335.0 L1921.9,295.6 L1922.5,315.1 L1923.1,292.7 L1923.6,336.3 L1924.2,339.2 L1924.8,324.1 L1925.3,296.2 L1925.9,316.0 L1926.4,333.7 L1927.0,290.2 L1927.6,318.3 L1928.1,327.6 L1928.7,298.1 L1929.3,301.8 L1929.8,335.9 L1930.4,327.3 L1930.9,340.1 L1931.5,317.2 L1932.1,292.6 L1932.6,310.6 L1933.2,299.1 L1933.8,306.2 L1934.3,320.7 L1934.9,340.9 L1935.4,314.0 L1936.0,334.6 L1936.6,284.6 L1937.1,306.7 L1937.7,310.9 L1938.3,286.9 L1938.8,278.0 L1939.4,303.2 L1939.9,311.9 L1940.5,318.0 L1941.1,310.9 L1941.6,303.3 L1942.2,282.4 L1942.8,309.9 L1943.3,340.3 L1943.9,317.6 L1944.4,295.2 L1945.0,311.4 L1945.6,317.1 L1946.1,333.3 L1946.7,297.9 L1947.3,318.5 L1947.8,319.7 L1948.4,302.6 L1948.9,306.7 L1949.5,300.3 L1950.1,309.9 L1950.6,313.9 L1951.2,284.5 L1951.8,305.9 L1952.3,339.2 L1952.9,308.6 L1953.4,283.3 L1954.0,338.0 L1954.6,304.3 L1955.1,312.4 L1955.7,319.7 L1956.3,301.1 L1956.8,288.6 L1957.4,294.4 L1957.9,314.6 L1958.5,309.0 L1959.1,303.5 L1959.6,341.7 L1960.2,314.5 L1960.8,329.0 L1961.3,331.6 L1961.9,312.4 L1962.5,301.5 L1963.0,304.5 L1963.6,312.3 L1964.1,334.1 L1964.7,331.8 L1965.3,305.8 L1965.8,298.5 L1966.4,325.7 L1967.0,336.3 L1967.5,298.3 L1968.1,343.4 L1968.6,317.3 L1969.2,311.0 L1969.8,305.7 L1970.3,297.0 L1970.9,301.4 L1971.5,336.9 L1972.0,282.0 L1972.6,302.2 L1973.1,310.4 L1973.7,287.6 L1974.3,301.3 L1974.8,281.9 L1975.4,324.6 L1976.0,325.1 L1976.5,282.8 L1977.1,341.2 L1977.6,290.6 L1978.2,280.8 L1978.8,281.4 L1979.3,321.3 L1979.9,286.6 L1980.5,309.6 L1981.0,316.7 L1981.6,332.5 L1982.1,304.9 L1982.7,336.5 L1983.3,303.5 L1983.8,331.4 L1984.4,291.7 L1985.0,318.7 L1985.5,305.9 L1986.1,316.4 L1986.6,345.7 L1987.2,312.8 L1987.8,314.0 L1988.3,315.9 L1988.9,320.2 L1989.5,286.3 L1990.0,329.0 L1990.6,285.5 L1991.1,279.7 L1991.7,316.1 L1992.3,288.5 L1992.8,319.1 L1993.4,337.2 L1994.0,315.0 L1994.5,294.1 L1995.1,317.0 L1995.6,340.8 L1996.2,316.7 L1996.8,340.6 L1997.3,345.4 L1997.9,291.9 L1998.5,334.3 L1999.0,289.7 L1999.6,327.9 L2000.2,328.1 L2000.7,349.7 L2001.3,285.7 L2001.8,310.1 L2002.4,311.0 L2003.0,327.2 L2003.5,316.6 L2004.1,328.3 L2004.7,312.1 L2005.2,286.7 L2005.8,318.0 L2006.3,346.4 L2006.9,302.1 L2007.5,298.9 L2008.0,296.1 L2008.6,344.2 L2009.2,298.6 L2009.7,340.8 L2010.3,323.0 L2010.8,317.4 L2011.4,321.6 L2012.0,339.7 L2012.5,344.0 L2013.1,330.8 L2013.7,311.7 L2014.2,344.2 L2014.8,334.7 L2015.3,323.0 L2015.9,331.2 L2016.5,305.3 L2017.0,335.9 L2017.6,315.4 L2018.2,316.2 L2018.7,297.4 L2019.3,323.0 L2019.8,329.6 L2020.4,291.0 L2021.0,327.3 L2021.5,329.7 L2022.1,347.0 L2022.7,343.3 L2023.2,308.1 L2023.8,344.4 L2024.3,329.7 L2024.9,314.8 L2025.5,303.4 L2026.0,336.7 L2026.6,335.2 L2027.2,309.5 L2027.7,325.2 L2028.3,310.8 L2028.8,303.8 L2029.4,301.2 L2030.0,331.9 L2030.5,267.0 L2031.1,327.3 L2031.7,324.7 L2032.2,321.6 L2032.8,338.5 L2033.3,289.1 L2033.9,336.5 L2034.5,299.2 L2035.0,317.5 L2035.6,323.9 L2036.2,360.0 L2036.7,331.0 L2037.3,306.2 L2037.9,354.9 L2038.4,344.2 L2039.0,334.1 L2039.5,338.0 L2040.1,317.8 L2040.7,300.4 L2041.2,297.3 L2041.8,334.1 L2042.4,303.8 L2042.9,353.3 L2043.5,332.9 L2044.0,308.5 L2044.6,315.5 L2045.2,297.1 L2045.7,322.9 L2046.3,331.4 L2046.9,345.3 L2047.4,303.1 L2048.0,342.5 L2048.5,328.2 L2049.1,323.1 L2049.7,325.0 L2050.2,330.3 L2050.8,344.8 L2051.4,347.4 L2051.9,337.1 L2052.5,313.5 L2053.0,321.3 L2053.6,337.8 L2054.2,330.1 L2054.7,313.7 L2055.3,344.2 L2055.9,344.1 L2056.4,332.6 L2057.0,320.6 L2057.5,325.6 L2058.1,312.1 L2058.7,310.1 L2059.2,330.5 L2059.8,323.2 L2060.4,338.5 L2060.9,344.3 L2061.5,333.0 L2062.0,327.1 L2062.6,329.3 L2063.2,332.9 L2063.7,346.0 L2064.3,329.7 L2064.9,338.2 L2065.4,314.2 L2066.0,315.3 L2066.5,324.5 L2067.1,338.3 L2067.7,315.0 L2068.2,342.2 L2068.8,314.3 L2069.4,327.7 L2069.9,324.5 L2070.5,336.3 L2071.0,312.2 L2071.6,312.6 L2072.2,319.4 L2072.7,331.2 L2073.3,330.0 L2073.9,305.4 L2074.4,310.0 L2075.0,303.2 L2075.6,333.3 L2076.1,322.9 L2076.7,324.8 L2077.2,295.0 L2077.8,318.1 L2078.4,311.5 L2078.9,326.1 L2079.5,292.6 L2080.1,330.7 L2080.6,320.9 L2081.2,319.6 L2081.7,295.7 L2082.3,327.8 L2082.9,313.9 L2083.4,314.2 L2084.0,310.1 L2084.6,305.5 L2085.1,311.1 L2085.7,310.7 L2086.2,322.7 L2086.8,315.1 L2087.4,297.8 L2087.9,309.8 L2088.5,320.0 L2089.1,297.9 L2089.6,305.1 L2090.2,321.4 L2090.7,311.9 L2091.3,298.6 L2091.9,313.6 L2092.4,318.4 L2093.0,314.6 L2093.6,307.3 L2094.1,324.0 L2094.7,285.1 L2095.2,308.8 L2095.8,312.8 L2096.4,290.9 L2096.9,292.6 L2097.5,293.1 L2098.1,304.8 L2098.6,301.2 L2099.2,309.9 L2099.7,319.8 L2100.3,293.4 L2100.9,303.3 L2101.4,307.5 L2102.0,282.1 L2102.6,297.9 L2103.1,276.4 L2103.7,289.0 L2104.2,286.6 L2104.8,315.1 L2105.4,290.9 L2105.9,290.1 L2106.5,309.6 L2107.1,296.9 L2107.6,279.7 L2108.2,314.1 L2108.7,312.4 L2109.3,294.1 L2109.9,275.7 L2110.4,288.8 L2111.0,285.6 L2111.6,320.4 L2112.1,288.5 L2112.7,309.1 L2113.3,315.7 L2113.8,303.0 L2114.4,303.5 L2114.9,316.7 L2115.5,310.4 L2116.1,278.9 L2116.6,314.2 L2117.2,277.5 L2117.8,276.5 L2118.3,312.1 L2118.9,278.7 L2119.4,316.2 L2120.0,326.1 L2120.6,300.3 L2121.1,286.8 L2121.7,326.5 L2122.3,291.8 L2122.8,288.2 L2123.4,290.4 L2123.9,298.9 L2124.5,297.6 L2125.1,331.0 L2125.6,295.0 L2126.2,295.1 L2126.8,294.6 L2127.3,302.8 L2127.9,332.2 L2128.4,295.3 L2129.0,333.7 L2129.6,320.2 L2130.1,306.4 L2130.7,307.2 L2131.3,305.6 L2131.8,315.9 L2132.4,301.0 L2132.9,331.1 L2133.5,297.9 L2134.1,324.4 L2134.6,326.1 L2135.2,311.9 L2135.8,306.9 L2136.3,328.2 L2136.9,297.6 L2137.4,307.6 L2138.0,298.4 L2138.6,314.2 L2139.1,297.6 L2139.7,301.1 L2140.3,319.3 L2140.8,309.4 L2141.4,313.0 L2141.9,332.2 L2142.5,289.6 L2143.1,301.1 L2143.6,309.5 L2144.2,329.4 L2144.8,293.7 L2145.3,307.5 L2145.9,317.1 L2146.4,293.8 L2147.0,303.2 L2147.6,285.6 L2148.1,302.4 L2148.7,319.2 L2149.3,324.3 L2149.8,305.4 L2150.4,322.0 L2150.9,319.4 L2151.5,313.1 L2152.1,302.5 L2152.6,339.4 L2153.2,298.1 L2153.8,319.8 L2154.3,329.9 L2154.9,300.0 L2155.5,307.8 L2156.0,296.4 L2156.6,316.8 L2157.1,331.0 L2157.7,310.4 L2158.3,323.6 L2158.8,335.0 L2159.4,312.0 L2160.0,320.0 L2160.5,308.1 L2161.1,334.5 L2161.6,322.0 L2162.2,351.5 L2162.8,348.3 L2163.3,305.7 L2163.9,331.8 L2164.5,332.6 L2165.0,332.0 L2165.6,335.9 L2166.1,326.1 L2166.7,346.5 L2167.3,341.5 L2167.8,337.5 L2168.4,320.9 L2169.0,350.3 L2169.5,306.6 L2170.1,348.1 L2170.6,341.1 L2171.2,316.2 L2171.8,338.4 L2172.3,360.1 L2172.9,331.6 L2173.5,320.6 L2174.0,334.3 L2174.6,341.3 L2175.1,361.5 L2175.7,328.2 L2176.3,300.5 L2176.8,335.2 L2177.4,352.7 L2178.0,339.1 L2178.5,315.2 L2179.1,344.7 L2179.6,351.4 L2180.2,329.1 L2180.8,306.2 L2181.3,317.2 L2181.9,362.3 L2182.5,344.6 L2183.0,324.4 L2183.6,350.1 L2184.1,324.6 L2184.7,310.4 L2185.3,340.9 L2185.8,322.1 L2186.4,355.8 L2187.0,352.1 L2187.5,326.8 L2188.1,323.1 L2188.6,337.3 L2189.2,352.9 L2189.8,335.7 L2190.3,331.3 L2190.9,351.9 L2191.5,344.8 L2192.0,321.9 L2192.6,322.2 L2193.2,311.2 L2193.7,329.2 L2194.3,326.8 L2194.8,341.8 L2195.4,321.5 L2196.0,326.0 L2196.5,326.6 L2197.1,324.3 L2197.7,328.3 L2198.2,323.2 L2198.8,355.2 L2199.3,331.2 L2199.9,341.3 L2200.5,340.9 L2201.0,315.6 L2201.6,316.8 L2202.2,313.9 L2202.7,328.7 L2203.3,335.4 L2203.8,310.6 L2204.4,347.6 L2205.0,330.0 L2205.5,351.3 L2206.1,319.6 L2206.7,307.9 L2207.2,346.7 L2207.8,345.1 L2208.3,368.0 L2208.9,338.1 L2209.5,342.0 L2210.0,368.2 L2210.6,307.6 L2211.2,308.7 L2211.7,374.9 L2212.3,341.5 L2212.8,330.2 L2213.4,344.6 L2214.0,304.8 L2214.5,320.5 L2215.1,333.3 L2215.7,330.2 L2216.2,289.0 L2216.8,353.3 L2217.3,319.2 L2217.9,323.5 L2218.5,322.8 L2219.0,344.3 L2219.6,312.1 L2220.2,311.7 L2220.7,312.9 L2221.3,307.5 L2221.8,327.1 L2222.4,318.5 L2223.0,311.7 L2223.5,320.3 L2224.1,332.0 L2224.7,361.9 L2225.2,329.3 L2225.8,357.7 L2226.3,335.1 L2226.9,357.2 L2227.5,307.6 L2228.0,306.7 L2228.6,326.5 L2229.2,324.6 L2229.7,331.3 L2230.3,339.3 L2230.9,307.7 L2231.4,334.4 L2232.0,319.4 L2232.5,360.9 L2233.1,326.5 L2233.7,321.3 L2234.2,358.0 L2234.8,311.4 L2235.4,361.7 L2235.9,337.1 L2236.5,322.2 L2237.0,322.5 L2237.6,330.8 L2238.2,336.1 L2238.7,316.5 L2239.3,337.0 L2239.9,343.5 L2240.4,330.3 L2241.0,358.3 L2241.5,312.6 L2242.1,332.1 L2242.7,347.9 L2243.2,338.3 L2243.8,357.5 L2244.4,347.6 L2244.9,309.5 L2245.5,356.3 L2246.0,319.1 L2246.6,351.0 L2247.2,330.8 L2247.7,351.1 L2248.3,301.4 L2248.9,343.7 L2249.4,326.8 L2250.0,359.2 L2250.5,360.2 L2251.1,356.5 L2251.7,327.1 L2252.2,331.0 L2252.8,313.4 L2253.4,328.6 L2253.9,332.1 L2254.5,340.5 L2255.0,357.2 L2255.6,312.9 L2256.2,333.8 L2256.7,298.0 L2257.3,327.2 L2257.9,297.0 L2258.4,321.2 L2259.0,318.3 L2259.5,307.6 L2260.1,334.3 L2260.7,322.9 L2261.2,325.8 L2261.8,333.4 L2262.4,329.7 L2262.9,342.2 L2263.5,342.5 L2264.0,336.8 L2264.6,340.8 L2265.2,347.4 L2265.7,326.6 L2266.3,353.9 L2266.9,359.5 L2267.4,331.6 L2268.0,360.5 L2268.6,378.3 L2269.1,344.1 L2269.7,369.4 L2270.2,310.1 L2270.8,351.3 L2271.4,322.6 L2271.9,339.1 L2272.5,311.3 L2273.1,351.2 L2273.6,357.7 L2274.2,315.5 L2274.7,355.1 L2275.3,323.3 L2275.9,331.2 L2276.4,312.3 L2277.0,341.2 L2277.6,325.1 L2278.1,328.2 L2278.7,332.8 L2279.2,310.8 L2279.8,340.3 L2280.4,325.1 L2280.9,355.4 L2281.5,329.0 L2282.1,339.3 L2282.6,337.9 L2283.2,352.3 L2283.7,356.2 L2284.3,330.9 L2284.9,311.8 L2285.4,328.8 L2286.0,322.3 L2286.6,341.1 L2287.1,324.1 L2287.7,335.4 L2288.2,333.1 L2288.8,334.1 L2289.4,312.5 L2289.9,348.7 L2290.5,321.0 L2291.1,309.3 L2291.6,316.1 L2292.2,323.2 L2292.7,322.2 L2293.3,336.0 L2293.9,319.9 L2294.4,333.4 L2295.0,345.5 L2295.6,315.1 L2296.1,319.0 L2296.7,355.3 L2297.2,338.6 L2297.8,346.1 L2298.4,328.4 L2298.9,331.0 L2299.5,329.2 L2300.1,317.8 L2300.6,350.3 L2301.2,311.8 L2301.7,320.1 L2302.3,311.8 L2302.9,363.0 L2303.4,316.5 L2304.0,351.4" fill="none" stroke="#fe0000" stroke-width="4.6" stroke-linejoin="bevel"/>
<path d="M1348.0,628.7 L1348.6,582.4 L1349.1,592.8 L1349.7,600.6 L1350.3,575.4 L1350.8,592.1 L1351.4,592.1 L1351.9,555.7 L1352.5,613.5 L1353.1,605.0 L1353.6,579.7 L1354.2,541.0 L1354.8,603.6 L1355.3,587.9 L1355.9,588.6 L1356.4,563.7 L1357.0,606.2 L1357.6,597.8 L1358.1,601.6 L1358.7,575.4 L1359.3,614.9 L1359.8,601.3 L1360.4,590.7 L1360.9,614.5 L1361.5,599.7 L1362.1,586.6 L1362.6,593.8 L1363.2,585.9 L1363.8,625.9 L1364.3,595.4 L1364.9,589.1 L1365.4,627.8 L1366.0,592.5 L1366.6,617.7 L1367.1,582.4 L1367.7,594.0 L1368.3,583.4 L1368.8,632.0 L1369.4,625.2 L1369.9,603.2 L1370.5,627.4 L1371.1,606.5 L1371.6,621.6 L1372.2,594.3 L1372.8,585.0 L1373.3,581.7 L1373.9,616.0 L1374.4,660.0 L1375.0,612.6 L1375.6,596.2 L1376.1,645.0 L1376.7,610.9 L1377.3,607.9 L1377.8,610.8 L1378.4,602.7 L1378.9,598.7 L1379.5,574.9 L1380.1,551.5 L1380.6,601.6 L1381.2,628.1 L1381.8,594.6 L1382.3,566.5 L1382.9,599.0 L1383.4,632.3 L1384.0,591.8 L1384.6,580.5 L1385.1,573.6 L1385.7,576.6 L1386.3,593.1 L1386.8,573.8 L1387.4,633.3 L1388.0,594.2 L1388.5,603.2 L1389.1,633.1 L1389.6,634.7 L1390.2,596.6 L1390.8,608.9 L1391.3,618.0 L1391.9,597.2 L1392.5,565.0 L1393.0,616.2 L1393.6,621.5 L1394.1,565.0 L1394.7,581.2 L1395.3,597.3 L1395.8,588.7 L1396.4,595.0 L1397.0,629.9 L1397.5,640.8 L1398.1,616.0 L1398.6,613.3 L1399.2,615.9 L1399.8,600.9 L1400.3,599.4 L1400.9,586.5 L1401.5,599.5 L1402.0,625.8 L1402.6,618.8 L1403.1,592.9 L1403.7,589.9 L1404.3,581.4 L1404.8,607.6 L1405.4,607.9 L1406.0,568.8 L1406.5,609.9 L1407.1,587.4 L1407.6,628.9 L1408.2,603.2 L1408.8,626.6 L1409.3,590.5 L1409.9,594.5 L1410.5,607.3 L1411.0,623.8 L1411.6,613.8 L1412.1,576.3 L1412.7,606.8 L1413.3,604.0 L1413.8,595.3 L1414.4,591.4 L1415.0,635.8 L1415.5,598.5 L1416.1,589.9 L1416.6,621.4 L1417.2,611.7 L1417.8,608.3 L1418.3,626.6 L1418.9,621.3 L1419.5,619.3 L1420.0,632.2 L1420.6,618.8 L1421.1,601.1 L1421.7,651.0 L1422.3,603.9 L1422.8,619.1 L1423.4,593.3 L1424.0,585.1 L1424.5,617.5 L1425.1,588.7 L1425.7,583.5 L1426.2,623.8 L1426.8,601.8 L1427.3,626.4 L1427.9,605.3 L1428.5,593.0 L1429.0,590.3 L1429.6,604.9 L1430.2,609.4 L1430.7,597.7 L1431.3,608.4 L1431.8,585.6 L1432.4,613.5 L1433.0,593.7 L1433.5,608.0 L1434.1,625.6 L1434.7,632.9 L1435.2,636.8 L1435.8,577.6 L1436.3,623.8 L1436.9,632.0 L1437.5,626.6 L1438.0,587.4 L1438.6,613.5 L1439.2,636.6 L1439.7,574.1 L1440.3,612.5 L1440.8,624.3 L1441.4,588.0 L1442.0,612.6 L1442.5,579.6 L1443.1,560.7 L1443.7,583.7 L1444.2,603.0 L1444.8,597.2 L1445.3,617.2 L1445.9,580.2 L1446.5,595.7 L1447.0,616.8 L1447.6,609.0 L1448.2,572.1 L1448.7,611.2 L1449.3,588.6 L1449.8,606.0 L1450.4,604.5 L1451.0,623.4 L1451.5,601.2 L1452.1,569.1 L1452.7,571.2 L1453.2,614.5 L1453.8,594.4 L1454.3,623.4 L1454.9,605.9 L1455.5,585.1 L1456.0,623.1 L1456.6,584.5 L1457.2,576.0 L1457.7,625.4 L1458.3,580.3 L1458.8,615.6 L1459.4,622.4 L1460.0,606.5 L1460.5,578.8 L1461.1,625.5 L1461.7,576.9 L1462.2,577.8 L1462.8,598.5 L1463.4,622.5 L1463.9,612.7 L1464.5,623.4 L1465.0,597.8 L1465.6,603.5 L1466.2,584.0 L1466.7,600.8 L1467.3,619.3 L1467.9,601.3 L1468.4,660.0 L1469.0,595.9 L1469.5,560.7 L1470.1,608.1 L1470.7,603.3 L1471.2,618.8 L1471.8,610.3 L1472.4,634.4 L1472.9,601.7 L1473.5,601.0 L1474.0,584.3 L1474.6,604.9 L1475.2,617.5 L1475.7,588.7 L1476.3,602.0 L1476.9,617.0 L1477.4,599.9 L1478.0,591.8 L1478.5,621.6 L1479.1,603.9 L1479.7,609.9 L1480.2,564.0 L1480.8,625.3 L1481.4,594.9 L1481.9,591.3 L1482.5,608.1 L1483.0,599.6 L1483.6,579.5 L1484.2,629.6 L1484.7,603.6 L1485.3,619.0 L1485.9,579.2 L1486.4,631.4 L1487.0,592.4 L1487.5,603.0 L1488.1,585.8 L1488.7,602.7 L1489.2,601.9 L1489.8,603.3 L1490.4,616.3 L1490.9,609.1 L1491.5,627.8 L1492.0,599.7 L1492.6,590.0 L1493.2,609.8 L1493.7,623.1 L1494.3,635.7 L1494.9,628.0 L1495.4,588.4 L1496.0,620.9 L1496.5,640.6 L1497.1,615.8 L1497.7,605.1 L1498.2,621.2 L1498.8,606.0 L1499.4,627.9 L1499.9,615.6 L1500.5,642.2 L1501.1,625.5 L1501.6,666.0 L1502.2,627.8 L1502.7,634.0 L1503.3,606.4 L1503.9,609.2 L1504.4,586.6 L1505.0,634.2 L1505.6,606.8 L1506.1,590.0 L1506.7,585.0 L1507.2,613.6 L1507.8,631.9 L1508.4,616.0 L1508.9,626.4 L1509.5,596.7 L1510.1,591.9 L1510.6,634.1 L1511.2,626.7 L1511.7,616.9 L1512.3,642.3 L1512.9,599.7 L1513.4,610.3 L1514.0,638.8 L1514.6,639.4 L1515.1,619.8 L1515.7,644.4 L1516.2,608.5 L1516.8,627.3 L1517.4,617.6 L1517.9,598.9 L1518.5,626.8 L1519.1,640.7 L1519.6,619.2 L1520.2,621.0 L1520.7,650.6 L1521.3,597.8 L1521.9,596.9 L1522.4,610.0 L1523.0,599.4 L1523.6,649.8 L1524.1,629.3 L1524.7,606.1 L1525.2,610.9 L1525.8,647.0 L1526.4,610.7 L1526.9,656.8 L1527.5,628.3 L1528.1,634.7 L1528.6,626.2 L1529.2,603.4 L1529.7,598.2 L1530.3,632.8 L1530.9,619.6 L1531.4,587.6 L1532.0,643.6 L1532.6,635.4 L1533.1,614.8 L1533.7,614.2 L1534.2,623.9 L1534.8,580.0 L1535.4,591.4 L1535.9,625.2 L1536.5,589.0 L1537.1,626.3 L1537.6,588.5 L1538.2,616.1 L1538.7,615.3 L1539.3,654.0 L1539.9,595.8 L1540.4,588.5 L1541.0,604.6 L1541.6,594.6 L1542.1,606.0 L1542.7,627.6 L1543.3,635.4 L1543.8,652.1 L1544.4,603.6 L1544.9,642.1 L1545.5,647.9 L1546.1,615.7 L1546.6,597.8 L1547.2,618.8 L1547.8,622.4 L1548.3,591.5 L1548.9,623.0 L1549.4,617.3 L1550.0,604.9 L1550.6,635.8 L1551.1,644.3 L1551.7,612.3 L1552.3,628.1 L1552.8,609.2 L1553.4,606.7 L1553.9,625.8 L1554.5,635.7 L1555.1,612.4 L1555.6,595.8 L1556.2,637.9 L1556.8,598.1 L1557.3,628.3 L1557.9,652.1 L1558.4,625.8 L1559.0,600.5 L1559.6,594.8 L1560.1,652.4 L1560.7,626.8 L1561.3,639.2 L1561.8,647.9 L1562.4,626.8 L1562.9,621.2 L1563.5,607.3 L1564.1,603.8 L1564.6,594.7 L1565.2,626.6 L1565.8,624.2 L1566.3,637.0 L1566.9,625.0 L1567.4,631.2 L1568.0,666.0 L1568.6,607.2 L1569.1,620.4 L1569.7,598.0 L1570.3,648.2 L1570.8,626.5 L1571.4,636.4 L1571.9,660.2 L1572.5,649.0 L1573.1,622.1 L1573.6,641.2 L1574.2,588.5 L1574.8,631.7 L1575.3,624.0 L1575.9,581.1 L1576.4,651.6 L1577.0,601.3 L1577.6,634.7 L1578.1,606.9 L1578.7,641.6 L1579.3,649.3 L1579.8,594.7 L1580.4,576.3 L1581.0,611.5 L1581.5,636.2 L1582.1,604.6 L1582.6,598.0 L1583.2,626.1 L1583.8,578.0 L1584.3,596.0 L1584.9,577.4 L1585.5,620.3 L1586.0,593.8 L1586.6,584.3 L1587.1,603.9 L1587.7,575.9 L1588.3,613.2 L1588.8,596.8 L1589.4,605.1 L1590.0,597.3 L1590.5,638.4 L1591.1,613.7 L1591.6,629.7 L1592.2,628.9 L1592.8,598.1 L1593.3,631.5 L1593.9,626.2 L1594.5,625.3 L1595.0,608.3 L1595.6,607.4 L1596.1,636.0 L1596.7,688.0 L1597.3,597.1 L1597.8,629.1 L1598.4,607.3 L1599.0,634.3 L1599.5,625.5 L1600.1,639.8 L1600.6,577.5 L1601.2,598.3 L1601.8,588.0 L1602.3,607.9 L1602.9,591.8 L1603.5,592.3 L1604.0,622.5 L1604.6,626.8 L1605.1,577.4 L1605.7,594.3 L1606.3,608.1 L1606.8,599.6 L1607.4,590.3 L1608.0,569.5 L1608.5,574.6 L1609.1,611.6 L1609.6,599.9 L1610.2,597.9 L1610.8,575.0 L1611.3,596.8 L1611.9,588.3 L1612.5,606.7 L1613.0,596.0 L1613.6,578.2 L1614.1,597.6 L1614.7,565.1 L1615.3,612.8 L1615.8,621.7 L1616.4,566.5 L1617.0,604.5 L1617.5,572.2 L1618.1,620.6 L1618.7,545.8 L1619.2,591.9 L1619.8,620.4 L1620.3,588.4 L1620.9,584.1 L1621.5,586.3 L1622.0,596.6 L1622.6,592.8 L1623.2,604.2 L1623.7,587.0 L1624.3,619.2 L1624.8,625.8 L1625.4,591.4 L1626.0,570.3 L1626.5,621.2 L1627.1,631.7 L1627.7,601.7 L1628.2,575.7 L1628.8,613.0 L1629.3,643.5 L1629.9,565.7 L1630.5,619.4 L1631.0,600.8 L1631.6,588.0 L1632.2,566.4 L1632.7,578.0 L1633.3,617.6 L1633.8,643.2 L1634.4,615.8 L1635.0,590.3 L1635.5,577.8 L1636.1,581.3 L1636.7,581.4 L1637.2,654.3 L1637.8,608.9 L1638.3,589.7 L1638.9,584.1 L1639.5,590.5 L1640.0,609.2 L1640.6,586.1 L1641.2,660.3 L1641.7,600.2 L1642.3,599.5 L1642.8,627.1 L1643.4,656.1 L1644.0,653.1 L1644.5,666.0 L1645.1,626.2 L1645.7,623.5 L1646.2,633.4 L1646.8,626.4 L1647.3,595.4 L1647.9,587.1 L1648.5,624.7 L1649.0,589.2 L1649.6,635.9 L1650.2,621.5 L1650.7,593.4 L1651.3,612.2 L1651.8,607.4 L1652.4,617.6 L1653.0,646.5 L1653.5,596.6 L1654.1,585.2 L1654.7,631.5 L1655.2,618.2 L1655.8,628.1 L1656.4,636.5 L1656.9,620.3 L1657.5,648.0 L1658.0,602.8 L1658.6,629.9 L1659.2,606.4 L1659.7,599.0 L1660.3,648.1 L1660.9,647.8 L1661.4,599.6 L1662.0,602.7 L1662.5,642.9 L1663.1,665.4 L1663.7,617.9 L1664.2,632.2 L1664.8,598.7 L1665.4,678.2 L1665.9,652.9 L1666.5,665.3 L1667.0,659.5 L1667.6,667.8 L1668.2,659.4 L1668.7,633.5 L1669.3,664.4 L1669.9,646.2 L1670.4,681.2 L1671.0,624.1 L1671.5,630.0 L1672.1,664.7 L1672.7,682.8 L1673.2,650.8 L1673.8,626.5 L1674.4,643.8 L1674.9,633.1 L1675.5,698.6 L1676.0,673.7 L1676.6,684.3 L1677.2,656.5 L1677.7,631.7 L1678.3,681.5 L1678.9,701.0 L1679.4,664.0 L1680.0,646.3 L1680.5,677.6 L1681.1,635.7 L1681.7,667.6 L1682.2,625.2 L1682.8,617.4 L1683.4,660.1 L1683.9,653.0 L1684.5,683.6 L1685.0,634.6 L1685.6,642.3 L1686.2,609.8 L1686.7,609.4 L1687.3,600.0 L1687.9,651.4 L1688.4,606.9 L1689.0,667.8 L1689.5,664.7 L1690.1,629.5 L1690.7,665.7 L1691.2,642.4 L1691.8,665.4 L1692.4,630.5 L1692.9,660.7 L1693.5,612.4 L1694.1,592.7 L1694.6,625.2 L1695.2,633.7 L1695.7,653.0 L1696.3,642.1 L1696.9,636.5 L1697.4,656.7 L1698.0,659.0 L1698.6,606.8 L1699.1,654.3 L1699.7,657.6 L1700.2,624.6 L1700.8,652.2 L1701.4,613.0 L1701.9,678.1 L1702.5,640.0 L1703.1,644.4 L1703.6,674.3 L1704.2,644.4 L1704.7,661.9 L1705.3,625.3 L1705.9,636.7 L1706.4,622.4 L1707.0,646.1 L1707.6,674.3 L1708.1,656.8 L1708.7,672.0 L1709.2,630.2 L1709.8,633.8 L1710.4,643.5 L1710.9,666.8 L1711.5,662.4 L1712.1,654.5 L1712.6,668.7 L1713.2,652.1 L1713.7,655.1 L1714.3,683.9 L1714.9,643.3 L1715.4,659.8 L1716.0,690.3 L1716.6,658.2 L1717.1,691.8 L1717.7,643.2 L1718.2,682.8 L1718.8,630.3 L1719.4,631.9 L1719.9,633.5 L1720.5,689.0 L1721.1,662.3 L1721.6,649.2 L1722.2,627.7 L1722.7,661.6 L1723.3,656.0 L1723.9,638.7 L1724.4,621.6 L1725.0,629.2 L1725.6,656.2 L1726.1,657.8 L1726.7,652.3 L1727.2,647.1 L1727.8,622.8 L1728.4,650.3 L1728.9,626.8 L1729.5,649.2 L1730.1,657.8 L1730.6,632.8 L1731.2,624.8 L1731.8,668.1 L1732.3,653.7 L1732.9,631.8 L1733.4,618.7 L1734.0,644.0 L1734.6,658.7 L1735.1,669.4 L1735.7,629.4 L1736.3,630.0 L1736.8,634.3 L1737.4,662.7 L1737.9,617.8 L1738.5,641.5 L1739.1,623.2 L1739.6,650.1 L1740.2,609.1 L1740.8,652.7 L1741.3,633.1 L1741.9,639.4 L1742.4,656.7 L1743.0,671.0 L1743.6,618.9 L1744.1,668.5 L1744.7,658.6 L1745.3,639.3 L1745.8,679.0 L1746.4,651.1 L1746.9,608.7 L1747.5,633.4 L1748.1,627.2 L1748.6,676.8 L1749.2,678.1 L1749.8,663.6 L1750.3,670.1 L1750.9,637.6 L1751.4,617.2 L1752.0,644.0 L1752.6,686.4 L1753.1,612.4 L1753.7,638.0 L1754.3,618.4 L1754.8,653.3 L1755.4,672.7 L1755.9,619.9 L1756.5,641.0 L1757.1,685.0 L1757.6,649.5 L1758.2,620.5 L1758.8,618.7 L1759.3,615.3 L1759.9,672.5 L1760.4,633.9 L1761.0,680.3 L1761.6,675.8 L1762.1,637.0 L1762.7,640.7 L1763.3,674.5 L1763.8,658.7 L1764.4,662.1 L1764.9,613.5 L1765.5,678.9 L1766.1,634.0 L1766.6,621.7 L1767.2,641.1 L1767.8,667.8 L1768.3,699.1 L1768.9,647.9 L1769.5,623.7 L1770.0,701.1 L1770.6,661.6 L1771.1,650.9 L1771.7,707.0 L1772.3,631.8 L1772.8,694.6 L1773.4,650.1 L1774.0,643.1 L1774.5,643.5 L1775.1,696.0 L1775.6,640.9 L1776.2,671.6 L1776.8,662.2 L1777.3,661.4 L1777.9,632.8 L1778.5,671.7 L1779.0,679.7 L1779.6,653.4 L1780.1,631.3 L1780.7,622.0 L1781.3,659.6 L1781.8,648.1 L1782.4,652.5 L1783.0,655.7 L1783.5,618.6 L1784.1,675.8 L1784.6,662.5 L1785.2,655.3 L1785.8,663.5 L1786.3,681.4 L1786.9,660.3 L1787.5,638.6 L1788.0,689.0 L1788.6,650.4 L1789.1,644.0 L1789.7,632.9 L1790.3,663.0 L1790.8,638.1 L1791.4,651.3 L1792.0,674.8 L1792.5,665.2 L1793.1,688.6 L1793.6,710.0 L1794.2,655.7 L1794.8,657.6 L1795.3,653.7 L1795.9,680.2 L1796.5,665.8 L1797.0,655.9 L1797.6,684.2 L1798.1,667.1 L1798.7,654.3 L1799.3,630.8 L1799.8,674.2 L1800.4,669.6 L1801.0,665.2 L1801.5,654.3 L1802.1,645.4 L1802.6,658.7 L1803.2,668.6 L1803.8,660.7 L1804.3,660.4 L1804.9,653.4 L1805.5,671.0 L1806.0,668.8 L1806.6,647.7 L1807.2,680.3 L1807.7,681.1 L1808.3,681.8 L1808.8,662.0 L1809.4,661.0 L1810.0,641.2 L1810.5,681.6 L1811.1,634.6 L1811.7,658.7 L1812.2,660.2 L1812.8,685.0 L1813.3,668.0 L1813.9,649.0 L1814.5,640.2 L1815.0,654.6 L1815.6,671.5 L1816.2,670.7 L1816.7,666.0 L1817.3,656.6 L1817.8,701.0 L1818.4,689.8 L1819.0,648.9 L1819.5,671.1 L1820.1,696.9 L1820.7,681.1 L1821.2,661.4 L1821.8,683.0 L1822.3,655.4 L1822.9,670.0 L1823.5,697.3 L1824.0,695.8 L1824.6,644.5 L1825.2,682.5 L1825.7,694.1 L1826.3,657.5 L1826.8,672.9 L1827.4,694.4 L1828.0,657.6 L1828.5,676.0 L1829.1,665.6 L1829.7,640.7 L1830.2,673.3 L1830.8,662.6 L1831.3,684.7 L1831.9,690.3 L1832.5,679.7 L1833.0,658.8 L1833.6,675.2 L1834.2,670.3 L1834.7,686.7 L1835.3,638.4 L1835.8,644.1 L1836.4,632.3 L1837.0,679.5 L1837.5,667.8 L1838.1,632.8 L1838.7,655.1 L1839.2,658.5 L1839.8,652.2 L1840.3,664.0 L1840.9,661.1 L1841.5,696.6 L1842.0,676.6 L1842.6,655.4 L1843.2,659.9 L1843.7,713.0 L1844.3,679.3 L1844.8,676.6 L1845.4,684.6 L1846.0,700.7 L1846.5,649.4 L1847.1,658.3 L1847.7,640.2 L1848.2,681.2 L1848.8,627.0 L1849.4,659.9 L1849.9,658.3 L1850.5,684.9 L1851.0,669.6 L1851.6,662.4 L1852.2,695.0 L1852.7,652.7 L1853.3,648.6 L1853.9,697.1 L1854.4,665.2 L1855.0,662.1 L1855.5,658.9 L1856.1,670.0 L1856.7,687.4 L1857.2,687.1 L1857.8,683.3 L1858.4,668.0 L1858.9,657.8 L1859.5,678.5 L1860.0,692.8 L1860.6,692.9 L1861.2,670.0 L1861.7,687.7 L1862.3,666.0 L1862.9,671.9 L1863.4,650.9 L1864.0,667.2 L1864.5,675.1 L1865.1,669.7 L1865.7,685.9 L1866.2,690.4 L1866.8,695.3 L1867.4,668.1 L1867.9,661.4 L1868.5,663.2 L1869.0,658.5 L1869.6,675.6 L1870.2,643.0 L1870.7,679.0 L1871.3,679.7 L1871.9,679.6 L1872.4,675.4 L1873.0,666.1 L1873.5,705.4 L1874.1,695.1 L1874.7,664.3 L1875.2,664.6 L1875.8,725.5 L1876.4,680.1 L1876.9,700.5 L1877.5,697.1 L1878.0,698.5 L1878.6,699.4 L1879.2,700.3 L1879.7,694.3 L1880.3,689.5 L1880.9,679.1 L1881.4,662.5 L1882.0,678.6 L1882.5,697.3 L1883.1,670.1 L1883.7,667.9 L1884.2,699.6 L1884.8,680.9 L1885.4,669.5 L1885.9,695.7 L1886.5,691.3 L1887.1,693.9 L1887.6,666.8 L1888.2,688.7 L1888.7,686.4 L1889.3,695.0 L1889.9,703.0 L1890.4,702.7 L1891.0,682.5 L1891.6,693.6 L1892.1,654.1 L1892.7,692.6 L1893.2,693.5 L1893.8,670.1 L1894.4,661.7 L1894.9,677.4 L1895.5,652.2 L1896.1,686.5 L1896.6,685.8 L1897.2,658.8 L1897.7,728.5 L1898.3,703.5 L1898.9,623.6 L1899.4,702.7 L1900.0,677.3 L1900.6,673.2 L1901.1,672.2 L1901.7,694.1 L1902.2,716.0 L1902.8,712.4 L1903.4,716.6 L1903.9,711.2 L1904.5,643.6 L1905.1,675.8 L1905.6,670.4 L1906.2,709.3 L1906.7,719.7 L1907.3,665.1 L1907.9,681.5 L1908.4,693.6 L1909.0,669.1 L1909.6,665.7 L1910.1,636.0 L1910.7,700.9 L1911.2,658.5 L1911.8,706.5 L1912.4,681.7 L1912.9,697.2 L1913.5,715.8 L1914.1,663.7 L1914.6,660.3 L1915.2,689.4 L1915.7,655.4 L1916.3,662.6 L1916.9,677.1 L1917.4,683.6 L1918.0,651.8 L1918.6,671.8 L1919.1,693.8 L1919.7,710.9 L1920.2,649.4 L1920.8,710.2 L1921.4,701.2 L1921.9,659.2 L1922.5,651.6 L1923.1,692.2 L1923.6,675.0 L1924.2,687.2 L1924.8,702.8 L1925.3,677.7 L1925.9,689.3 L1926.4,696.2 L1927.0,705.2 L1927.6,707.5 L1928.1,711.8 L1928.7,693.3 L1929.3,684.2 L1929.8,709.2 L1930.4,702.3 L1930.9,698.4 L1931.5,669.0 L1932.1,705.6 L1932.6,675.8 L1933.2,682.1 L1933.8,665.6 L1934.3,719.8 L1934.9,692.2 L1935.4,663.2 L1936.0,674.2 L1936.6,689.4 L1937.1,667.3 L1937.7,667.4 L1938.3,675.0 L1938.8,664.2 L1939.4,701.2 L1939.9,671.4 L1940.5,703.6 L1941.1,659.0 L1941.6,666.9 L1942.2,689.6 L1942.8,679.8 L1943.3,667.4 L1943.9,682.2 L1944.4,683.8 L1945.0,701.5 L1945.6,707.4 L1946.1,667.4 L1946.7,680.4 L1947.3,698.2 L1947.8,710.6 L1948.4,668.5 L1948.9,712.8 L1949.5,684.9 L1950.1,718.1 L1950.6,679.9 L1951.2,671.8 L1951.8,689.0 L1952.3,711.4 L1952.9,688.7 L1953.4,665.8 L1954.0,701.8 L1954.6,667.8 L1955.1,667.9 L1955.7,664.1 L1956.3,662.5 L1956.8,661.8 L1957.4,667.1 L1957.9,674.6 L1958.5,685.9 L1959.1,679.9 L1959.6,656.1 L1960.2,682.7 L1960.8,706.3 L1961.3,705.7 L1961.9,688.7 L1962.5,698.8 L1963.0,704.4 L1963.6,714.3 L1964.1,721.3 L1964.7,679.2 L1965.3,680.3 L1965.8,717.2 L1966.4,645.0 L1967.0,719.2 L1967.5,651.3 L1968.1,682.2 L1968.6,652.1 L1969.2,703.1 L1969.8,689.0 L1970.3,689.2 L1970.9,685.5 L1971.5,717.2 L1972.0,682.9 L1972.6,712.2 L1973.1,702.2 L1973.7,698.3 L1974.3,701.0 L1974.8,693.7 L1975.4,667.5 L1976.0,707.6 L1976.5,707.7 L1977.1,689.1 L1977.6,708.4 L1978.2,712.3 L1978.8,664.4 L1979.3,689.4 L1979.9,682.8 L1980.5,672.6 L1981.0,699.4 L1981.6,673.8 L1982.1,682.5 L1982.7,697.0 L1983.3,699.0 L1983.8,698.1 L1984.4,726.7 L1985.0,679.8 L1985.5,695.4 L1986.1,664.3 L1986.6,699.4 L1987.2,712.9 L1987.8,713.6 L1988.3,675.1 L1988.9,682.1 L1989.5,712.9 L1990.0,685.1 L1990.6,705.7 L1991.1,667.0 L1991.7,713.1 L1992.3,705.6 L1992.8,694.2 L1993.4,669.4 L1994.0,681.4 L1994.5,687.1 L1995.1,688.9 L1995.6,681.7 L1996.2,679.4 L1996.8,686.9 L1997.3,709.2 L1997.9,652.7 L1998.5,657.7 L1999.0,654.5 L1999.6,670.4 L2000.2,651.1 L2000.7,693.3 L2001.3,685.0 L2001.8,678.7 L2002.4,671.1 L2003.0,686.6 L2003.5,687.2 L2004.1,690.2 L2004.7,671.3 L2005.2,696.4 L2005.8,665.6 L2006.3,707.6 L2006.9,661.4 L2007.5,675.0 L2008.0,664.4 L2008.6,700.2 L2009.2,668.9 L2009.7,702.5 L2010.3,667.7 L2010.8,709.4 L2011.4,694.7 L2012.0,687.4 L2012.5,694.5 L2013.1,704.9 L2013.7,702.4 L2014.2,668.6 L2014.8,707.3 L2015.3,690.7 L2015.9,661.7 L2016.5,699.4 L2017.0,665.9 L2017.6,689.2 L2018.2,689.9 L2018.7,675.0 L2019.3,696.4 L2019.8,668.5 L2020.4,688.5 L2021.0,676.2 L2021.5,682.3 L2022.1,708.6 L2022.7,687.3 L2023.2,667.5 L2023.8,683.8 L2024.3,673.2 L2024.9,686.7 L2025.5,689.3 L2026.0,652.0 L2026.6,688.8 L2027.2,678.7 L2027.7,695.9 L2028.3,706.8 L2028.8,679.0 L2029.4,689.0 L2030.0,691.6 L2030.5,712.4 L2031.1,710.0 L2031.7,679.4 L2032.2,693.6 L2032.8,670.2 L2033.3,676.5 L2033.9,722.0 L2034.5,704.8 L2035.0,710.7 L2035.6,688.9 L2036.2,678.7 L2036.7,701.3 L2037.3,691.5 L2037.9,701.8 L2038.4,697.2 L2039.0,706.7 L2039.5,705.5 L2040.1,708.6 L2040.7,686.0 L2041.2,710.7 L2041.8,684.8 L2042.4,694.5 L2042.9,661.0 L2043.5,698.6 L2044.0,672.6 L2044.6,717.3 L2045.2,708.8 L2045.7,711.0 L2046.3,695.0 L2046.9,697.4 L2047.4,687.7 L2048.0,679.9 L2048.5,717.1 L2049.1,685.5 L2049.7,683.7 L2050.2,684.5 L2050.8,711.5 L2051.4,706.8 L2051.9,686.1 L2052.5,691.6 L2053.0,701.1 L2053.6,707.5 L2054.2,670.7 L2054.7,708.2 L2055.3,689.2 L2055.9,681.2 L2056.4,686.2 L2057.0,706.6 L2057.5,714.9 L2058.1,695.3 L2058.7,702.4 L2059.2,678.0 L2059.8,701.0 L2060.4,706.8 L2060.9,678.6 L2061.5,682.2 L2062.0,705.5 L2062.6,674.2 L2063.2,683.9 L2063.7,701.3 L2064.3,665.3 L2064.9,682.7 L2065.4,690.6 L2066.0,705.4 L2066.5,665.9 L2067.1,708.8 L2067.7,694.0 L2068.2,655.7 L2068.8,709.2 L2069.4,694.3 L2069.9,696.9 L2070.5,656.9 L2071.0,664.1 L2071.6,670.6 L2072.2,682.8 L2072.7,706.4 L2073.3,657.3 L2073.9,684.3 L2074.4,666.1 L2075.0,661.9 L2075.6,718.4 L2076.1,692.9 L2076.7,722.1 L2077.2,713.8 L2077.8,673.6 L2078.4,665.8 L2078.9,738.0 L2079.5,683.4 L2080.1,668.8 L2080.6,705.0 L2081.2,694.0 L2081.7,677.8 L2082.3,684.2 L2082.9,694.2 L2083.4,692.2 L2084.0,705.7 L2084.6,683.0 L2085.1,682.8 L2085.7,701.6 L2086.2,695.3 L2086.8,710.7 L2087.4,682.7 L2087.9,685.3 L2088.5,663.2 L2089.1,708.0 L2089.6,657.3 L2090.2,689.3 L2090.7,666.7 L2091.3,691.4 L2091.9,699.5 L2092.4,660.7 L2093.0,680.0 L2093.6,648.8 L2094.1,712.8 L2094.7,675.6 L2095.2,652.9 L2095.8,636.0 L2096.4,711.4 L2096.9,715.0 L2097.5,710.7 L2098.1,669.8 L2098.6,682.5 L2099.2,717.9 L2099.7,671.4 L2100.3,679.4 L2100.9,667.5 L2101.4,722.0 L2102.0,709.8 L2102.6,699.0 L2103.1,695.8 L2103.7,698.7 L2104.2,707.5 L2104.8,717.1 L2105.4,688.1 L2105.9,681.8 L2106.5,668.7 L2107.1,708.9 L2107.6,678.1 L2108.2,659.2 L2108.7,682.4 L2109.3,687.8 L2109.9,702.9 L2110.4,705.9 L2111.0,672.6 L2111.6,671.1 L2112.1,679.8 L2112.7,662.8 L2113.3,683.5 L2113.8,694.1 L2114.4,685.9 L2114.9,655.7 L2115.5,662.4 L2116.1,708.5 L2116.6,665.6 L2117.2,697.8 L2117.8,695.6 L2118.3,678.0 L2118.9,665.6 L2119.4,687.5 L2120.0,667.4 L2120.6,680.3 L2121.1,685.3 L2121.7,670.3 L2122.3,679.1 L2122.8,677.6 L2123.4,660.6 L2123.9,679.7 L2124.5,671.5 L2125.1,656.9 L2125.6,677.0 L2126.2,677.9 L2126.8,672.0 L2127.3,665.1 L2127.9,697.2 L2128.4,695.4 L2129.0,694.7 L2129.6,688.6 L2130.1,659.7 L2130.7,684.7 L2131.3,665.6 L2131.8,707.9 L2132.4,672.7 L2132.9,693.9 L2133.5,653.8 L2134.1,660.3 L2134.6,671.7 L2135.2,693.8 L2135.8,690.7 L2136.3,685.9 L2136.9,647.9 L2137.4,700.6 L2138.0,663.2 L2138.6,709.0 L2139.1,710.1 L2139.7,694.3 L2140.3,697.1 L2140.8,655.8 L2141.4,712.2 L2141.9,643.0 L2142.5,711.8 L2143.1,662.4 L2143.6,677.0 L2144.2,656.1 L2144.8,673.7 L2145.3,678.5 L2145.9,683.2 L2146.4,704.7 L2147.0,687.8 L2147.6,683.7 L2148.1,680.2 L2148.7,701.0 L2149.3,669.5 L2149.8,703.3 L2150.4,657.1 L2150.9,665.5 L2151.5,690.5 L2152.1,680.4 L2152.6,707.8 L2153.2,708.3 L2153.8,656.9 L2154.3,666.1 L2154.9,684.5 L2155.5,720.9 L2156.0,710.2 L2156.6,695.6 L2157.1,663.6 L2157.7,675.1 L2158.3,668.9 L2158.8,729.0 L2159.4,700.9 L2160.0,708.3 L2160.5,669.5 L2161.1,696.4 L2161.6,725.2 L2162.2,698.2 L2162.8,689.7 L2163.3,707.1 L2163.9,705.7 L2164.5,697.5 L2165.0,686.1 L2165.6,688.2 L2166.1,697.9 L2166.7,685.8 L2167.3,721.3 L2167.8,713.0 L2168.4,716.7 L2169.0,718.9 L2169.5,716.1 L2170.1,723.1 L2170.6,702.9 L2171.2,691.9 L2171.8,720.8 L2172.3,682.4 L2172.9,683.5 L2173.5,678.6 L2174.0,699.9 L2174.6,704.0 L2175.1,716.2 L2175.7,691.5 L2176.3,672.0 L2176.8,702.5 L2177.4,715.6 L2178.0,697.1 L2178.5,694.0 L2179.1,707.9 L2179.6,725.2 L2180.2,695.9 L2180.8,669.5 L2181.3,686.5 L2181.9,694.5 L2182.5,671.4 L2183.0,713.1 L2183.6,683.3 L2184.1,708.3 L2184.7,702.3 L2185.3,734.7 L2185.8,730.5 L2186.4,688.0 L2187.0,686.0 L2187.5,664.4 L2188.1,715.6 L2188.6,699.3 L2189.2,680.4 L2189.8,712.9 L2190.3,711.2 L2190.9,725.6 L2191.5,695.4 L2192.0,703.8 L2192.6,688.9 L2193.2,671.3 L2193.7,701.4 L2194.3,716.5 L2194.8,680.8 L2195.4,687.6 L2196.0,678.2 L2196.5,726.9 L2197.1,689.2 L2197.7,712.9 L2198.2,685.5 L2198.8,704.0 L2199.3,691.0 L2199.9,674.8 L2200.5,705.5 L2201.0,714.7 L2201.6,674.0 L2202.2,702.4 L2202.7,698.1 L2203.3,686.4 L2203.8,702.8 L2204.4,683.9 L2205.0,713.5 L2205.5,731.7 L2206.1,686.2 L2206.7,709.2 L2207.2,737.5 L2207.8,713.6 L2208.3,702.2 L2208.9,695.5 L2209.5,715.8 L2210.0,710.5 L2210.6,724.7 L2211.2,689.5 L2211.7,733.0 L2212.3,706.6 L2212.8,725.4 L2213.4,701.3 L2214.0,691.3 L2214.5,704.2 L2215.1,697.5 L2215.7,707.5 L2216.2,725.1 L2216.8,732.4 L2217.3,717.4 L2217.9,704.6 L2218.5,706.2 L2219.0,724.0 L2219.6,733.3 L2220.2,708.6 L2220.7,712.1 L2221.3,701.7 L2221.8,683.0 L2222.4,731.0 L2223.0,687.7 L2223.5,719.7 L2224.1,706.4 L2224.7,693.1 L2225.2,721.8 L2225.8,715.4 L2226.3,723.6 L2226.9,694.6 L2227.5,738.2 L2228.0,720.7 L2228.6,713.5 L2229.2,746.0 L2229.7,731.6 L2230.3,735.2 L2230.9,741.4 L2231.4,706.4 L2232.0,741.4 L2232.5,716.3 L2233.1,727.6 L2233.7,739.1 L2234.2,710.5 L2234.8,728.9 L2235.4,736.8 L2235.9,722.7 L2236.5,732.2 L2237.0,708.4 L2237.6,702.4 L2238.2,703.1 L2238.7,729.7 L2239.3,743.7 L2239.9,727.3 L2240.4,719.8 L2241.0,720.9 L2241.5,738.8 L2242.1,733.5 L2242.7,700.5 L2243.2,750.7 L2243.8,719.0 L2244.4,733.1 L2244.9,692.9 L2245.5,690.6 L2246.0,727.4 L2246.6,685.2 L2247.2,722.7 L2247.7,721.3 L2248.3,717.5 L2248.9,720.7 L2249.4,718.7 L2250.0,721.5 L2250.5,706.1 L2251.1,712.6 L2251.7,676.7 L2252.2,732.9 L2252.8,723.4 L2253.4,719.4 L2253.9,699.0 L2254.5,716.5 L2255.0,707.9 L2255.6,730.3 L2256.2,695.7 L2256.7,689.7 L2257.3,702.8 L2257.9,727.2 L2258.4,742.0 L2259.0,734.6 L2259.5,696.3 L2260.1,711.5 L2260.7,697.7 L2261.2,713.1 L2261.8,699.6 L2262.4,694.7 L2262.9,726.9 L2263.5,722.4 L2264.0,715.6 L2264.6,726.1 L2265.2,741.1 L2265.7,722.3 L2266.3,712.9 L2266.9,737.2 L2267.4,692.5 L2268.0,735.4 L2268.6,706.4 L2269.1,705.9 L2269.7,723.5 L2270.2,752.9 L2270.8,707.9 L2271.4,739.5 L2271.9,729.0 L2272.5,697.0 L2273.1,739.1 L2273.6,707.9 L2274.2,696.8 L2274.7,709.4 L2275.3,710.9 L2275.9,685.4 L2276.4,711.5 L2277.0,751.2 L2277.6,729.0 L2278.1,712.7 L2278.7,710.9 L2279.2,729.8 L2279.8,695.8 L2280.4,703.7 L2280.9,763.0 L2281.5,737.1 L2282.1,729.1 L2282.6,726.1 L2283.2,721.8 L2283.7,702.2 L2284.3,719.2 L2284.9,707.9 L2285.4,738.4 L2286.0,723.0 L2286.6,720.9 L2287.1,728.7 L2287.7,726.6 L2288.2,724.2 L2288.8,725.3 L2289.4,708.3 L2289.9,694.6 L2290.5,722.4 L2291.1,731.0 L2291.6,730.3 L2292.2,710.5 L2292.7,723.6 L2293.3,705.3 L2293.9,718.4 L2294.4,701.5 L2295.0,713.3 L2295.6,733.2 L2296.1,722.9 L2296.7,734.3 L2297.2,680.9 L2297.8,699.2 L2298.4,709.5 L2298.9,718.9 L2299.5,707.1 L2300.1,726.2 L2300.6,702.2 L2301.2,731.7 L2301.7,725.8 L2302.3,694.3 L2302.9,720.3 L2303.4,708.3 L2304.0,727.3" fill="none" stroke="#000" stroke-width="4.8" stroke-linejoin="bevel"/>
<line x1="1619.1" y1="179" x2="1619.1" y2="729.5" stroke="#000" stroke-width="3" stroke-dasharray="13.3 13"/>
<line x1="2141.5" y1="169.5" x2="2141.5" y2="760" stroke="#000" stroke-width="3" stroke-dasharray="13.5 12.8"/>
<rect x="1345.3" y="50.4" width="962.1" height="743.8" fill="none" stroke="#000" stroke-width="6.2"/>
<rect x="1342.2" y="790" width="968.3" height="8.4" fill="#000"/>
<rect x="1353.5" y="777" width="6" height="14" fill="#000"/>
<rect x="1580.0" y="777" width="8" height="14" fill="#000"/>
<rect x="1808.4" y="777" width="6" height="14" fill="#000"/>
<rect x="2035.5" y="777" width="7" height="14" fill="#000"/>
<rect x="2263.6" y="777" width="6" height="14" fill="#000"/>
<rect x="1467.8" y="783.5" width="6" height="8" fill="#000"/>
<rect x="1694.5" y="783.5" width="6" height="8" fill="#000"/>
<rect x="1922.0" y="783.5" width="6" height="8" fill="#000"/>
<rect x="2149.7" y="783.5" width="6" height="8" fill="#000"/>
<rect x="2302" y="54" width="2.2" height="736" fill="#e9e9f0"/>
<rect x="2334" y="24" width="2.6" height="1578" fill="#ece6e6"/>
<rect x="2301.8" y="122.8" width="3.2" height="2.6" fill="#3a3a3a"/>
<rect x="2301.8" y="197.3" width="3.2" height="2.6" fill="#3a3a3a"/>
<rect x="2301.8" y="271.8" width="3.2" height="2.6" fill="#3a3a3a"/>
<rect x="2301.8" y="346.3" width="3.2" height="2.6" fill="#3a3a3a"/>
<rect x="2301.8" y="420.8" width="3.2" height="2.6" fill="#3a3a3a"/>
<rect x="2301.8" y="495.3" width="3.2" height="2.6" fill="#3a3a3a"/>
<rect x="2301.8" y="569.8" width="3.2" height="2.6" fill="#3a3a3a"/>
<rect x="2301.8" y="644.3" width="3.2" height="2.6" fill="#3a3a3a"/>
<rect x="2301.8" y="718.8" width="3.2" height="2.6" fill="#3a3a3a"/>
<text x="1356.4" y="844.6" font-family="Liberation Serif, Times New Roman, serif" font-size="44" font-weight="bold" text-anchor="middle" fill="#000">60</text>
<text x="1584" y="844.6" font-family="Liberation Serif, Times New Roman, serif" font-size="44" font-weight="bold" text-anchor="middle" fill="#000">66</text>
<text x="1811.4" y="844.6" font-family="Liberation Serif, Times New Roman, serif" font-size="44" font-weight="bold" text-anchor="middle" fill="#000">72</text>
<text x="2039" y="844.6" font-family="Liberation Serif, Times New Roman, serif" font-size="44" font-weight="bold" text-anchor="middle" fill="#000">78</text>
<text x="2266.6" y="844.6" font-family="Liberation Serif, Times New Roman, serif" font-size="44" font-weight="bold" text-anchor="middle" fill="#000">84</text>
<text x="1682.5" y="892" font-family="Liberation Serif, Times New Roman, serif" font-size="59" font-weight="bold" fill="#000">2</text>
<text transform="translate(1714.2,892) scale(1.16,0.93)" x="0" y="0" font-family="Liberation Serif, Times New Roman, serif" font-size="59" font-style="italic" fill="#000">θ</text>
<text transform="translate(1752.7,892) scale(0.963,1)" x="0" y="0" font-family="Liberation Serif, Times New Roman, serif" font-size="59" font-weight="bold" fill="#000" xml:space="preserve">/ degree</text>
<text transform="translate(1297.8,574) rotate(-90)" font-family="Liberation Serif, Times New Roman, serif" font-size="60" font-weight="bold" fill="#000" xml:space="preserve">Intensity / a.u.</text>
<text x="1632" y="150.5" font-family="Liberation Serif, Times New Roman, serif" font-size="44" font-weight="bold" text-anchor="middle" fill="#000">(220)</text>
<text x="2144.4" y="150.5" font-family="Liberation Serif, Times New Roman, serif" font-size="43" font-weight="bold" text-anchor="middle" fill="#000">(311)</text>
</svg>
</body></html>
